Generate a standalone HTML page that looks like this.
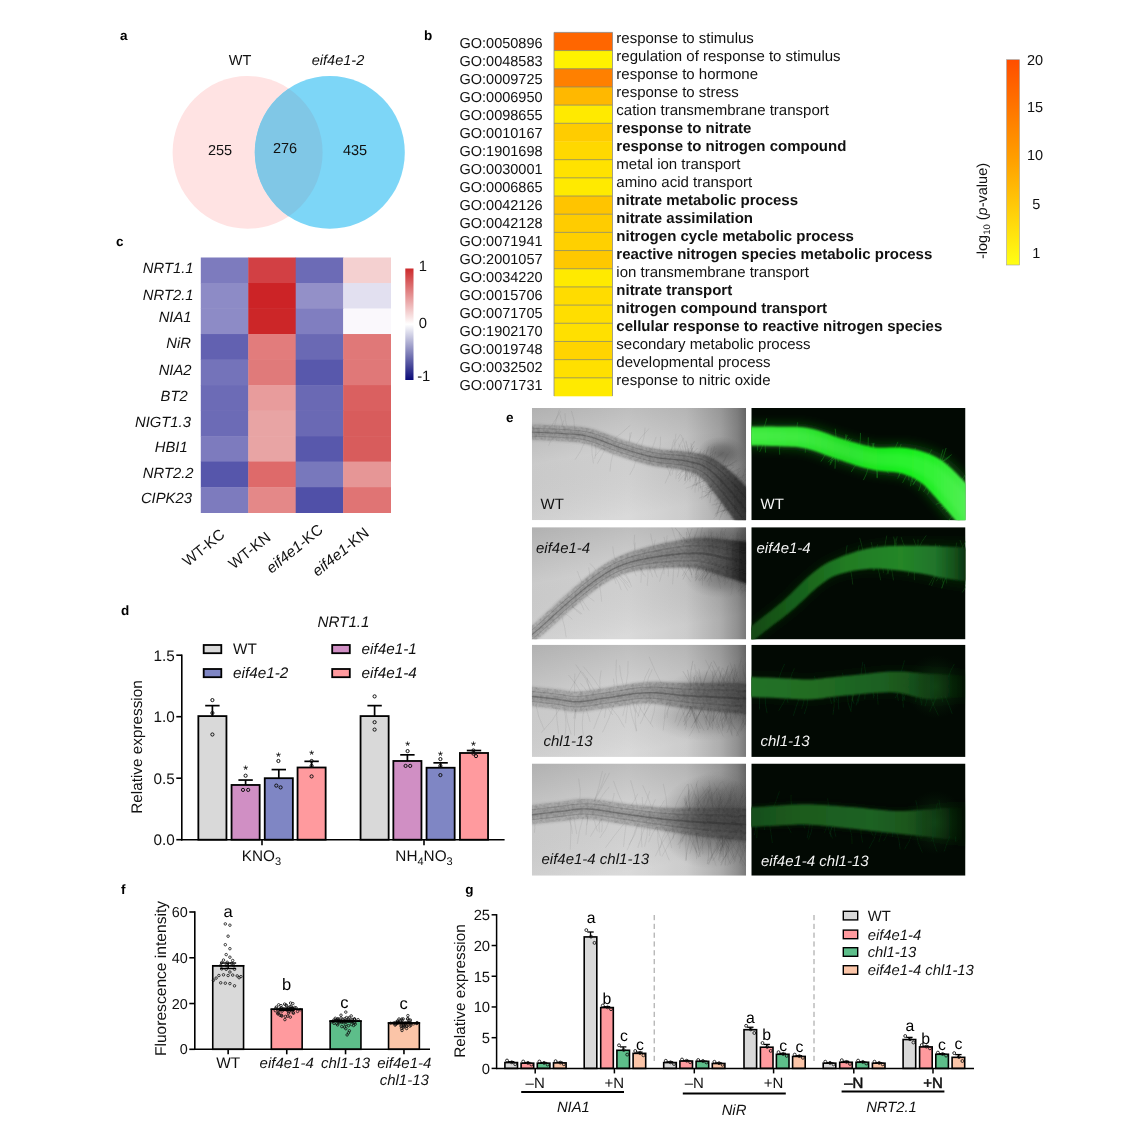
<!DOCTYPE html>
<html><head><meta charset="utf-8"><title>Figure</title>
<style>html,body{margin:0;padding:0;background:#fff;}body{width:1127px;height:1145px;overflow:hidden;font-family:"Liberation Sans",sans-serif;}svg{display:block;will-change:transform;transform:translateZ(0);}</style></head>
<body>
<svg width="1127" height="1145" viewBox="0 0 1127 1145" font-family="'Liberation Sans', sans-serif" text-rendering="geometricPrecision">
<rect width="1127" height="1145" fill="#fff"/>
<ellipse cx="247.6" cy="152.4" rx="75.0" ry="76.4" fill="#FFE3E3"/>
<ellipse cx="329.8" cy="152.4" rx="75.0" ry="76.4" fill="#7DD6F7"/>
<clipPath id="ca"><ellipse cx="247.6" cy="152.4" rx="75.0" ry="76.4"/></clipPath>
<ellipse cx="329.8" cy="152.4" rx="75.0" ry="76.4" fill="#80C7E6" clip-path="url(#ca)"/>
<text x="240.00" y="65.30" font-size="14.5" text-anchor="middle" font-weight="normal" font-style="normal" fill="#111" >WT</text>
<text x="338.00" y="65.30" font-size="14.5" text-anchor="middle" font-weight="normal" font-style="italic" fill="#111" >eif4e1-2</text>
<text x="220.00" y="154.50" font-size="14.5" text-anchor="middle" font-weight="normal" font-style="normal" fill="#111" >255</text>
<text x="285.00" y="153.00" font-size="14.5" text-anchor="middle" font-weight="normal" font-style="normal" fill="#111" >276</text>
<text x="355.00" y="154.50" font-size="14.5" text-anchor="middle" font-weight="normal" font-style="normal" fill="#111" >435</text>
<rect x="554.00" y="32.40" width="58.50" height="18.48" fill="#FF6600" stroke="none" stroke-width="0" />
<rect x="554.00" y="50.58" width="58.50" height="18.48" fill="#FFF200" stroke="none" stroke-width="0" />
<rect x="554.00" y="68.76" width="58.50" height="18.48" fill="#FF8000" stroke="none" stroke-width="0" />
<rect x="554.00" y="86.94" width="58.50" height="18.48" fill="#FFB800" stroke="none" stroke-width="0" />
<rect x="554.00" y="105.12" width="58.50" height="18.48" fill="#FFEA00" stroke="none" stroke-width="0" />
<rect x="554.00" y="123.30" width="58.50" height="18.48" fill="#FFCC00" stroke="none" stroke-width="0" />
<rect x="554.00" y="141.48" width="58.50" height="18.48" fill="#FFD800" stroke="none" stroke-width="0" />
<rect x="554.00" y="159.66" width="58.50" height="18.48" fill="#FFE200" stroke="none" stroke-width="0" />
<rect x="554.00" y="177.84" width="58.50" height="18.48" fill="#FFEA00" stroke="none" stroke-width="0" />
<rect x="554.00" y="196.02" width="58.50" height="18.48" fill="#FFC400" stroke="none" stroke-width="0" />
<rect x="554.00" y="214.20" width="58.50" height="18.48" fill="#FFCC00" stroke="none" stroke-width="0" />
<rect x="554.00" y="232.38" width="58.50" height="18.48" fill="#FFD000" stroke="none" stroke-width="0" />
<rect x="554.00" y="250.56" width="58.50" height="18.48" fill="#FFC800" stroke="none" stroke-width="0" />
<rect x="554.00" y="268.74" width="58.50" height="18.48" fill="#FFEA00" stroke="none" stroke-width="0" />
<rect x="554.00" y="286.92" width="58.50" height="18.48" fill="#FFDC00" stroke="none" stroke-width="0" />
<rect x="554.00" y="305.10" width="58.50" height="18.48" fill="#FFDE00" stroke="none" stroke-width="0" />
<rect x="554.00" y="323.28" width="58.50" height="18.48" fill="#FFE000" stroke="none" stroke-width="0" />
<rect x="554.00" y="341.46" width="58.50" height="18.48" fill="#FFD400" stroke="none" stroke-width="0" />
<rect x="554.00" y="359.64" width="58.50" height="18.48" fill="#FFE000" stroke="none" stroke-width="0" />
<rect x="554.00" y="377.82" width="58.50" height="18.48" fill="#FFEA00" stroke="none" stroke-width="0" />
<line x1="554.00" y1="50.58" x2="612.50" y2="50.58" stroke="#8a8a6a" stroke-width="0.8" />
<line x1="554.00" y1="68.76" x2="612.50" y2="68.76" stroke="#8a8a6a" stroke-width="0.8" />
<line x1="554.00" y1="86.94" x2="612.50" y2="86.94" stroke="#8a8a6a" stroke-width="0.8" />
<line x1="554.00" y1="105.12" x2="612.50" y2="105.12" stroke="#8a8a6a" stroke-width="0.8" />
<line x1="554.00" y1="123.30" x2="612.50" y2="123.30" stroke="#8a8a6a" stroke-width="0.8" />
<line x1="554.00" y1="159.66" x2="612.50" y2="159.66" stroke="#8a8a6a" stroke-width="0.8" />
<line x1="554.00" y1="177.84" x2="612.50" y2="177.84" stroke="#8a8a6a" stroke-width="0.8" />
<line x1="554.00" y1="196.02" x2="612.50" y2="196.02" stroke="#8a8a6a" stroke-width="0.8" />
<line x1="554.00" y1="214.20" x2="612.50" y2="214.20" stroke="#8a8a6a" stroke-width="0.8" />
<line x1="554.00" y1="232.38" x2="612.50" y2="232.38" stroke="#8a8a6a" stroke-width="0.8" />
<line x1="554.00" y1="250.56" x2="612.50" y2="250.56" stroke="#8a8a6a" stroke-width="0.8" />
<line x1="554.00" y1="268.74" x2="612.50" y2="268.74" stroke="#8a8a6a" stroke-width="0.8" />
<line x1="554.00" y1="286.92" x2="612.50" y2="286.92" stroke="#8a8a6a" stroke-width="0.8" />
<line x1="554.00" y1="305.10" x2="612.50" y2="305.10" stroke="#8a8a6a" stroke-width="0.8" />
<line x1="554.00" y1="323.28" x2="612.50" y2="323.28" stroke="#8a8a6a" stroke-width="0.8" />
<line x1="554.00" y1="341.46" x2="612.50" y2="341.46" stroke="#8a8a6a" stroke-width="0.8" />
<line x1="554.00" y1="359.64" x2="612.50" y2="359.64" stroke="#8a8a6a" stroke-width="0.8" />
<line x1="554.00" y1="377.82" x2="612.50" y2="377.82" stroke="#8a8a6a" stroke-width="0.8" />
<path d="M554.0 396.0 L554.0 32.4 L612.5 32.4 L612.5 396.0" fill="none" stroke="#8a8a8a" stroke-width="0.8"/>
<text x="459.50" y="47.70" font-size="14.5" text-anchor="start" font-weight="normal" font-style="normal" fill="#111" >GO:0050896</text>
<text x="616.30" y="42.60" font-size="15.0" text-anchor="start" font-weight="normal" font-style="normal" fill="#111" >response to stimulus</text>
<text x="459.50" y="65.71" font-size="14.5" text-anchor="start" font-weight="normal" font-style="normal" fill="#111" >GO:0048583</text>
<text x="616.30" y="60.62" font-size="15.0" text-anchor="start" font-weight="normal" font-style="normal" fill="#111" >regulation of response to stimulus</text>
<text x="459.50" y="83.72" font-size="14.5" text-anchor="start" font-weight="normal" font-style="normal" fill="#111" >GO:0009725</text>
<text x="616.30" y="78.64" font-size="15.0" text-anchor="start" font-weight="normal" font-style="normal" fill="#111" >response to hormone</text>
<text x="459.50" y="101.73" font-size="14.5" text-anchor="start" font-weight="normal" font-style="normal" fill="#111" >GO:0006950</text>
<text x="616.30" y="96.66" font-size="15.0" text-anchor="start" font-weight="normal" font-style="normal" fill="#111" >response to stress</text>
<text x="459.50" y="119.74" font-size="14.5" text-anchor="start" font-weight="normal" font-style="normal" fill="#111" >GO:0098655</text>
<text x="616.30" y="114.68" font-size="15.0" text-anchor="start" font-weight="normal" font-style="normal" fill="#111" >cation transmembrane transport</text>
<text x="459.50" y="137.75" font-size="14.5" text-anchor="start" font-weight="normal" font-style="normal" fill="#111" >GO:0010167</text>
<text x="616.30" y="132.70" font-size="15.0" text-anchor="start" font-weight="bold" font-style="normal" fill="#111" >response to nitrate</text>
<text x="459.50" y="155.76" font-size="14.5" text-anchor="start" font-weight="normal" font-style="normal" fill="#111" >GO:1901698</text>
<text x="616.30" y="150.72" font-size="15.0" text-anchor="start" font-weight="bold" font-style="normal" fill="#111" >response to nitrogen compound</text>
<text x="459.50" y="173.77" font-size="14.5" text-anchor="start" font-weight="normal" font-style="normal" fill="#111" >GO:0030001</text>
<text x="616.30" y="168.74" font-size="15.0" text-anchor="start" font-weight="normal" font-style="normal" fill="#111" >metal ion transport</text>
<text x="459.50" y="191.78" font-size="14.5" text-anchor="start" font-weight="normal" font-style="normal" fill="#111" >GO:0006865</text>
<text x="616.30" y="186.76" font-size="15.0" text-anchor="start" font-weight="normal" font-style="normal" fill="#111" >amino acid transport</text>
<text x="459.50" y="209.79" font-size="14.5" text-anchor="start" font-weight="normal" font-style="normal" fill="#111" >GO:0042126</text>
<text x="616.30" y="204.78" font-size="15.0" text-anchor="start" font-weight="bold" font-style="normal" fill="#111" >nitrate metabolic process</text>
<text x="459.50" y="227.80" font-size="14.5" text-anchor="start" font-weight="normal" font-style="normal" fill="#111" >GO:0042128</text>
<text x="616.30" y="222.80" font-size="15.0" text-anchor="start" font-weight="bold" font-style="normal" fill="#111" >nitrate assimilation</text>
<text x="459.50" y="245.81" font-size="14.5" text-anchor="start" font-weight="normal" font-style="normal" fill="#111" >GO:0071941</text>
<text x="616.30" y="240.82" font-size="15.0" text-anchor="start" font-weight="bold" font-style="normal" fill="#111" >nitrogen cycle metabolic process</text>
<text x="459.50" y="263.82" font-size="14.5" text-anchor="start" font-weight="normal" font-style="normal" fill="#111" >GO:2001057</text>
<text x="616.30" y="258.84" font-size="15.0" text-anchor="start" font-weight="bold" font-style="normal" fill="#111" >reactive nitrogen species metabolic process</text>
<text x="459.50" y="281.83" font-size="14.5" text-anchor="start" font-weight="normal" font-style="normal" fill="#111" >GO:0034220</text>
<text x="616.30" y="276.86" font-size="15.0" text-anchor="start" font-weight="normal" font-style="normal" fill="#111" >ion transmembrane transport</text>
<text x="459.50" y="299.84" font-size="14.5" text-anchor="start" font-weight="normal" font-style="normal" fill="#111" >GO:0015706</text>
<text x="616.30" y="294.88" font-size="15.0" text-anchor="start" font-weight="bold" font-style="normal" fill="#111" >nitrate transport</text>
<text x="459.50" y="317.85" font-size="14.5" text-anchor="start" font-weight="normal" font-style="normal" fill="#111" >GO:0071705</text>
<text x="616.30" y="312.90" font-size="15.0" text-anchor="start" font-weight="bold" font-style="normal" fill="#111" >nitrogen compound transport</text>
<text x="459.50" y="335.86" font-size="14.5" text-anchor="start" font-weight="normal" font-style="normal" fill="#111" >GO:1902170</text>
<text x="616.30" y="330.92" font-size="15.0" text-anchor="start" font-weight="bold" font-style="normal" fill="#111" >cellular response to reactive nitrogen species</text>
<text x="459.50" y="353.87" font-size="14.5" text-anchor="start" font-weight="normal" font-style="normal" fill="#111" >GO:0019748</text>
<text x="616.30" y="348.94" font-size="15.0" text-anchor="start" font-weight="normal" font-style="normal" fill="#111" >secondary metabolic process</text>
<text x="459.50" y="371.88" font-size="14.5" text-anchor="start" font-weight="normal" font-style="normal" fill="#111" >GO:0032502</text>
<text x="616.30" y="366.96" font-size="15.0" text-anchor="start" font-weight="normal" font-style="normal" fill="#111" >developmental process</text>
<text x="459.50" y="389.89" font-size="14.5" text-anchor="start" font-weight="normal" font-style="normal" fill="#111" >GO:0071731</text>
<text x="616.30" y="384.98" font-size="15.0" text-anchor="start" font-weight="normal" font-style="normal" fill="#111" >response to nitric oxide</text>
<linearGradient id="gb" x1="0" y1="0" x2="0" y2="1"><stop offset="0" stop-color="#FF4E00"/><stop offset="0.5" stop-color="#FFA200"/><stop offset="1" stop-color="#FFFF14"/></linearGradient>
<rect x="1006.60" y="59.70" width="13.00" height="205.30" fill="url(#gb)" stroke="#a0a0a0" stroke-width="0.6" />
<text x="1035.00" y="64.70" font-size="14.5" text-anchor="middle" font-weight="normal" font-style="normal" fill="#111" >20</text>
<text x="1035.00" y="111.60" font-size="14.5" text-anchor="middle" font-weight="normal" font-style="normal" fill="#111" >15</text>
<text x="1035.00" y="160.30" font-size="14.5" text-anchor="middle" font-weight="normal" font-style="normal" fill="#111" >10</text>
<text x="1036.30" y="209.20" font-size="14.5" text-anchor="middle" font-weight="normal" font-style="normal" fill="#111" >5</text>
<text x="1036.30" y="258.00" font-size="14.5" text-anchor="middle" font-weight="normal" font-style="normal" fill="#111" >1</text>
<text transform="translate(987.2,259.0) rotate(-90)" font-size="14.5" fill="#111">-log<tspan font-size="9.5" dy="3">10</tspan><tspan dy="-3"> (</tspan><tspan font-style="italic">p</tspan>-value)</text>
<rect x="200.80" y="257.50" width="47.85" height="25.91" fill="#7D7BBE" stroke="none" stroke-width="0" />
<rect x="248.25" y="257.50" width="47.85" height="25.91" fill="#D24044" stroke="none" stroke-width="0" />
<rect x="295.70" y="257.50" width="47.85" height="25.91" fill="#6C6BB6" stroke="none" stroke-width="0" />
<rect x="343.15" y="257.50" width="47.85" height="25.91" fill="#F4D0D0" stroke="none" stroke-width="0" />
<rect x="200.80" y="283.01" width="47.85" height="25.91" fill="#8D8BC6" stroke="none" stroke-width="0" />
<rect x="248.25" y="283.01" width="47.85" height="25.91" fill="#CC2326" stroke="none" stroke-width="0" />
<rect x="295.70" y="283.01" width="47.85" height="25.91" fill="#9390C8" stroke="none" stroke-width="0" />
<rect x="343.15" y="283.01" width="47.85" height="25.91" fill="#E2E0F0" stroke="none" stroke-width="0" />
<rect x="200.80" y="308.52" width="47.85" height="25.91" fill="#8D8BC6" stroke="none" stroke-width="0" />
<rect x="248.25" y="308.52" width="47.85" height="25.91" fill="#CC2628" stroke="none" stroke-width="0" />
<rect x="295.70" y="308.52" width="47.85" height="25.91" fill="#807EC0" stroke="none" stroke-width="0" />
<rect x="343.15" y="308.52" width="47.85" height="25.91" fill="#FAF8FC" stroke="none" stroke-width="0" />
<rect x="200.80" y="334.03" width="47.85" height="25.91" fill="#6261B1" stroke="none" stroke-width="0" />
<rect x="248.25" y="334.03" width="47.85" height="25.91" fill="#E27C7C" stroke="none" stroke-width="0" />
<rect x="295.70" y="334.03" width="47.85" height="25.91" fill="#6A69B4" stroke="none" stroke-width="0" />
<rect x="343.15" y="334.03" width="47.85" height="25.91" fill="#E07878" stroke="none" stroke-width="0" />
<rect x="200.80" y="359.54" width="47.85" height="25.91" fill="#7473BA" stroke="none" stroke-width="0" />
<rect x="248.25" y="359.54" width="47.85" height="25.91" fill="#E07A7A" stroke="none" stroke-width="0" />
<rect x="295.70" y="359.54" width="47.85" height="25.91" fill="#5858AC" stroke="none" stroke-width="0" />
<rect x="343.15" y="359.54" width="47.85" height="25.91" fill="#E07878" stroke="none" stroke-width="0" />
<rect x="200.80" y="385.05" width="47.85" height="25.91" fill="#6C6BB6" stroke="none" stroke-width="0" />
<rect x="248.25" y="385.05" width="47.85" height="25.91" fill="#E89C9C" stroke="none" stroke-width="0" />
<rect x="295.70" y="385.05" width="47.85" height="25.91" fill="#6A69B4" stroke="none" stroke-width="0" />
<rect x="343.15" y="385.05" width="47.85" height="25.91" fill="#DA6060" stroke="none" stroke-width="0" />
<rect x="200.80" y="410.56" width="47.85" height="25.91" fill="#6C6BB6" stroke="none" stroke-width="0" />
<rect x="248.25" y="410.56" width="47.85" height="25.91" fill="#E8A4A4" stroke="none" stroke-width="0" />
<rect x="295.70" y="410.56" width="47.85" height="25.91" fill="#6A69B4" stroke="none" stroke-width="0" />
<rect x="343.15" y="410.56" width="47.85" height="25.91" fill="#D85C5C" stroke="none" stroke-width="0" />
<rect x="200.80" y="436.07" width="47.85" height="25.91" fill="#7D7BBE" stroke="none" stroke-width="0" />
<rect x="248.25" y="436.07" width="47.85" height="25.91" fill="#E8A4A4" stroke="none" stroke-width="0" />
<rect x="295.70" y="436.07" width="47.85" height="25.91" fill="#5858AC" stroke="none" stroke-width="0" />
<rect x="343.15" y="436.07" width="47.85" height="25.91" fill="#D85C5C" stroke="none" stroke-width="0" />
<rect x="200.80" y="461.58" width="47.85" height="25.91" fill="#5656AB" stroke="none" stroke-width="0" />
<rect x="248.25" y="461.58" width="47.85" height="25.91" fill="#DE6A6A" stroke="none" stroke-width="0" />
<rect x="295.70" y="461.58" width="47.85" height="25.91" fill="#7878BC" stroke="none" stroke-width="0" />
<rect x="343.15" y="461.58" width="47.85" height="25.91" fill="#E69696" stroke="none" stroke-width="0" />
<rect x="200.80" y="487.09" width="47.85" height="25.91" fill="#7D7BBE" stroke="none" stroke-width="0" />
<rect x="248.25" y="487.09" width="47.85" height="25.91" fill="#E48888" stroke="none" stroke-width="0" />
<rect x="295.70" y="487.09" width="47.85" height="25.91" fill="#5050A8" stroke="none" stroke-width="0" />
<rect x="343.15" y="487.09" width="47.85" height="25.91" fill="#E07474" stroke="none" stroke-width="0" />
<text x="193.50" y="272.80" font-size="14.8" text-anchor="end" font-weight="normal" font-style="italic" fill="#111" >NRT1.1</text>
<text x="193.50" y="300.41" font-size="14.8" text-anchor="end" font-weight="normal" font-style="italic" fill="#111" >NRT2.1</text>
<text x="191.60" y="322.42" font-size="14.8" text-anchor="end" font-weight="normal" font-style="italic" fill="#111" >NIA1</text>
<text x="190.90" y="348.13" font-size="14.8" text-anchor="end" font-weight="normal" font-style="italic" fill="#111" >NiR</text>
<text x="191.60" y="375.04" font-size="14.8" text-anchor="end" font-weight="normal" font-style="italic" fill="#111" >NIA2</text>
<text x="187.70" y="400.65" font-size="14.8" text-anchor="end" font-weight="normal" font-style="italic" fill="#111" >BT2</text>
<text x="190.90" y="427.26" font-size="14.8" text-anchor="end" font-weight="normal" font-style="italic" fill="#111" >NIGT1.3</text>
<text x="187.70" y="451.87" font-size="14.8" text-anchor="end" font-weight="normal" font-style="italic" fill="#111" >HBI1</text>
<text x="193.50" y="478.48" font-size="14.8" text-anchor="end" font-weight="normal" font-style="italic" fill="#111" >NRT2.2</text>
<text x="191.90" y="502.99" font-size="14.8" text-anchor="end" font-weight="normal" font-style="italic" fill="#111" >CIPK23</text>
<text transform="translate(225.9,536.2) rotate(-39)" text-anchor="end" font-size="15.2" fill="#111">WT-KC</text>
<text transform="translate(271.8,539.0) rotate(-39)" text-anchor="end" font-size="15.2" fill="#111">WT-KN</text>
<text transform="translate(324.0,531.4) rotate(-39)" text-anchor="end" font-size="15.2" fill="#111"><tspan font-style="italic">eif4e1</tspan>-KC</text>
<text transform="translate(369.9,534.6) rotate(-39)" text-anchor="end" font-size="15.2" fill="#111"><tspan font-style="italic">eif4e1</tspan>-KN</text>
<linearGradient id="gc" x1="0" y1="0" x2="0" y2="1"><stop offset="0" stop-color="#CC2A2C"/><stop offset="0.5" stop-color="#FFFFFF"/><stop offset="1" stop-color="#0A0A78"/></linearGradient>
<rect x="405.30" y="268.50" width="8.20" height="111.50" fill="url(#gc)" stroke="none" stroke-width="0" />
<text x="418.80" y="271.00" font-size="14.8" text-anchor="start" font-weight="normal" font-style="normal" fill="#111" >1</text>
<text x="418.80" y="328.00" font-size="14.8" text-anchor="start" font-weight="normal" font-style="normal" fill="#111" >0</text>
<text x="417.20" y="380.50" font-size="14.8" text-anchor="start" font-weight="normal" font-style="normal" fill="#111" >-1</text>
<text x="343.50" y="627.20" font-size="15.2" text-anchor="middle" font-weight="normal" font-style="italic" fill="#111" >NRT1.1</text>
<rect x="203.70" y="645.00" width="17.60" height="8.20" fill="#D9D9D9" stroke="#000" stroke-width="1.8" />
<text x="233.10" y="654.30" font-size="15.3" text-anchor="start" font-weight="normal" font-style="normal" fill="#111" >WT</text>
<rect x="203.70" y="669.00" width="17.60" height="8.20" fill="#7F86C4" stroke="#000" stroke-width="1.8" />
<text x="233.10" y="678.30" font-size="15.3" text-anchor="start" font-weight="normal" font-style="italic" fill="#111" >eif4e1-2</text>
<rect x="332.20" y="645.00" width="17.60" height="8.20" fill="#D08FC4" stroke="#000" stroke-width="1.8" />
<text x="361.60" y="654.30" font-size="15.3" text-anchor="start" font-weight="normal" font-style="italic" fill="#111" >eif4e1-1</text>
<rect x="332.20" y="669.00" width="17.60" height="8.20" fill="#FF9A9E" stroke="#000" stroke-width="1.8" />
<text x="361.60" y="678.30" font-size="15.3" text-anchor="start" font-weight="normal" font-style="italic" fill="#111" >eif4e1-4</text>
<rect x="198.35" y="716.09" width="28.10" height="123.62" fill="#D9D9D9" stroke="#000" stroke-width="1.8" />
<line x1="212.40" y1="705.63" x2="212.40" y2="716.09" stroke="#000" stroke-width="1.7" />
<line x1="205.20" y1="705.63" x2="219.60" y2="705.63" stroke="#000" stroke-width="1.7" />
<rect x="231.55" y="784.97" width="28.10" height="54.74" fill="#D08FC4" stroke="#000" stroke-width="1.8" />
<line x1="245.60" y1="780.05" x2="245.60" y2="784.97" stroke="#000" stroke-width="1.7" />
<line x1="238.40" y1="780.05" x2="252.80" y2="780.05" stroke="#000" stroke-width="1.7" />
<rect x="264.75" y="778.20" width="28.10" height="61.50" fill="#7F86C4" stroke="#000" stroke-width="1.8" />
<line x1="278.80" y1="769.59" x2="278.80" y2="778.20" stroke="#000" stroke-width="1.7" />
<line x1="271.60" y1="769.59" x2="286.00" y2="769.59" stroke="#000" stroke-width="1.7" />
<rect x="297.55" y="767.50" width="28.10" height="72.20" fill="#FF9A9E" stroke="#000" stroke-width="1.8" />
<line x1="311.60" y1="761.35" x2="311.60" y2="767.50" stroke="#000" stroke-width="1.7" />
<line x1="304.40" y1="761.35" x2="318.80" y2="761.35" stroke="#000" stroke-width="1.7" />
<rect x="360.55" y="716.09" width="28.10" height="123.62" fill="#D9D9D9" stroke="#000" stroke-width="1.8" />
<line x1="374.60" y1="705.63" x2="374.60" y2="716.09" stroke="#000" stroke-width="1.7" />
<line x1="367.40" y1="705.63" x2="381.80" y2="705.63" stroke="#000" stroke-width="1.7" />
<rect x="393.35" y="760.98" width="28.10" height="78.72" fill="#D08FC4" stroke="#000" stroke-width="1.8" />
<line x1="407.40" y1="754.83" x2="407.40" y2="760.98" stroke="#000" stroke-width="1.7" />
<line x1="400.20" y1="754.83" x2="414.60" y2="754.83" stroke="#000" stroke-width="1.7" />
<rect x="426.55" y="767.75" width="28.10" height="71.96" fill="#7F86C4" stroke="#000" stroke-width="1.8" />
<line x1="440.60" y1="762.83" x2="440.60" y2="767.75" stroke="#000" stroke-width="1.7" />
<line x1="433.40" y1="762.83" x2="447.80" y2="762.83" stroke="#000" stroke-width="1.7" />
<rect x="459.95" y="752.99" width="28.10" height="86.72" fill="#FF9A9E" stroke="#000" stroke-width="1.8" />
<line x1="474.00" y1="750.53" x2="474.00" y2="752.99" stroke="#000" stroke-width="1.7" />
<line x1="466.80" y1="750.53" x2="481.20" y2="750.53" stroke="#000" stroke-width="1.7" />
<circle cx="212.4" cy="700.1" r="1.6" fill="none" stroke="#111" stroke-width="1.0"/>
<circle cx="212.4" cy="713.0" r="1.6" fill="none" stroke="#111" stroke-width="1.0"/>
<circle cx="212.4" cy="734.5" r="1.6" fill="none" stroke="#111" stroke-width="1.0"/>
<circle cx="243.0" cy="789.9" r="1.6" fill="none" stroke="#111" stroke-width="1.0"/>
<circle cx="248.2" cy="789.9" r="1.6" fill="none" stroke="#111" stroke-width="1.0"/>
<circle cx="245.6" cy="775.7" r="1.6" fill="none" stroke="#111" stroke-width="1.0"/>
<circle cx="276.3" cy="785.6" r="1.6" fill="none" stroke="#111" stroke-width="1.0"/>
<circle cx="280.6" cy="787.4" r="1.6" fill="none" stroke="#111" stroke-width="1.0"/>
<circle cx="278.4" cy="761.0" r="1.6" fill="none" stroke="#111" stroke-width="1.0"/>
<circle cx="311.6" cy="776.4" r="1.6" fill="none" stroke="#111" stroke-width="1.0"/>
<circle cx="311.6" cy="765.9" r="1.6" fill="none" stroke="#111" stroke-width="1.0"/>
<circle cx="311.6" cy="761.0" r="1.6" fill="none" stroke="#111" stroke-width="1.0"/>
<circle cx="374.6" cy="696.4" r="1.6" fill="none" stroke="#111" stroke-width="1.0"/>
<circle cx="374.6" cy="722.2" r="1.6" fill="none" stroke="#111" stroke-width="1.0"/>
<circle cx="374.6" cy="729.6" r="1.6" fill="none" stroke="#111" stroke-width="1.0"/>
<circle cx="405.6" cy="765.9" r="1.6" fill="none" stroke="#111" stroke-width="1.0"/>
<circle cx="410.2" cy="765.9" r="1.6" fill="none" stroke="#111" stroke-width="1.0"/>
<circle cx="407.6" cy="751.1" r="1.6" fill="none" stroke="#111" stroke-width="1.0"/>
<circle cx="440.4" cy="775.1" r="1.6" fill="none" stroke="#111" stroke-width="1.0"/>
<circle cx="440.4" cy="765.9" r="1.6" fill="none" stroke="#111" stroke-width="1.0"/>
<circle cx="440.4" cy="759.1" r="1.6" fill="none" stroke="#111" stroke-width="1.0"/>
<circle cx="473.4" cy="753.6" r="1.6" fill="none" stroke="#111" stroke-width="1.0"/>
<circle cx="476.0" cy="756.1" r="1.6" fill="none" stroke="#111" stroke-width="1.0"/>
<circle cx="473.4" cy="750.5" r="1.6" fill="none" stroke="#111" stroke-width="1.0"/>
<text x="245.60" y="774.48" font-size="12.5" text-anchor="middle" font-weight="normal" font-style="normal" fill="#000" >*</text>
<text x="278.40" y="760.95" font-size="12.5" text-anchor="middle" font-weight="normal" font-style="normal" fill="#000" >*</text>
<text x="311.60" y="759.10" font-size="12.5" text-anchor="middle" font-weight="normal" font-style="normal" fill="#000" >*</text>
<text x="407.60" y="749.88" font-size="12.5" text-anchor="middle" font-weight="normal" font-style="normal" fill="#000" >*</text>
<text x="440.40" y="760.33" font-size="12.5" text-anchor="middle" font-weight="normal" font-style="normal" fill="#000" >*</text>
<text x="473.40" y="749.88" font-size="12.5" text-anchor="middle" font-weight="normal" font-style="normal" fill="#000" >*</text>
<line x1="181.80" y1="654.40" x2="181.80" y2="840.50" stroke="#000" stroke-width="1.6" />
<line x1="181.00" y1="839.70" x2="504.60" y2="839.70" stroke="#000" stroke-width="1.6" />
<line x1="176.30" y1="839.70" x2="181.80" y2="839.70" stroke="#000" stroke-width="1.6" />
<text x="174.80" y="845.30" font-size="15.3" text-anchor="end" font-weight="normal" font-style="normal" fill="#111" >0.0</text>
<line x1="176.30" y1="778.20" x2="181.80" y2="778.20" stroke="#000" stroke-width="1.6" />
<text x="174.80" y="783.80" font-size="15.3" text-anchor="end" font-weight="normal" font-style="normal" fill="#111" >0.5</text>
<line x1="176.30" y1="716.70" x2="181.80" y2="716.70" stroke="#000" stroke-width="1.6" />
<text x="174.80" y="722.30" font-size="15.3" text-anchor="end" font-weight="normal" font-style="normal" fill="#111" >1.0</text>
<line x1="176.30" y1="655.20" x2="181.80" y2="655.20" stroke="#000" stroke-width="1.6" />
<text x="174.80" y="660.80" font-size="15.3" text-anchor="end" font-weight="normal" font-style="normal" fill="#111" >1.5</text>
<line x1="262.00" y1="839.70" x2="262.00" y2="845.20" stroke="#000" stroke-width="1.6" />
<line x1="424.00" y1="839.70" x2="424.00" y2="845.20" stroke="#000" stroke-width="1.6" />
<text x="261.5" y="861.3" font-size="15.3" text-anchor="middle" fill="#111">KNO<tspan font-size="11" dy="4">3</tspan></text>
<text x="424" y="861.3" font-size="15.3" text-anchor="middle" fill="#111">NH<tspan font-size="11" dy="4">4</tspan><tspan dy="-4">NO</tspan><tspan font-size="11" dy="4">3</tspan></text>
<text transform="translate(141.5,747) rotate(-90)" text-anchor="middle" font-size="15.3" fill="#111">Relative expression</text>
<defs>
<filter id="bl0" x="-10%" y="-30%" width="120%" height="160%"><feGaussianBlur stdDeviation="0.5"/></filter>
<radialGradient id="fan"><stop offset="0" stop-color="#15501a" stop-opacity="1"/><stop offset="0.5" stop-color="#124416" stop-opacity="0.5"/><stop offset="1" stop-color="#0a300e" stop-opacity="0"/></radialGradient>
<radialGradient id="tuft"><stop offset="0" stop-color="#333" stop-opacity="1"/><stop offset="0.45" stop-color="#333" stop-opacity="0.62"/><stop offset="0.75" stop-color="#333" stop-opacity="0.2"/><stop offset="1" stop-color="#333" stop-opacity="0"/></radialGradient>
<filter id="bl05" x="-10%" y="-30%" width="120%" height="160%"><feGaussianBlur stdDeviation="0.75"/></filter>
<filter id="grain" x="0" y="0" width="100%" height="100%"><feTurbulence type="fractalNoise" baseFrequency="0.35" numOctaves="2" seed="4" result="n"/><feColorMatrix in="n" type="matrix" values="0 0 0 0 0  0 0 0 0 0  0 0 0 0 0  1.6 0 0 0 -0.55"/></filter>
<filter id="bl1" x="-10%" y="-30%" width="120%" height="160%"><feGaussianBlur stdDeviation="1.0"/></filter>
<filter id="bl2" x="-10%" y="-30%" width="120%" height="160%"><feGaussianBlur stdDeviation="2.2"/></filter>
<filter id="bl3" x="-20%" y="-60%" width="140%" height="220%"><feGaussianBlur stdDeviation="5"/></filter>
<linearGradient id="bfh" x1="0" y1="0" x2="1" y2="0"><stop offset="0" stop-color="#d0d0d0"/><stop offset="0.45" stop-color="#d6d6d6"/><stop offset="0.72" stop-color="#c6c6c6"/><stop offset="0.88" stop-color="#a4a4a4"/><stop offset="0.96" stop-color="#848484"/><stop offset="1" stop-color="#6a6a6a"/></linearGradient>
<linearGradient id="bfv" x1="0" y1="0" x2="0.35" y2="1"><stop offset="0" stop-color="#000" stop-opacity="0.15"/><stop offset="0.45" stop-color="#000" stop-opacity="0.03"/><stop offset="1" stop-color="#fff" stop-opacity="0.10"/></linearGradient>
<linearGradient id="bb0" gradientUnits="userSpaceOnUse" x1="0" y1="0" x2="214" y2="0"><stop offset="0" stop-color="#585858" stop-opacity="0.26"/><stop offset="0.5" stop-color="#505050" stop-opacity="0.34"/><stop offset="0.75" stop-color="#404040" stop-opacity="0.48"/><stop offset="0.9" stop-color="#2c2c2c" stop-opacity="0.66"/><stop offset="1" stop-color="#202020" stop-opacity="0.78"/></linearGradient>
<linearGradient id="fb0" gradientUnits="userSpaceOnUse" x1="0" y1="0" x2="214" y2="0"><stop offset="0" stop-color="#3ae83a"/><stop offset="0.25" stop-color="#2ee430"/><stop offset="0.45" stop-color="#20dc22"/><stop offset="0.7" stop-color="#14ee1a"/><stop offset="0.85" stop-color="#24ee28"/><stop offset="1" stop-color="#48ea4a"/></linearGradient>
<clipPath id="cl00"><rect x="531.9" y="408.0" width="214.2" height="112.2"/></clipPath>
<clipPath id="cl01"><rect x="751.3" y="408.0" width="214.2" height="112.2"/></clipPath>
<linearGradient id="bb1" gradientUnits="userSpaceOnUse" x1="0" y1="0" x2="214" y2="0"><stop offset="0" stop-color="#585858" stop-opacity="0.26"/><stop offset="0.4" stop-color="#505050" stop-opacity="0.34"/><stop offset="0.7" stop-color="#444444" stop-opacity="0.46"/><stop offset="0.9" stop-color="#303030" stop-opacity="0.64"/><stop offset="1" stop-color="#141414" stop-opacity="0.88"/></linearGradient>
<linearGradient id="fb1" gradientUnits="userSpaceOnUse" x1="0" y1="0" x2="214" y2="0"><stop offset="0" stop-color="#124a15"/><stop offset="0.25" stop-color="#19641c"/><stop offset="0.45" stop-color="#217c24"/><stop offset="0.7" stop-color="#258628"/><stop offset="0.86" stop-color="#20742a"/><stop offset="0.95" stop-color="#15501a"/><stop offset="1" stop-color="#0c3410"/></linearGradient>
<clipPath id="cl10"><rect x="531.9" y="527.2" width="214.2" height="112.2"/></clipPath>
<clipPath id="cl11"><rect x="751.3" y="527.2" width="214.2" height="112.2"/></clipPath>
<linearGradient id="bb2" gradientUnits="userSpaceOnUse" x1="0" y1="0" x2="214" y2="0"><stop offset="0" stop-color="#585858" stop-opacity="0.26"/><stop offset="0.5" stop-color="#505050" stop-opacity="0.32"/><stop offset="0.75" stop-color="#444444" stop-opacity="0.44"/><stop offset="1" stop-color="#383838" stop-opacity="0.56"/></linearGradient>
<linearGradient id="fb2" gradientUnits="userSpaceOnUse" x1="0" y1="0" x2="214" y2="0"><stop offset="0" stop-color="#237226" stop-opacity="1"/><stop offset="0.3" stop-color="#216c24" stop-opacity="1"/><stop offset="0.6" stop-color="#1d6020" stop-opacity="1"/><stop offset="0.76" stop-color="#19541c" stop-opacity="0.95"/><stop offset="0.86" stop-color="#164a19" stop-opacity="0.6"/><stop offset="0.94" stop-color="#124016" stop-opacity="0.2"/><stop offset="1" stop-color="#103c13" stop-opacity="0"/></linearGradient>
<clipPath id="cl20"><rect x="531.9" y="644.7" width="214.2" height="112.2"/></clipPath>
<clipPath id="cl21"><rect x="751.3" y="644.7" width="214.2" height="112.2"/></clipPath>
<linearGradient id="bb3" gradientUnits="userSpaceOnUse" x1="0" y1="0" x2="214" y2="0"><stop offset="0" stop-color="#585858" stop-opacity="0.26"/><stop offset="0.5" stop-color="#505050" stop-opacity="0.3"/><stop offset="0.75" stop-color="#444444" stop-opacity="0.44"/><stop offset="1" stop-color="#383838" stop-opacity="0.56"/></linearGradient>
<linearGradient id="fb3" gradientUnits="userSpaceOnUse" x1="0" y1="0" x2="214" y2="0"><stop offset="0" stop-color="#184e1a" stop-opacity="1"/><stop offset="0.2" stop-color="#1b5a1e" stop-opacity="1"/><stop offset="0.55" stop-color="#1e6222" stop-opacity="1"/><stop offset="0.76" stop-color="#1b581e" stop-opacity="0.95"/><stop offset="0.86" stop-color="#174c1a" stop-opacity="0.6"/><stop offset="0.94" stop-color="#124016" stop-opacity="0.2"/><stop offset="1" stop-color="#103c13" stop-opacity="0"/></linearGradient>
<clipPath id="cl30"><rect x="531.9" y="763.5" width="214.2" height="112.2"/></clipPath>
<clipPath id="cl31"><rect x="751.3" y="763.5" width="214.2" height="112.2"/></clipPath>
</defs>
<g clip-path="url(#cl00)">
<rect x="531.90" y="408.00" width="214.20" height="112.20" fill="url(#bfh)" stroke="none" stroke-width="0" />
<rect x="531.90" y="408.00" width="214.20" height="112.20" fill="url(#bfv)" stroke="none" stroke-width="0" />
<g transform="translate(531.9,408.0)">
<path d="M143.1 44.5Q142.2 34.9 144.1 25.5M154.6 45.4Q153.3 36.5 149.5 27.1M172.7 69.3Q170.0 79.6 169.8 91.7M19.5 31.1Q18.0 34.4 16.6 37.8M138.8 44.2Q140.4 37.7 142.2 31.2M103.7 37.2Q109.3 28.5 117.3 20.5M104.4 51.3Q102.9 59.5 97.8 66.8M187.8 88.6Q185.8 93.1 184.1 97.8M42.6 20.1Q42.9 11.6 39.4 2.8M177.1 76.2Q171.6 77.5 167.2 79.8M157.0 61.9Q156.5 66.2 157.6 70.8M134.4 57.6Q137.5 62.8 138.9 67.9M81.2 45.5Q78.5 54.0 78.1 63.4M97.3 35.7Q97.9 30.3 98.0 24.8M96.8 34.9Q98.3 29.6 99.6 24.1M191.6 90.0Q189.4 93.8 188.0 98.4M190.2 59.3Q194.8 57.5 199.6 56.0M53.0 33.8Q49.6 43.0 43.2 51.7M161.3 62.9Q161.3 67.3 161.0 71.6M203.3 71.4Q208.3 69.5 214.0 68.5M142.1 58.4Q140.8 62.6 140.0 66.7M211.7 79.6Q217.5 74.8 225.6 72.6M19.2 18.8Q23.8 11.1 28.7 3.4M174.3 71.5Q165.5 77.2 153.7 80.4M188.7 59.5Q198.8 57.2 206.5 52.6M191.0 91.2Q186.6 99.2 182.9 107.9M166.5 47.6Q168.3 44.4 169.4 40.9M127.5 42.7Q128.9 35.8 128.6 28.6M31.2 19.3Q29.9 12.8 27.9 6.3M198.0 98.8Q194.9 99.8 192.3 101.6M211.0 81.2Q217.0 78.9 224.0 77.9M138.3 44.2Q142.6 35.1 148.6 26.2M59.7 36.2Q59.7 45.5 61.6 55.3M70.0 40.1Q66.6 44.1 63.2 48.0M109.1 39.1Q112.8 29.9 113.2 19.8M35.3 19.4Q32.9 12.3 33.0 5.3M140.4 58.4Q137.3 67.0 133.2 75.4M144.9 44.5Q147.3 37.1 151.9 29.9M146.6 58.9Q145.8 61.9 145.7 65.0M119.5 41.4Q122.7 35.4 124.2 28.9M193.1 94.9Q187.8 103.4 181.7 111.0M194.8 96.5Q191.4 103.3 188.1 110.2M168.8 66.4Q166.7 74.4 166.4 83.5M212.2 80.2Q221.3 75.7 227.9 68.3M188.1 88.0Q185.2 90.2 182.4 92.4M29.1 19.3Q31.0 15.9 32.0 12.5M63.8 37.2Q64.6 44.5 62.8 50.8M151.6 45.1Q151.3 41.4 150.3 37.6M165.9 64.7Q164.1 73.7 159.6 81.4M194.1 95.3Q189.6 103.9 186.7 114.5M157.5 61.0Q151.7 67.2 146.6 73.6M196.8 66.9Q202.3 63.4 208.2 60.3M218.5 89.7Q222.7 87.1 226.0 83.4M194.4 96.4Q188.5 97.5 183.9 100.1M181.0 77.5Q176.7 79.3 172.8 81.5M164.9 63.6Q157.5 69.6 152.3 76.3M155.8 60.8Q153.3 66.0 152.4 71.6M173.9 50.2Q178.5 44.9 184.6 40.4M188.5 60.1Q192.4 51.0 198.1 43.6M227.3 97.7Q229.1 93.7 231.9 90.9M185.1 84.5Q174.9 86.0 167.3 90.3M81.8 31.0Q91.1 24.5 98.3 17.2M149.9 44.9Q148.5 40.3 146.8 35.7M154.2 46.0Q154.4 41.9 152.7 37.5M197.5 100.6Q195.8 104.0 194.5 107.8M143.8 59.1Q144.9 65.3 144.0 71.2M73.3 41.1Q69.4 48.4 65.5 55.6M22.5 18.8Q24.6 10.3 27.5 1.8M162.0 63.6Q163.8 74.5 163.3 84.6M196.1 64.6Q202.7 63.1 208.3 60.5" stroke="#555" stroke-opacity="0.12" stroke-width="0.9" fill="none" filter="url(#bl05)"/>
<ellipse cx="189" cy="46" rx="14" ry="10" fill="url(#tuft)" opacity="0.53" transform="translate(189,46) scale(1.75) translate(-189,-46)"/>
<ellipse cx="200" cy="85" rx="16" ry="18" fill="url(#tuft)" opacity="0.31" transform="translate(200,85) scale(1.75) translate(-200,-85)"/>
<path d="M193.7 95.0Q185.9 94.9 179.9 97.1M178.2 51.3Q178.6 45.3 179.8 39.8M202.3 70.1Q205.7 66.6 208.6 62.4M212.1 80.0Q213.8 78.8 215.8 77.8M151.7 60.6Q148.8 64.2 145.7 67.7M189.5 59.8Q194.8 57.8 201.7 57.1M194.1 64.0Q196.4 63.2 199.2 62.8M188.9 59.1Q191.6 58.4 194.1 57.6M169.5 67.9Q166.4 72.5 164.2 77.8M153.7 60.2Q152.6 62.3 150.7 64.2M189.7 92.0Q186.9 100.2 184.4 108.7M187.4 57.3Q189.6 54.7 191.9 52.3M229.9 101.7Q231.8 95.5 234.7 90.6M156.0 45.7Q156.0 43.0 156.6 40.3M181.9 79.3Q178.0 84.4 173.2 88.4M163.4 63.0Q163.4 70.2 164.8 77.8M204.7 71.9Q208.9 68.7 213.9 66.4M228.5 101.1Q230.9 93.2 233.7 85.7M181.7 81.4Q176.1 82.7 170.4 83.8M182.4 81.6Q178.3 83.9 173.1 85.1M153.7 60.1Q153.4 66.6 153.6 73.2M172.3 48.4Q174.6 44.9 176.7 41.4M206.5 77.6Q208.7 73.5 212.1 70.8M157.9 46.5Q159.1 42.0 162.1 37.8M168.4 48.0Q168.2 45.4 168.5 43.0M157.0 61.9Q154.8 67.6 152.3 73.2M224.0 93.8Q228.8 88.5 234.3 84.1M179.3 52.3Q180.6 44.9 182.7 38.0M171.2 67.5Q170.2 70.5 168.4 72.9M179.9 76.6Q177.8 83.3 175.6 90.0M192.9 60.2Q199.3 56.2 205.4 52.0M195.1 93.8Q193.8 96.1 192.3 98.2M160.6 46.9Q159.9 41.1 159.1 35.2M194.5 95.1Q193.2 99.5 191.8 103.9M208.4 77.0Q214.0 72.7 218.0 66.5M215.8 85.4Q224.4 85.0 232.1 83.6M198.2 101.3Q193.3 102.1 188.8 103.4M162.7 62.0Q160.1 65.8 158.2 69.8M157.0 46.2Q155.7 39.6 154.0 32.8M203.9 108.4Q201.3 109.3 198.4 109.8M179.6 78.8Q176.6 80.0 174.0 81.6M193.2 62.6Q195.1 58.0 197.5 53.8M190.8 62.7Q193.2 58.6 194.7 53.5M181.4 52.9Q182.2 47.7 184.1 43.2M153.5 60.4Q153.8 64.5 155.3 68.9M158.5 61.9Q160.4 65.8 160.6 69.3M168.6 49.0Q171.0 46.9 172.6 44.5M196.6 99.7Q194.5 102.7 192.5 105.7M227.4 98.2Q232.4 93.6 235.7 87.0M158.8 46.0Q160.1 43.0 160.4 39.9M166.4 65.3Q164.7 67.1 163.2 69.1M189.2 88.2Q186.1 91.0 182.6 93.4M152.9 60.2Q148.3 65.4 146.5 71.1M229.1 101.4Q231.9 99.9 234.6 98.3M165.7 64.4Q165.2 68.8 164.0 72.8M176.0 51.6Q179.0 47.4 183.7 44.2M157.2 61.7Q158.6 67.8 158.1 73.6M179.5 77.8Q175.6 78.4 172.6 80.0M208.4 114.5Q205.0 118.0 202.0 122.0M169.0 66.9Q168.0 68.8 166.5 70.3M200.5 70.2Q201.5 68.1 203.0 66.6M180.1 51.9Q186.7 48.5 191.9 44.3M222.4 95.1Q226.1 93.4 228.6 90.2M190.4 59.3Q192.1 51.9 195.2 45.8M155.0 61.4Q155.1 66.6 155.8 72.1M175.4 71.0Q168.0 74.4 160.3 77.5M181.4 78.3Q178.8 85.7 178.0 95.0M197.8 100.8Q190.1 102.4 183.8 105.6M179.7 76.6Q177.6 77.6 175.3 78.4M173.8 50.1Q174.2 43.6 177.0 38.3M161.2 62.1Q160.1 64.7 159.0 67.3M168.8 48.8Q170.2 45.3 172.8 42.2M227.0 99.1Q230.6 96.2 233.5 92.5M191.7 90.5Q188.2 97.9 185.0 105.6M194.8 65.2Q198.2 61.7 202.1 58.7M155.7 45.9Q158.6 39.4 162.7 33.1M180.5 77.7Q178.1 79.0 176.4 81.2M203.8 72.0Q205.2 68.6 207.6 66.3M223.1 95.4Q228.9 93.5 235.6 92.9M208.3 75.3Q211.2 67.9 213.8 60.3M207.3 112.1Q204.5 113.9 200.9 114.8M196.4 98.3Q194.1 101.7 190.9 104.0M166.5 64.4Q167.2 72.6 169.2 81.4M226.4 98.4Q229.4 97.2 233.0 96.8M218.7 91.1Q221.1 89.1 224.3 88.2M160.1 46.4Q162.3 43.1 165.7 40.0M203.3 72.2Q205.2 67.7 206.5 62.4M162.0 62.3Q162.2 65.8 161.9 69.1M224.4 94.9Q226.1 91.9 228.3 89.5M182.9 81.0Q176.0 84.4 171.2 90.1" stroke="#444" stroke-opacity="0.14" stroke-width="1.0" fill="none" filter="url(#bl05)"/>
<path d="M-6.3 32.1L-3.4 32.2L0.4 32.3L5.0 32.4L10.0 32.6L15.3 32.8L20.4 33.0L25.2 33.3L29.5 33.5L33.3 33.8L36.8 34.0L40.0 34.3L43.1 34.5L46.0 34.8L48.8 35.3L51.8 35.8L55.0 36.6L58.3 37.5L61.9 38.8L65.7 40.2L69.6 41.7L73.7 43.4L77.8 45.1L82.1 46.7L86.3 48.1L90.4 49.5L94.4 50.8L98.4 52.1L102.5 53.3L106.6 54.5L110.8 55.6L115.0 56.7L119.3 57.7L123.8 58.5L128.4 59.2L133.0 59.7L137.4 60.2L141.6 60.7L145.5 61.2L149.1 61.8L152.2 62.5L155.3 63.2L158.0 64.0L160.3 64.7L162.3 65.5L164.0 66.3L165.5 67.2L167.1 68.3L168.8 69.6L170.6 71.2L172.4 73.1L174.3 75.1L176.3 77.5L178.3 80.1L180.6 83.0L183.0 86.1L185.5 89.3L188.3 93.0L191.5 97.2L194.9 101.9L198.4 106.8L201.8 111.4L204.8 115.7L207.5 119.4L209.4 122.1L234.6 101.9L232.5 99.5L229.6 96.2L226.1 92.2L222.2 87.7L218.2 83.1L214.0 78.6L210.1 74.3L206.5 70.7L203.3 67.6L200.2 64.7L197.2 62.0L194.1 59.4L191.0 56.9L187.8 54.6L184.6 52.4L181.2 50.4L177.8 48.7L174.6 47.3L171.3 46.3L168.2 45.5L165.2 44.9L162.2 44.5L159.1 44.0L155.8 43.5L151.8 43.0L147.6 42.6L143.3 42.3L139.0 42.0L134.7 41.7L130.5 41.4L126.5 40.9L122.7 40.3L118.9 39.6L115.1 38.7L111.2 37.7L107.4 36.6L103.5 35.5L99.6 34.3L95.6 33.1L91.7 31.9L87.8 30.6L83.9 29.1L79.9 27.6L75.8 26.0L71.6 24.4L67.4 22.9L63.2 21.6L59.0 20.4L55.1 19.6L51.4 19.0L47.9 18.5L44.4 18.2L41.1 18.0L37.7 17.9L34.3 17.7L30.5 17.5L26.1 17.2L21.2 17.0L15.9 16.7L10.6 16.5L5.5 16.3L0.9 16.2L-2.9 16.1L-5.7 15.9Z" fill="url(#bb0)" filter="url(#bl1)"/>
<clipPath id="rb0"><path d="M-6.3 31.7L-3.4 31.8L0.4 32.0L5.0 32.1L10.0 32.3L15.3 32.5L20.4 32.7L25.3 33.0L29.5 33.2L33.3 33.5L36.8 33.7L40.0 33.9L43.1 34.2L46.0 34.5L48.9 35.0L51.9 35.5L55.0 36.3L58.4 37.2L62.0 38.4L65.8 39.9L69.7 41.4L73.8 43.1L78.0 44.7L82.2 46.4L86.4 47.8L90.5 49.2L94.5 50.5L98.5 51.7L102.6 53.0L106.7 54.2L110.9 55.3L115.1 56.4L119.4 57.3L123.9 58.2L128.5 58.9L133.0 59.4L137.4 59.9L141.6 60.3L145.6 60.8L149.1 61.4L152.3 62.1L155.3 62.9L158.1 63.6L160.4 64.4L162.4 65.1L164.1 65.9L165.7 66.8L167.3 67.9L169.0 69.2L170.9 70.9L172.7 72.7L174.6 74.8L176.6 77.2L178.7 79.8L181.0 82.6L183.4 85.7L185.9 89.0L188.7 92.6L191.9 96.9L195.3 101.6L198.9 106.4L202.2 111.1L205.3 115.4L207.9 119.0L209.9 121.7L234.1 102.3L232.0 99.9L229.1 96.6L225.6 92.6L221.8 88.1L217.7 83.5L213.6 78.9L209.7 74.7L206.1 71.0L202.9 67.9L199.8 65.1L196.8 62.3L193.8 59.7L190.7 57.2L187.6 54.9L184.3 52.7L181.0 50.8L177.6 49.1L174.4 47.7L171.2 46.7L168.1 45.9L165.1 45.3L162.1 44.8L159.1 44.4L155.7 43.9L151.8 43.4L147.6 43.0L143.3 42.7L139.0 42.4L134.7 42.1L130.5 41.7L126.4 41.3L122.6 40.7L118.8 39.9L115.0 39.0L111.1 38.0L107.3 37.0L103.4 35.8L99.5 34.6L95.5 33.4L91.6 32.2L87.7 30.9L83.8 29.5L79.8 27.9L75.7 26.3L71.5 24.7L67.3 23.2L63.1 21.9L59.0 20.7L55.0 19.9L51.3 19.3L47.8 18.8L44.4 18.5L41.1 18.3L37.7 18.2L34.2 18.0L30.5 17.8L26.1 17.5L21.1 17.3L15.9 17.0L10.6 16.8L5.5 16.7L0.9 16.5L-2.9 16.4L-5.7 16.3Z"/></clipPath>
<rect x="0" y="0" width="214.2" height="112.2" filter="url(#grain)" clip-path="url(#rb0)" opacity="0.16"/>
<path d="M-6.1 27.1L-3.3 27.2L0.6 27.3L5.2 27.5L10.2 27.7L15.5 27.9L20.6 28.1L25.5 28.3L29.8 28.6L33.6 28.8L37.1 29.1L40.4 29.3L43.5 29.5L46.5 29.8L49.6 30.3L52.8 30.8L56.2 31.6L59.8 32.6L63.6 33.9L67.5 35.3L71.5 36.9L75.6 38.5L79.7 40.2L83.9 41.7L88.0 43.1L92.0 44.4L96.0 45.7L100.0 47.0L104.0 48.2L108.0 49.3L112.1 50.4L116.2 51.4L120.4 52.3L124.6 53.1L129.1 53.7L133.5 54.2L137.9 54.6L142.1 55.0L146.2 55.5L149.9 56.0L153.3 56.6L156.5 57.3L159.3 58.0L161.8 58.6L164.1 59.3L166.2 60.1L168.3 61.1L170.4 62.2L172.6 63.7L174.9 65.4L177.2 67.4L179.4 69.5L181.8 71.9L184.1 74.5L186.6 77.4L189.2 80.4L192.0 83.6L195.0 87.2L198.4 91.5L202.1 96.1L205.7 100.9L209.3 105.5L212.5 109.7L215.2 113.3L217.2 115.9L226.8 108.1L224.8 105.6L222.0 102.2L218.6 98.1L214.9 93.6L211.0 88.9L207.1 84.3L203.4 80.1L200.0 76.4L197.0 73.3L194.2 70.3L191.4 67.6L188.6 65.0L185.9 62.5L183.1 60.2L180.3 58.2L177.4 56.3L174.5 54.7L171.8 53.4L169.1 52.4L166.4 51.7L163.7 51.0L160.9 50.5L157.9 50.0L154.7 49.4L151.0 48.8L147.0 48.3L142.8 48.0L138.5 47.6L134.2 47.3L129.9 46.9L125.7 46.3L121.6 45.7L117.7 44.8L113.8 43.9L109.8 42.9L105.9 41.8L101.9 40.6L98.0 39.4L94.0 38.1L90.0 36.9L86.1 35.5L82.1 34.0L78.0 32.5L73.9 30.8L69.8 29.3L65.7 27.8L61.7 26.5L57.8 25.4L54.1 24.6L50.6 24.0L47.3 23.5L44.0 23.2L40.8 23.0L37.4 22.8L34.0 22.6L30.2 22.4L25.9 22.1L20.9 21.9L15.7 21.7L10.4 21.5L5.4 21.3L0.8 21.1L-3.1 21.0L-5.9 20.9Z" fill="#333" fill-opacity="0.14" filter="url(#bl1)"/>
<path d="M-6.0 24.5L-3.2 24.6L0.7 24.8L5.2 24.9L10.3 25.1L15.6 25.3L20.8 25.5L25.7 25.8L30.0 26.0L33.7 26.3L37.2 26.5L40.5 26.7L43.7 26.9L46.8 27.2L50.0 27.7L53.3 28.3L56.9 29.0L60.6 30.1L64.5 31.4L68.4 32.8L72.5 34.4L76.6 36.0L80.7 37.6L84.8 39.2L88.8 40.5L92.8 41.8L96.8 43.1L100.8 44.3L104.8 45.5L108.8 46.7L112.8 47.7L116.8 48.7L120.9 49.6L125.1 50.3L129.4 50.9L133.8 51.3L138.1 51.7L142.4 52.1L146.5 52.5L150.3 53.0L153.9 53.6L157.1 54.3L160.0 54.9L162.6 55.5L165.1 56.2L167.4 57.0L169.7 57.9L172.1 59.1L174.6 60.6L177.1 62.4L179.6 64.4L182.1 66.6L184.6 69.0L187.1 71.7L189.7 74.5L192.5 77.5L195.3 80.6L198.5 84.3L202.0 88.5L205.7 93.2L209.5 97.9L213.1 102.5L216.4 106.6L219.1 110.1L221.2 112.7L222.8 111.3L220.8 108.8L218.0 105.3L214.8 101.2L211.1 96.6L207.3 91.9L203.5 87.3L199.9 83.0L196.7 79.4L193.8 76.2L191.1 73.2L188.4 70.4L185.8 67.8L183.2 65.4L180.7 63.2L178.1 61.2L175.4 59.4L172.8 57.8L170.3 56.6L167.9 55.6L165.4 54.8L162.9 54.2L160.2 53.6L157.3 53.0L154.1 52.4L150.5 51.8L146.6 51.3L142.5 50.9L138.2 50.5L133.9 50.1L129.5 49.7L125.2 49.1L121.1 48.4L117.1 47.6L113.1 46.6L109.1 45.5L105.1 44.4L101.1 43.2L97.2 42.0L93.2 40.7L89.2 39.5L85.2 38.1L81.1 36.6L77.0 35.0L72.9 33.3L68.8 31.8L64.8 30.3L60.9 29.0L57.1 28.0L53.6 27.2L50.2 26.6L47.0 26.1L43.8 25.8L40.6 25.6L37.3 25.4L33.8 25.2L30.0 25.0L25.7 24.7L20.8 24.4L15.6 24.2L10.3 24.0L5.3 23.8L0.7 23.7L-3.1 23.6L-6.0 23.5Z" fill="#222" fill-opacity="0.30" filter="url(#bl0)"/>
<path d="M-6.2 28.4L-3.3 28.5L0.5 28.6L5.1 28.8L10.2 29.0L15.4 29.2L20.6 29.4L25.4 29.6L29.7 29.9L33.5 30.2L37.0 30.4L40.3 30.6L43.4 30.8L46.4 31.2L49.4 31.6L52.6 32.2L55.9 32.9L59.4 33.9L63.1 35.2L67.0 36.6L71.0 38.2L75.1 39.8L79.2 41.5L83.4 43.0L87.5 44.5L91.6 45.8L95.6 47.1L99.6 48.3L103.6 49.5L107.7 50.7L111.8 51.8L115.9 52.8L120.1 53.8L124.4 54.5L128.9 55.2L133.4 55.7L137.7 56.1L142.0 56.5L146.0 57.0L149.7 57.5L153.0 58.2L156.1 58.9L158.9 59.6L161.4 60.3L163.6 61.0L165.6 61.8L167.6 62.7L169.5 63.8L171.6 65.3L173.8 67.0L175.9 68.9L178.1 71.0L180.3 73.4L182.6 76.0L185.0 78.9L187.6 81.9L190.2 85.1L193.2 88.8L196.6 93.0L200.2 97.7L203.8 102.5L207.3 107.1L210.4 111.3L213.1 114.9L215.1 117.5L216.3 116.6L214.3 113.9L211.6 110.4L208.4 106.2L204.9 101.5L201.3 96.8L197.7 92.1L194.3 87.9L191.3 84.2L188.5 81.0L186.0 78.0L183.5 75.1L181.2 72.5L178.9 70.1L176.6 68.0L174.4 66.1L172.2 64.3L170.0 62.9L168.0 61.7L166.0 60.8L163.9 60.0L161.7 59.3L159.1 58.6L156.3 58.0L153.2 57.3L149.8 56.6L146.1 56.1L142.1 55.7L137.8 55.2L133.4 54.8L129.0 54.3L124.6 53.7L120.2 52.9L116.1 52.0L112.0 51.0L107.9 49.9L103.8 48.7L99.8 47.5L95.8 46.3L91.8 45.0L87.8 43.7L83.7 42.3L79.5 40.7L75.4 39.1L71.3 37.4L67.3 35.9L63.4 34.4L59.7 33.2L56.1 32.1L52.7 31.4L49.5 30.8L46.5 30.4L43.4 30.1L40.3 29.8L37.1 29.6L33.5 29.4L29.8 29.1L25.5 28.9L20.6 28.6L15.4 28.4L10.2 28.2L5.1 28.0L0.6 27.9L-3.3 27.7L-6.1 27.6Z" fill="#222" fill-opacity="0.15" filter="url(#bl0)"/>
<path d="M-5.9 20.4L-3.0 20.5L0.8 20.6L5.4 20.8L10.4 20.9L15.7 21.1L21.0 21.4L25.9 21.6L30.2 21.9L34.0 22.1L37.5 22.3L40.8 22.5L44.1 22.7L47.3 23.0L50.7 23.4L54.2 24.0L57.9 24.9L61.9 25.9L65.9 27.3L70.0 28.7L74.1 30.3L78.2 31.9L82.3 33.5L86.3 35.0L90.2 36.3L94.2 37.6L98.1 38.8L102.1 40.0L106.0 41.2L110.0 42.3L113.9 43.3L117.8 44.3L121.8 45.1L125.8 45.7L129.9 46.3L134.2 46.7L138.6 47.0L142.8 47.3L147.0 47.7L151.1 48.2L154.8 48.7L158.1 49.3L161.0 49.8L163.9 50.4L166.6 51.0L169.3 51.8L172.1 52.8L174.9 54.1L177.8 55.7L180.7 57.5L183.6 59.6L186.4 61.9L189.2 64.3L192.0 67.0L194.8 69.7L197.7 72.7L200.7 75.8L204.1 79.4L207.9 83.7L211.8 88.3L215.7 93.0L219.4 97.5L222.8 101.6L225.6 105.0L227.7 107.4L228.9 106.5L226.8 104.0L224.0 100.6L220.6 96.5L216.8 92.0L212.9 87.4L208.9 82.8L205.2 78.5L201.8 74.9L198.7 71.8L195.8 68.8L192.9 66.1L190.1 63.5L187.2 61.0L184.4 58.7L181.4 56.6L178.4 54.7L175.4 53.1L172.5 51.8L169.7 50.8L166.9 50.0L164.1 49.4L161.2 48.9L158.3 48.4L155.0 47.8L151.2 47.3L147.1 46.8L142.9 46.5L138.6 46.1L134.3 45.8L130.0 45.4L125.9 44.9L121.9 44.2L118.0 43.4L114.1 42.5L110.2 41.5L106.3 40.4L102.3 39.2L98.4 38.0L94.4 36.8L90.5 35.5L86.5 34.2L82.5 32.7L78.5 31.2L74.4 29.6L70.3 28.0L66.2 26.5L62.1 25.2L58.1 24.1L54.3 23.3L50.8 22.7L47.4 22.2L44.1 21.9L40.9 21.7L37.5 21.5L34.0 21.3L30.3 21.1L25.9 20.8L21.0 20.6L15.8 20.4L10.5 20.2L5.4 20.0L0.8 19.8L-3.0 19.7L-5.8 19.6Z" fill="#222" fill-opacity="0.15" filter="url(#bl0)"/>
</g></g>
<g clip-path="url(#cl01)">
<rect x="751.30" y="408.00" width="214.20" height="112.20" fill="#020903" stroke="none" stroke-width="0" />
<g transform="translate(751.3,408.0)">
<path d="M161.6 67.1Q161.7 70.8 161.0 74.1M84.7 48.7Q80.5 52.6 78.5 57.2M142.9 41.9Q144.9 37.9 146.7 33.8M170.3 71.5Q169.7 77.7 167.4 82.9M189.9 54.4Q192.6 47.4 194.8 40.0M84.3 47.7Q84.0 54.2 83.7 60.7M84.9 31.1Q84.5 26.0 83.9 20.7M195.4 97.1Q192.4 97.9 189.4 98.8M96.9 34.8Q98.8 32.9 100.2 30.8M82.5 48.2Q79.7 51.2 76.9 54.2M95.3 34.4Q96.5 32.2 98.3 30.1M188.7 54.9Q189.6 47.6 191.8 41.4M209.1 110.7Q206.3 114.6 203.6 118.7M179.3 80.0Q177.6 83.0 176.4 86.5M135.0 61.1Q135.8 63.3 137.1 65.5M94.2 33.3Q94.8 30.0 96.0 26.9M230.5 96.0Q232.0 94.2 233.6 92.7M188.9 54.9Q194.3 52.5 198.4 48.9M122.3 41.7Q121.8 38.4 122.4 35.2M74.4 45.6Q72.3 49.7 69.6 53.6M192.9 93.4Q188.4 94.6 184.5 96.4M6.9 35.6Q6.1 39.0 6.1 42.5M117.1 58.6Q116.0 65.6 112.1 72.1M11.8 35.7Q10.6 39.8 8.3 43.9M150.1 62.9Q148.4 66.8 146.3 70.6M14.0 35.8Q13.7 40.2 14.3 44.5M194.6 60.7Q195.8 58.0 197.2 55.5M122.9 41.4Q122.1 38.0 122.7 34.8M12.3 20.5Q14.3 15.4 15.5 10.3M203.1 105.9Q198.9 109.9 195.7 114.9M166.4 69.8Q163.7 73.3 161.6 77.2M148.9 62.3Q148.5 65.2 147.6 67.9M81.9 48.2Q80.7 51.9 78.8 55.3M163.4 43.9Q163.7 41.8 164.2 39.7M29.1 36.3Q27.5 41.4 28.4 46.7M116.8 39.9Q116.8 34.7 117.0 29.4M176.6 48.3Q178.8 44.9 180.5 41.3M166.8 69.3Q163.9 72.7 161.5 76.3M198.2 100.6Q196.5 102.9 194.1 104.2M54.2 38.1Q54.1 41.4 53.9 44.7M125.2 60.2Q125.6 65.0 125.6 69.7M209.4 72.7Q212.1 69.9 214.2 66.6M187.9 55.5Q194.1 51.0 200.4 46.6M157.9 64.8Q157.3 68.4 157.6 72.2M106.0 55.6Q102.1 59.5 100.0 63.9M176.3 75.4Q174.9 80.1 172.3 83.8M196.2 96.9Q194.0 99.5 191.2 101.5M93.5 33.9Q94.7 30.3 94.6 26.3M161.8 66.6Q159.5 72.1 159.3 78.2M121.6 41.7Q121.8 38.4 120.7 34.9M208.2 111.4Q204.3 115.8 198.9 118.3M209.1 113.9Q203.5 116.6 197.2 118.3M210.4 114.5Q206.2 115.5 202.2 116.8M108.1 38.4Q109.4 31.9 109.2 24.9M211.1 113.5Q206.2 116.9 202.6 121.6M45.9 20.9Q45.4 17.5 46.4 14.2M156.7 65.1Q153.7 69.9 151.3 74.8M86.7 49.0Q86.5 51.4 87.0 54.0M147.2 42.0Q149.0 39.0 149.9 35.9M125.5 60.1Q126.8 65.3 126.0 70.2" stroke="#1fa824" stroke-opacity="0.42" stroke-width="1.0" fill="none" filter="url(#bl0)"/>
<path d="M-6.1 40.5L-3.3 40.6L0.6 40.7L5.2 40.8L10.2 40.9L15.4 41.1L20.6 41.2L25.3 41.4L29.6 41.7L33.4 41.9L37.0 42.0L40.2 42.2L43.1 42.4L45.8 42.6L48.4 42.9L51.1 43.4L54.0 44.0L57.2 44.8L60.6 45.9L64.4 47.2L68.4 48.7L72.6 50.3L76.9 51.9L81.4 53.5L85.7 55.0L89.8 56.4L93.7 57.7L97.8 59.1L101.9 60.5L106.1 61.8L110.4 63.1L114.8 64.3L119.4 65.5L124.3 66.4L129.2 67.1L133.8 67.5L138.0 67.9L141.9 68.4L145.3 68.9L148.1 69.5L150.5 70.2L153.0 71.1L155.6 72.2L158.0 73.4L160.3 74.6L162.3 75.9L164.3 77.2L166.2 78.6L167.9 80.0L169.4 81.3L170.9 82.7L172.4 84.4L174.2 86.3L176.1 88.5L178.3 91.1L180.7 93.9L183.2 96.8L185.9 99.8L188.8 103.2L192.0 106.9L195.2 110.7L198.2 114.3L201.0 117.7L203.4 120.5L205.2 122.7L238.8 93.3L237.0 91.4L234.6 88.7L231.6 85.4L228.3 81.7L224.9 77.9L221.3 74.1L217.9 70.4L214.8 67.2L212.1 64.6L209.5 62.0L206.9 59.4L204.1 56.7L201.0 53.9L197.7 51.2L194.0 48.5L190.1 46.0L186.1 44.0L182.2 42.2L178.3 40.7L174.2 39.3L170.2 38.2L166.1 37.3L161.9 36.5L157.5 35.8L152.6 35.3L147.7 35.1L143.2 35.2L138.9 35.4L134.8 35.6L131.1 35.8L127.7 35.8L124.6 35.5L121.2 35.1L117.7 34.4L114.0 33.6L110.2 32.6L106.4 31.5L102.4 30.4L98.3 29.2L94.3 28.0L90.4 26.8L86.4 25.5L82.3 24.0L78.0 22.4L73.6 20.9L69.1 19.4L64.5 18.1L60.0 17.0L55.7 16.2L51.7 15.7L47.9 15.5L44.3 15.3L40.9 15.3L37.5 15.3L34.1 15.4L30.4 15.3L26.0 15.3L21.0 15.3L15.7 15.3L10.4 15.3L5.4 15.4L0.8 15.4L-3.1 15.5L-5.9 15.5Z" fill="#0e6a14" fill-opacity="0.55" filter="url(#bl3)"/>
<path d="M-6.1 37.2L-3.2 37.3L0.6 37.4L5.2 37.5L10.2 37.6L15.5 37.7L20.6 37.9L25.4 38.0L29.7 38.2L33.5 38.4L37.1 38.6L40.3 38.7L43.2 38.8L46.1 39.1L48.8 39.4L51.7 39.9L54.8 40.5L58.1 41.4L61.7 42.5L65.6 43.8L69.6 45.3L73.9 46.9L78.2 48.5L82.5 50.1L86.8 51.5L90.9 52.8L94.9 54.2L98.9 55.5L103.0 56.9L107.1 58.2L111.3 59.4L115.6 60.5L120.1 61.6L124.8 62.4L129.4 63.0L133.9 63.4L138.1 63.7L142.0 64.1L145.6 64.5L148.6 65.0L151.4 65.7L154.2 66.7L157.0 67.7L159.6 68.8L162.1 70.0L164.4 71.3L166.6 72.7L168.8 74.1L170.8 75.6L172.6 77.0L174.4 78.6L176.1 80.4L178.0 82.5L180.1 84.8L182.3 87.3L184.8 90.1L187.3 92.9L190.0 96.0L193.0 99.4L196.2 103.1L199.5 106.9L202.6 110.6L205.4 113.9L207.8 116.7L209.6 118.9L234.4 97.1L232.6 95.1L230.2 92.4L227.3 89.1L224.0 85.5L220.6 81.6L217.1 77.8L213.7 74.2L210.7 71.1L208.0 68.4L205.5 65.8L202.9 63.2L200.2 60.5L197.3 57.9L194.2 55.3L190.8 52.7L187.2 50.4L183.6 48.5L179.9 46.7L176.2 45.2L172.4 43.9L168.6 42.8L164.7 41.8L160.8 41.0L156.6 40.3L152.0 39.7L147.4 39.5L143.0 39.5L138.8 39.6L134.7 39.8L130.9 39.8L127.3 39.7L123.9 39.4L120.4 38.9L116.7 38.1L113.0 37.2L109.1 36.2L105.3 35.1L101.3 33.9L97.2 32.7L93.2 31.5L89.2 30.3L85.2 28.9L81.0 27.4L76.7 25.8L72.4 24.3L68.0 22.8L63.6 21.5L59.2 20.5L55.1 19.8L51.2 19.3L47.6 19.0L44.1 18.8L40.8 18.8L37.4 18.8L34.0 18.8L30.3 18.8L25.9 18.7L21.0 18.6L15.7 18.6L10.4 18.7L5.3 18.7L0.7 18.7L-3.1 18.7L-5.9 18.8Z" fill="url(#fb0)" filter="url(#bl1)"/>
<path d="M-6.1 33.1L-3.2 33.1L0.6 33.2L5.2 33.3L10.3 33.3L15.5 33.4L20.7 33.5L25.5 33.7L29.8 33.9L33.6 34.0L37.1 34.1L40.4 34.2L43.4 34.3L46.4 34.6L49.4 34.9L52.5 35.3L55.8 36.0L59.3 36.9L63.1 38.1L67.1 39.4L71.2 40.9L75.5 42.5L79.7 44.1L84.0 45.6L88.2 47.0L92.3 48.3L96.3 49.6L100.3 50.9L104.4 52.2L108.4 53.4L112.5 54.6L116.7 55.7L121.0 56.6L125.4 57.3L129.8 57.8L134.1 58.1L138.3 58.3L142.3 58.5L146.0 58.9L149.4 59.3L152.6 60.0L155.7 60.9L158.7 61.9L161.6 63.0L164.4 64.2L167.1 65.4L169.6 66.8L172.1 68.3L174.5 69.9L176.7 71.6L178.8 73.4L180.9 75.4L183.0 77.5L185.2 79.9L187.5 82.5L190.0 85.2L192.6 88.0L195.4 91.1L198.5 94.6L201.7 98.3L205.0 102.1L208.1 105.7L211.0 109.1L213.4 111.9L215.2 114.0L228.8 102.0L227.0 100.0L224.6 97.3L221.7 93.9L218.5 90.3L215.1 86.5L211.7 82.7L208.4 79.1L205.4 76.0L202.8 73.3L200.3 70.6L197.8 68.0L195.2 65.5L192.6 63.0L189.7 60.5L186.7 58.2L183.5 56.1L180.2 54.2L176.9 52.6L173.5 51.1L170.1 49.8L166.6 48.6L163.0 47.6L159.3 46.8L155.4 46.0L151.3 45.4L147.0 45.1L142.8 45.0L138.6 45.1L134.5 45.1L130.6 45.0L126.7 44.8L123.0 44.4L119.3 43.7L115.5 42.9L111.7 41.9L107.8 40.8L103.8 39.7L99.8 38.5L95.8 37.2L91.8 36.0L87.7 34.7L83.6 33.3L79.4 31.8L75.1 30.2L70.8 28.7L66.6 27.3L62.3 26.0L58.2 25.0L54.3 24.3L50.7 23.8L47.3 23.5L43.9 23.3L40.7 23.3L37.3 23.3L33.9 23.2L30.2 23.1L25.8 23.0L20.9 23.0L15.6 22.9L10.4 22.9L5.3 22.9L0.7 22.9L-3.1 22.9L-5.9 22.9Z" fill="#6cff6c" fill-opacity="0.22" filter="url(#bl2)"/>
</g></g>
<g clip-path="url(#cl10)">
<rect x="531.90" y="527.20" width="214.20" height="112.20" fill="url(#bfh)" stroke="none" stroke-width="0" />
<rect x="531.90" y="527.20" width="214.20" height="112.20" fill="url(#bfv)" stroke="none" stroke-width="0" />
<g transform="translate(531.9,527.2)">
<path d="M211.2 18.2Q213.5 12.5 218.5 7.3M81.9 49.9Q83.1 53.2 84.3 56.6M29.6 88.1Q33.0 98.2 34.3 110.1M185.8 43.4Q185.6 52.2 188.7 61.7M217.1 51.2Q213.4 58.5 209.1 65.7M91.3 45.6Q94.8 50.2 97.6 55.1M115.9 39.6Q116.6 49.0 115.3 58.7M83.5 33.1Q81.1 26.7 80.9 19.4M117.1 39.6Q117.7 42.6 118.2 45.7M216.5 51.3Q214.7 60.3 208.8 68.4M134.4 18.5Q132.8 14.1 132.2 9.6M182.8 15.3Q181.0 9.6 180.9 4.2M175.3 40.2Q172.7 47.4 167.7 54.2M173.0 39.3Q168.7 45.7 164.8 52.3M178.4 40.9Q175.5 46.2 172.6 51.4M40.1 78.8Q43.8 83.6 49.1 87.1M145.2 16.2Q142.2 8.3 140.0 0.3M203.1 48.7Q201.6 58.5 198.8 68.1M220.5 19.3Q223.9 11.3 224.3 2.6M181.5 42.2Q177.9 50.3 176.8 58.9M102.0 42.3Q102.8 45.7 104.4 48.9M203.3 17.6Q204.0 9.2 207.5 1.3M123.3 38.8Q122.7 42.2 123.2 45.4M85.3 48.8Q92.5 55.2 95.9 63.5M85.9 46.4Q91.8 53.7 98.2 60.7M32.3 85.6Q36.7 88.6 40.5 92.2M82.6 48.7Q87.5 55.1 89.4 62.9M172.4 39.3Q174.1 43.9 176.4 48.6M108.6 40.4Q110.0 44.2 111.6 48.0M141.9 37.7Q141.6 47.4 140.6 57.2M101.6 26.3Q103.5 20.6 103.3 15.5M121.9 20.5Q119.6 13.5 118.8 6.3M134.2 18.5Q134.6 13.3 135.3 8.1M64.3 43.8Q61.9 39.6 58.2 36.4M166.7 38.5Q167.9 42.3 169.6 46.1M192.6 15.6Q196.6 10.9 200.0 6.1M146.9 37.4Q147.5 43.6 145.4 50.1M225.7 20.8Q230.5 15.9 232.6 10.5M53.4 66.5Q57.3 70.8 62.5 74.1M120.2 39.2Q123.3 44.6 125.4 50.1M175.7 14.2Q177.3 9.6 180.5 5.2M147.8 37.6Q152.8 46.2 159.1 54.7M159.9 37.7Q160.6 41.4 162.6 45.2M163.9 38.0Q163.4 41.6 163.8 45.3M131.3 38.2Q132.5 42.6 132.1 47.3M57.9 49.8Q57.6 45.0 56.8 40.5M209.0 18.8Q207.4 12.4 204.6 5.8M179.8 41.7Q176.1 47.8 169.5 53.2M177.5 14.3Q177.2 10.9 178.0 7.6M213.5 51.0Q213.5 57.6 213.2 64.0M150.6 15.6Q148.4 10.0 147.0 4.4M135.9 38.1Q137.0 43.5 136.3 49.2M49.7 71.8Q53.2 77.9 57.3 83.4M108.9 41.1Q111.0 45.4 113.6 49.5M214.9 51.7Q216.9 59.4 219.7 67.3M108.9 40.7Q109.8 47.8 109.0 55.3M47.8 74.1Q50.5 78.0 52.0 83.0M133.0 38.0Q129.7 46.3 127.6 54.5M103.6 24.7Q101.3 16.5 102.7 7.4M169.7 39.4Q171.2 49.1 170.5 58.6M165.4 38.0Q166.1 46.2 163.4 54.3M50.1 55.6Q47.5 49.8 45.3 43.8M67.3 56.3Q69.1 65.0 69.8 74.5M162.5 37.7Q162.4 41.5 160.9 45.3M85.6 46.0Q90.9 51.0 96.3 55.9M41.1 79.9Q46.1 83.1 50.2 86.9M122.3 20.4Q122.2 16.6 123.3 12.6M117.5 39.6Q119.3 44.8 120.7 50.1M201.9 47.1Q201.0 54.2 198.8 60.9M92.6 44.9Q97.3 51.8 99.7 59.5" stroke="#555" stroke-opacity="0.12" stroke-width="0.9" fill="none" filter="url(#bl05)"/>
<ellipse cx="185" cy="12" rx="24" ry="10" fill="url(#tuft)" opacity="0.45" transform="translate(185,12) scale(1.75) translate(-185,-12)"/>
<ellipse cx="190" cy="50" rx="22" ry="12" fill="url(#tuft)" opacity="0.38" transform="translate(190,50) scale(1.75) translate(-190,-50)"/>
<ellipse cx="212" cy="30" rx="8" ry="24" fill="url(#tuft)" opacity="0.62" transform="translate(212,30) scale(1.75) translate(-212,-30)"/>
<path d="M183.6 15.3Q186.0 11.3 186.7 7.0M179.8 41.7Q180.7 45.3 180.6 48.6M154.3 14.9Q155.6 9.8 154.6 4.7M209.2 18.2Q210.8 16.0 212.2 13.7M193.8 45.5Q193.9 51.8 192.8 57.9M180.6 14.6Q179.2 8.3 179.2 2.3M167.5 38.4Q164.5 43.2 163.3 48.0M184.8 43.3Q182.4 46.4 181.1 49.8M219.5 19.7Q221.3 14.6 222.4 9.4M223.9 20.1Q223.0 16.4 221.1 12.5M170.1 38.5Q171.2 42.6 172.0 46.7M176.6 40.1Q170.0 46.3 166.4 53.0M217.4 51.4Q214.5 56.1 209.9 60.3M155.3 14.8Q153.8 12.5 151.9 10.2M218.7 19.4Q217.0 14.1 215.1 8.7M174.5 40.0Q174.3 43.0 175.2 46.3M189.4 15.8Q191.1 8.6 193.8 1.7M207.6 18.2Q215.2 12.2 219.7 5.6M156.6 37.4Q159.3 42.6 159.8 47.8M153.5 14.8Q149.9 7.7 143.2 0.7M156.2 37.5Q159.1 43.9 160.3 50.4M210.0 49.8Q210.4 52.3 211.0 54.9M173.9 40.0Q174.4 42.2 174.8 44.4M180.7 14.2Q179.1 9.4 178.9 4.8M167.3 38.5Q164.6 44.7 163.3 50.9M183.7 42.8Q178.8 48.7 174.9 54.8M204.3 18.1Q205.2 11.8 207.6 5.8M167.7 38.6Q167.6 46.1 163.9 53.3M177.4 41.1Q178.3 47.8 179.8 54.6M176.1 13.8Q176.7 7.8 177.2 1.7M176.9 41.2Q173.6 47.7 167.2 53.6M216.3 52.0Q210.3 58.0 206.3 64.4M162.0 14.3Q163.6 7.5 166.1 0.6M159.4 37.7Q153.7 44.9 151.1 52.2M171.8 39.2Q171.9 41.9 171.3 44.5M192.6 16.3Q192.5 13.8 191.8 11.1M222.4 20.0Q222.8 17.2 222.3 14.1M218.3 52.2Q220.8 58.1 221.1 63.6M216.6 52.1Q213.6 57.8 212.4 63.9M201.2 47.2Q200.1 49.2 198.7 51.0M179.5 41.7Q178.7 43.6 177.5 45.5M177.5 41.2Q175.3 46.3 172.6 51.3M184.9 14.7Q185.7 10.2 184.7 5.4M220.5 19.5Q220.7 16.6 221.8 13.9M201.8 47.1Q197.3 51.5 194.8 56.3M201.7 47.3Q200.4 52.2 199.6 57.2M156.6 37.5Q156.5 41.0 157.7 44.4M183.9 42.9Q185.2 48.9 188.6 55.3M207.2 49.9Q208.5 56.8 209.8 63.8M187.1 15.3Q189.7 8.5 190.0 1.2M186.1 43.2Q184.9 46.1 182.3 48.7M223.4 20.5Q225.6 14.4 229.8 8.8M206.3 49.5Q207.3 53.2 208.8 56.9M215.2 18.7Q221.3 12.9 226.4 6.8M159.0 14.3Q157.9 7.6 155.1 0.8M223.4 20.9Q225.2 18.6 226.2 16.0M210.9 18.5Q214.8 14.1 219.2 9.7M173.8 40.1Q174.8 43.2 175.2 46.2M204.8 18.0Q204.7 14.2 203.9 10.2M214.6 52.0Q217.6 59.9 219.7 67.6M225.2 20.6Q224.0 16.5 224.5 12.6M217.6 19.4Q220.3 15.3 222.6 11.1M167.7 38.5Q166.6 40.8 164.4 43.0M195.9 46.5Q192.8 50.2 191.2 54.2M187.7 15.8Q190.7 10.1 191.3 3.9M168.9 14.0Q168.2 6.4 170.7 -0.9M161.1 14.4Q162.6 10.8 163.2 7.3M200.2 17.3Q201.6 13.0 201.1 8.3M212.8 50.6Q211.1 52.6 210.2 54.9M187.8 15.6Q188.6 9.6 188.8 3.4M154.9 15.0Q152.5 12.4 151.3 9.7M179.4 40.9Q180.6 43.8 181.6 46.6M173.7 14.3Q173.3 11.6 173.0 8.8M179.2 41.1Q175.4 47.3 171.9 53.6M175.3 39.9Q173.0 44.1 171.5 48.4M203.9 48.3Q206.3 53.5 206.9 58.3M226.1 20.5Q228.4 16.7 229.8 12.7M225.7 20.4Q227.1 14.9 227.1 9.1M192.4 16.4Q194.8 12.9 196.2 9.3M172.1 13.8Q172.6 10.6 171.7 7.4M154.6 14.9Q158.0 8.2 160.1 1.5M211.1 18.5Q210.5 13.1 209.7 7.7M219.3 52.8Q215.8 58.5 213.6 64.5M194.8 16.8Q194.0 11.8 192.4 6.6M175.3 14.1Q173.7 9.5 172.1 5.0M226.2 20.3Q225.5 12.7 226.2 5.5M205.1 17.8Q205.4 11.2 205.6 4.5M155.4 37.4Q154.1 43.1 150.4 48.9M169.5 38.6Q167.4 41.1 166.0 43.6M192.2 15.7Q193.8 13.9 195.1 11.9" stroke="#444" stroke-opacity="0.14" stroke-width="1.0" fill="none" filter="url(#bl05)"/>
<path d="M-3.4 119.6L-2.1 118.5L-0.4 117.1L1.7 115.5L4.0 113.6L6.5 111.5L9.2 109.3L12.0 106.9L14.8 104.5L17.7 101.9L20.8 99.1L24.0 96.2L27.3 93.2L30.7 90.2L34.1 87.1L37.5 84.1L40.9 81.2L44.4 78.3L48.1 75.2L51.7 72.2L55.4 69.1L59.1 66.2L62.7 63.5L66.2 60.9L69.6 58.6L72.9 56.5L76.1 54.5L79.1 52.8L82.0 51.2L84.9 49.8L87.8 48.5L90.9 47.3L94.3 46.3L97.8 45.3L101.5 44.4L105.4 43.7L109.5 43.1L113.6 42.5L117.9 42.1L122.3 41.7L126.8 41.3L131.5 41.0L136.4 40.8L141.5 40.7L146.5 40.6L151.5 40.7L156.3 40.9L160.7 41.2L164.6 41.6L168.0 42.2L171.1 42.9L174.2 43.8L177.3 44.8L180.5 45.9L183.9 47.0L187.6 48.2L191.4 49.4L195.2 50.5L199.1 51.6L203.2 52.9L207.2 54.1L211.0 55.3L214.4 56.3L217.4 57.2L219.6 57.9L228.4 16.1L226.2 15.9L223.2 15.5L219.6 15.0L215.6 14.5L211.3 14.0L206.9 13.5L202.5 13.0L198.6 12.6L195.2 12.3L191.7 11.9L188.1 11.5L184.1 11.0L179.9 10.6L175.3 10.3L170.5 10.2L165.4 10.4L160.2 10.8L154.8 11.5L149.4 12.3L144.0 13.3L138.5 14.3L133.2 15.4L128.0 16.5L123.2 17.7L118.5 18.8L113.9 20.0L109.3 21.3L104.8 22.6L100.4 23.9L96.1 25.4L91.8 27.0L87.7 28.7L83.8 30.5L80.2 32.4L76.7 34.3L73.4 36.3L70.2 38.4L67.0 40.6L63.8 42.9L60.4 45.4L56.8 48.1L53.1 51.0L49.3 54.1L45.6 57.2L41.8 60.4L38.2 63.6L34.6 66.7L31.1 69.8L27.6 72.9L24.1 76.0L20.7 79.2L17.3 82.4L14.1 85.4L10.9 88.3L8.0 91.0L5.2 93.5L2.5 95.9L-0.2 98.1L-2.8 100.3L-5.2 102.4L-7.5 104.2L-9.5 105.9L-11.3 107.3L-12.6 108.4Z" fill="url(#bb1)" filter="url(#bl1)"/>
<clipPath id="rb1"><path d="M-3.5 119.4L-2.2 118.3L-0.5 116.9L1.5 115.3L3.8 113.4L6.3 111.3L9.0 109.0L11.8 106.7L14.6 104.3L17.5 101.7L20.6 98.9L23.8 96.0L27.1 93.0L30.5 89.9L33.9 86.9L37.3 83.9L40.7 81.0L44.2 78.0L47.9 75.0L51.5 71.9L55.2 68.9L58.9 66.0L62.5 63.2L66.0 60.7L69.4 58.3L72.7 56.2L75.9 54.3L78.9 52.5L81.8 50.9L84.7 49.5L87.7 48.2L90.8 47.0L94.2 45.9L97.7 44.9L101.4 44.1L105.3 43.3L109.4 42.7L113.5 42.1L117.8 41.6L122.3 41.2L126.8 40.9L131.5 40.6L136.4 40.3L141.4 40.2L146.5 40.1L151.5 40.1L156.3 40.3L160.7 40.6L164.6 41.0L168.1 41.6L171.2 42.3L174.3 43.2L177.4 44.1L180.6 45.2L184.0 46.4L187.7 47.5L191.5 48.7L195.3 49.8L199.3 50.9L203.3 52.1L207.4 53.3L211.2 54.5L214.6 55.5L217.6 56.4L219.8 57.1L228.2 16.9L226.0 16.7L223.0 16.3L219.4 15.8L215.4 15.3L211.1 14.8L206.7 14.2L202.4 13.7L198.5 13.3L195.0 13.0L191.6 12.6L187.9 12.1L184.0 11.7L179.8 11.3L175.2 11.0L170.4 10.9L165.4 11.0L160.2 11.4L154.9 12.1L149.5 12.8L144.0 13.8L138.6 14.8L133.3 15.9L128.1 17.0L123.2 18.1L118.6 19.3L113.9 20.4L109.4 21.7L104.9 23.0L100.5 24.3L96.2 25.8L91.9 27.4L87.8 29.1L84.0 30.9L80.3 32.7L76.9 34.6L73.6 36.6L70.4 38.7L67.2 40.9L63.9 43.2L60.6 45.7L57.0 48.3L53.3 51.3L49.5 54.3L45.8 57.5L42.0 60.6L38.3 63.8L34.8 67.0L31.3 70.0L27.8 73.1L24.3 76.3L20.9 79.4L17.5 82.6L14.2 85.6L11.1 88.5L8.2 91.3L5.4 93.7L2.7 96.1L0.0 98.4L-2.6 100.5L-5.1 102.6L-7.3 104.4L-9.4 106.1L-11.1 107.5L-12.5 108.6Z"/></clipPath>
<rect x="0" y="0" width="214.2" height="112.2" filter="url(#grain)" clip-path="url(#rb1)" opacity="0.16"/>
<path d="M-6.2 116.2L-4.9 115.1L-3.2 113.7L-1.2 112.0L1.1 110.1L3.7 108.1L6.3 105.8L9.1 103.5L11.8 101.1L14.7 98.6L17.8 95.8L20.9 92.9L24.2 89.9L27.6 86.8L31.0 83.7L34.5 80.7L37.9 77.7L41.4 74.7L45.0 71.6L48.7 68.6L52.4 65.5L56.1 62.5L59.7 59.6L63.3 57.0L66.8 54.5L70.1 52.3L73.3 50.3L76.3 48.4L79.3 46.6L82.4 45.0L85.5 43.6L88.8 42.2L92.3 40.9L96.0 39.7L99.9 38.6L103.9 37.6L108.0 36.8L112.3 36.0L116.7 35.3L121.1 34.6L125.7 34.0L130.4 33.5L135.4 33.0L140.6 32.6L145.7 32.2L150.9 31.9L155.8 31.8L160.5 31.8L164.9 32.0L168.8 32.4L172.4 32.9L175.9 33.6L179.4 34.4L182.8 35.3L186.3 36.2L189.9 37.2L193.6 38.1L197.5 38.9L201.5 39.9L205.7 40.9L209.8 41.9L213.6 42.9L217.1 43.7L220.1 44.5L222.3 45.0L225.7 29.0L223.5 28.6L220.5 28.1L216.9 27.4L213.0 26.7L208.8 26.0L204.5 25.2L200.3 24.5L196.4 23.9L192.8 23.4L189.3 22.7L185.7 22.1L182.0 21.4L178.1 20.8L174.0 20.4L169.7 20.1L165.1 20.0L160.3 20.2L155.3 20.5L150.1 21.0L144.8 21.7L139.4 22.4L134.2 23.2L129.1 24.1L124.3 25.0L119.7 25.8L115.1 26.8L110.6 27.8L106.2 28.9L101.9 30.0L97.7 31.3L93.7 32.6L89.7 34.1L86.0 35.7L82.5 37.4L79.2 39.1L76.0 40.9L72.9 42.9L69.8 44.9L66.6 47.1L63.2 49.5L59.7 52.0L56.0 54.9L52.3 57.8L48.6 60.9L44.9 64.0L41.2 67.2L37.6 70.3L34.1 73.3L30.6 76.3L27.2 79.4L23.8 82.6L20.4 85.7L17.1 88.7L14.0 91.6L11.0 94.4L8.2 96.9L5.4 99.3L2.7 101.6L0.1 103.8L-2.4 105.8L-4.7 107.7L-6.7 109.3L-8.4 110.7L-9.8 111.8Z" fill="#333" fill-opacity="0.14" filter="url(#bl1)"/>
<path d="M-7.7 114.4L-6.4 113.3L-4.6 111.9L-2.6 110.2L-0.3 108.3L2.2 106.3L4.8 104.1L7.6 101.8L10.3 99.4L13.2 96.8L16.2 94.1L19.4 91.2L22.6 88.1L26.0 85.1L29.4 81.9L32.9 78.9L36.3 75.9L39.8 72.9L43.4 69.8L47.1 66.7L50.8 63.6L54.5 60.6L58.2 57.7L61.8 54.9L65.3 52.4L68.6 50.2L71.8 48.1L74.9 46.1L78.0 44.3L81.1 42.6L84.3 41.0L87.6 39.5L91.2 38.1L95.0 36.8L99.0 35.6L103.1 34.5L107.3 33.5L111.6 32.6L116.0 31.8L120.5 31.0L125.1 30.3L129.9 29.6L134.9 29.0L140.1 28.4L145.3 27.9L150.5 27.4L155.6 27.2L160.5 27.0L165.0 27.0L169.2 27.3L173.1 27.7L176.8 28.3L180.5 29.0L184.0 29.8L187.5 30.7L191.1 31.5L194.8 32.2L198.6 33.0L202.7 33.9L207.0 34.7L211.1 35.6L215.0 36.5L218.5 37.3L221.5 37.9L223.7 38.4L224.3 35.6L222.1 35.1L219.1 34.5L215.6 33.8L211.7 33.0L207.5 32.1L203.3 31.3L199.1 30.5L195.2 29.8L191.6 29.1L188.1 28.3L184.5 27.5L180.9 26.8L177.2 26.1L173.4 25.5L169.3 25.1L165.0 25.0L160.4 25.0L155.5 25.2L150.4 25.5L145.2 26.0L139.9 26.6L134.7 27.3L129.7 28.0L124.9 28.7L120.3 29.5L115.8 30.3L111.3 31.2L107.0 32.1L102.7 33.2L98.6 34.3L94.6 35.5L90.8 36.9L87.1 38.4L83.8 39.9L80.5 41.5L77.4 43.3L74.3 45.1L71.2 47.1L68.0 49.3L64.7 51.6L61.2 54.1L57.6 56.8L53.9 59.7L50.2 62.8L46.5 65.9L42.8 69.0L39.2 72.1L35.7 75.1L32.2 78.1L28.8 81.2L25.3 84.3L22.0 87.4L18.7 90.4L15.5 93.4L12.5 96.1L9.7 98.6L6.9 101.0L4.2 103.3L1.6 105.5L-0.9 107.6L-3.2 109.5L-5.3 111.1L-7.0 112.5L-8.3 113.6Z" fill="#222" fill-opacity="0.30" filter="url(#bl0)"/>
<path d="M-5.5 117.1L-4.1 116.0L-2.4 114.6L-0.4 112.9L1.9 111.0L4.4 109.0L7.1 106.7L9.8 104.4L12.6 102.0L15.5 99.4L18.6 96.7L21.8 93.8L25.1 90.8L28.4 87.7L31.8 84.6L35.3 81.6L38.7 78.6L42.2 75.7L45.8 72.6L49.5 69.5L53.2 66.5L56.9 63.5L60.5 60.7L64.1 58.0L67.5 55.6L70.8 53.4L74.0 51.4L77.0 49.5L80.0 47.9L83.0 46.3L86.1 44.9L89.3 43.5L92.8 42.3L96.5 41.2L100.3 40.1L104.3 39.2L108.4 38.4L112.6 37.7L117.0 37.1L121.5 36.5L126.0 36.0L130.7 35.5L135.7 35.1L140.8 34.7L146.0 34.4L151.0 34.3L156.0 34.2L160.6 34.3L164.8 34.5L168.6 35.0L172.1 35.6L175.5 36.3L178.8 37.2L182.2 38.1L185.7 39.1L189.3 40.1L193.0 41.1L196.9 42.0L200.9 43.0L205.0 44.1L209.1 45.2L212.9 46.2L216.4 47.1L219.4 47.9L221.6 48.4L222.0 46.4L219.8 45.9L216.8 45.1L213.4 44.2L209.5 43.3L205.4 42.2L201.2 41.2L197.2 40.2L193.4 39.3L189.7 38.4L186.0 37.4L182.5 36.4L179.1 35.5L175.7 34.7L172.3 34.0L168.7 33.4L164.8 33.0L160.6 32.9L155.9 32.8L150.9 32.9L145.8 33.1L140.7 33.4L135.5 33.9L130.6 34.3L125.8 34.8L121.3 35.4L116.8 36.0L112.4 36.7L108.2 37.4L104.0 38.3L100.0 39.2L96.2 40.3L92.5 41.5L89.0 42.7L85.7 44.1L82.6 45.6L79.6 47.1L76.6 48.9L73.6 50.7L70.4 52.8L67.1 55.0L63.6 57.4L60.1 60.1L56.4 62.9L52.7 65.9L49.0 68.9L45.3 72.0L41.7 75.1L38.2 78.1L34.8 81.0L31.4 84.1L27.9 87.2L24.6 90.2L21.3 93.3L18.1 96.2L15.1 98.9L12.2 101.5L9.4 103.9L6.6 106.2L4.0 108.4L1.5 110.5L-0.8 112.4L-2.9 114.1L-4.6 115.4L-5.9 116.5Z" fill="#222" fill-opacity="0.15" filter="url(#bl0)"/>
<path d="M-10.1 111.5L-8.8 110.4L-7.0 109.0L-5.0 107.3L-2.7 105.4L-0.2 103.4L2.4 101.2L5.1 98.9L7.8 96.5L10.6 94.0L13.6 91.3L16.8 88.4L20.1 85.3L23.4 82.2L26.8 79.1L30.3 76.0L33.8 72.9L37.3 69.9L40.9 66.8L44.6 63.6L48.3 60.5L52.0 57.4L55.7 54.4L59.4 51.6L62.9 49.0L66.3 46.7L69.5 44.4L72.6 42.4L75.8 40.4L79.0 38.6L82.3 36.8L85.8 35.1L89.5 33.5L93.5 32.0L97.6 30.6L101.8 29.4L106.1 28.2L110.5 27.1L115.0 26.1L119.5 25.1L124.2 24.2L129.0 23.3L134.1 22.4L139.3 21.5L144.7 20.8L150.0 20.1L155.2 19.5L160.3 19.1L165.2 19.0L169.8 19.0L174.2 19.3L178.3 19.7L182.2 20.3L186.0 20.9L189.6 21.5L193.1 22.2L196.6 22.7L200.5 23.3L204.8 23.9L209.0 24.7L213.3 25.4L217.2 26.1L220.8 26.7L223.8 27.2L226.0 27.6L226.4 25.6L224.2 25.2L221.2 24.7L217.6 24.1L213.7 23.5L209.4 22.8L205.1 22.1L200.9 21.5L197.0 20.9L193.4 20.4L190.0 19.9L186.3 19.3L182.6 18.7L178.6 18.1L174.4 17.7L169.9 17.5L165.2 17.5L160.3 17.7L155.2 18.1L149.9 18.7L144.5 19.4L139.2 20.3L133.9 21.1L128.8 22.1L124.0 23.0L119.4 24.0L114.8 25.0L110.3 26.1L105.9 27.2L101.5 28.4L97.3 29.7L93.2 31.2L89.2 32.7L85.4 34.3L81.9 36.0L78.6 37.8L75.3 39.7L72.2 41.7L69.0 43.8L65.8 46.0L62.5 48.4L58.9 51.0L55.2 53.8L51.5 56.8L47.8 59.9L44.1 63.1L40.4 66.2L36.8 69.3L33.3 72.4L29.8 75.4L26.4 78.5L22.9 81.7L19.6 84.8L16.3 87.8L13.2 90.8L10.2 93.5L7.4 96.0L4.7 98.4L2.0 100.7L-0.7 102.8L-3.2 104.9L-5.4 106.8L-7.5 108.4L-9.2 109.8L-10.5 110.9Z" fill="#222" fill-opacity="0.15" filter="url(#bl0)"/>
</g></g>
<g clip-path="url(#cl11)">
<rect x="751.30" y="527.20" width="214.20" height="112.20" fill="#020903" stroke="none" stroke-width="0" />
<g transform="translate(751.3,527.2)">
<path d="M195.6 48.2Q192.7 54.7 190.3 61.3M208.8 23.4Q212.2 18.3 215.0 13.2M121.0 22.5Q121.1 18.6 119.8 14.8M194.5 48.4Q195.6 52.5 195.3 56.4M136.1 39.9Q136.1 43.1 137.4 46.4M211.9 23.6Q211.5 18.4 208.6 12.9M189.3 22.4Q188.3 20.0 188.0 17.6M144.0 21.1Q143.4 15.3 142.4 9.4M158.5 42.1Q157.3 45.4 156.7 48.7M187.9 46.9Q188.3 49.6 189.1 52.4M218.0 23.9Q219.2 18.6 220.7 13.3M165.9 21.3Q167.2 16.8 166.7 12.2M139.1 39.9Q136.9 43.5 135.5 47.1M133.2 21.5Q134.2 14.9 135.5 8.3M167.4 21.3Q169.8 14.6 175.0 8.1M143.4 21.2Q143.7 16.2 143.9 11.2M219.3 51.3Q215.5 58.4 210.8 65.5M111.8 24.6Q110.4 17.6 108.4 10.7M126.4 39.3Q128.0 46.2 129.4 53.1M154.4 21.2Q151.3 15.5 149.8 9.9M106.0 26.3Q107.2 22.1 107.9 18.1M142.4 21.1Q145.0 15.2 145.9 9.2M122.7 39.2Q122.0 41.4 121.6 43.6M144.6 21.2Q144.5 18.2 145.7 15.2M185.1 46.0Q182.7 52.3 180.3 58.6M221.4 51.2Q222.1 54.8 223.7 58.5M139.8 39.9Q141.4 46.6 142.2 53.2M165.7 21.2Q164.0 16.4 162.2 11.5M99.3 42.6Q100.7 49.9 101.5 57.4M219.1 51.0Q218.1 55.7 218.3 60.5M124.9 22.0Q125.6 19.6 126.4 17.1M214.6 23.5Q217.7 17.7 218.9 11.7M124.3 39.4Q123.0 41.7 122.6 44.0M94.5 29.3Q94.7 23.8 95.9 17.9M131.3 39.5Q131.8 42.6 132.2 45.7M163.8 42.8Q162.4 47.8 163.2 53.0M189.6 47.0Q187.0 50.5 184.9 54.1M184.3 21.8Q184.6 19.1 184.3 16.3M215.9 50.7Q215.2 54.3 213.8 57.7M219.1 50.9Q221.2 55.2 221.3 59.4M203.9 23.1Q204.8 19.2 205.5 15.3M219.1 23.8Q220.4 17.3 222.3 10.8M184.8 46.1Q180.7 51.9 177.7 57.9M190.0 46.8Q190.7 51.4 192.0 56.1M195.9 48.2Q191.6 54.4 190.5 61.0" stroke="#1b6a1e" stroke-opacity="0.38" stroke-width="1.0" fill="none" filter="url(#bl0)"/>
<path d="M-2.8 120.2L-1.4 119.1L0.3 117.7L2.4 116.0L4.7 114.1L7.2 112.1L9.8 109.9L12.5 107.8L15.3 105.6L18.1 103.4L21.2 101.1L24.4 98.6L27.9 96.1L31.4 93.4L35.0 90.7L38.6 87.8L42.2 84.8L45.9 81.7L49.6 78.3L53.3 74.8L57.0 71.4L60.6 68.1L64.0 65.0L67.2 62.2L70.2 59.9L73.0 57.8L75.5 56.0L77.8 54.5L79.8 53.2L81.8 52.1L84.0 51.2L86.6 50.2L89.7 49.3L93.2 48.4L97.1 47.5L101.3 46.8L105.6 46.2L110.0 45.7L114.5 45.3L118.9 45.1L123.3 45.1L127.8 45.3L132.6 45.7L137.8 46.3L143.1 47.0L148.5 47.7L153.8 48.6L159.0 49.4L163.8 50.2L168.0 51.0L172.0 51.8L175.8 52.7L179.5 53.6L183.2 54.5L187.0 55.4L190.8 56.2L194.7 57.0L198.7 57.6L202.7 58.3L206.6 58.8L210.5 59.4L214.1 59.8L217.2 60.2L219.9 60.6L221.9 60.9L226.1 15.1L224.0 15.0L221.3 14.9L218.1 14.7L214.5 14.6L210.7 14.4L206.8 14.2L202.9 14.1L199.3 14.0L195.8 14.0L192.2 13.9L188.5 13.8L184.5 13.7L180.3 13.7L175.8 13.7L171.1 13.7L166.2 13.8L161.2 14.0L155.9 14.1L150.3 14.3L144.4 14.5L138.4 14.9L132.4 15.3L126.5 16.0L120.7 16.9L115.2 18.0L109.9 19.4L104.7 20.9L99.8 22.6L95.0 24.3L90.5 26.1L86.3 27.9L82.3 29.7L78.7 31.4L75.4 33.1L72.3 34.8L69.5 36.6L66.8 38.5L64.1 40.5L61.4 42.7L58.4 45.1L55.0 48.1L51.5 51.3L47.9 54.8L44.4 58.3L40.9 61.9L37.4 65.4L34.0 68.6L30.8 71.6L27.5 74.3L24.2 77.1L20.8 79.8L17.4 82.4L14.1 85.0L10.8 87.6L7.7 90.0L4.7 92.4L1.9 94.8L-0.8 97.1L-3.5 99.3L-6.0 101.5L-8.2 103.5L-10.2 105.2L-11.9 106.7L-13.2 107.8Z" fill="#0a3a0c" fill-opacity="0.35" filter="url(#bl3)"/>
<path d="M-4.1 118.6L-2.8 117.5L-1.1 116.1L1.0 114.4L3.3 112.5L5.8 110.4L8.4 108.3L11.2 106.1L13.9 103.9L16.8 101.7L19.8 99.3L23.1 96.9L26.5 94.3L30.0 91.7L33.6 88.9L37.2 86.1L40.7 83.1L44.4 80.0L48.0 76.6L51.7 73.2L55.4 69.7L58.9 66.3L62.4 63.2L65.6 60.4L68.7 58.0L71.5 55.8L74.1 54.0L76.3 52.4L78.5 51.1L80.6 49.9L82.9 48.8L85.6 47.8L88.7 46.8L92.3 45.7L96.3 44.8L100.5 43.9L104.8 43.1L109.3 42.5L113.9 42.0L118.4 41.6L123.0 41.5L127.6 41.5L132.6 41.8L137.9 42.2L143.3 42.8L148.7 43.4L154.1 44.1L159.3 44.8L164.1 45.5L168.4 46.1L172.5 46.8L176.4 47.6L180.2 48.4L183.9 49.2L187.7 50.0L191.5 50.7L195.3 51.4L199.2 52.0L203.2 52.6L207.2 53.1L211.0 53.6L214.6 54.0L217.8 54.4L220.4 54.7L222.5 54.9L225.5 21.1L223.5 20.9L220.8 20.8L217.6 20.6L214.0 20.4L210.2 20.2L206.3 19.9L202.4 19.8L198.7 19.6L195.1 19.4L191.5 19.3L187.8 19.1L183.8 18.9L179.7 18.7L175.3 18.6L170.7 18.5L165.9 18.5L160.9 18.6L155.7 18.6L150.0 18.6L144.2 18.7L138.3 18.9L132.4 19.3L126.6 19.8L121.0 20.5L115.7 21.5L110.5 22.8L105.4 24.1L100.5 25.7L95.8 27.3L91.4 28.9L87.2 30.6L83.3 32.2L79.7 33.9L76.5 35.4L73.6 37.1L70.8 38.8L68.2 40.6L65.6 42.5L62.9 44.6L59.9 47.0L56.6 49.9L53.1 53.1L49.6 56.5L46.0 60.0L42.5 63.6L39.0 67.0L35.5 70.3L32.3 73.3L29.0 76.1L25.6 78.9L22.2 81.6L18.8 84.2L15.4 86.8L12.2 89.3L9.0 91.8L6.1 94.1L3.3 96.4L0.5 98.7L-2.1 101.0L-4.6 103.1L-6.9 105.1L-8.9 106.8L-10.5 108.3L-11.9 109.4Z" fill="url(#fb1)" filter="url(#bl1)"/>
</g></g>
<g clip-path="url(#cl20)">
<rect x="531.90" y="644.70" width="214.20" height="112.20" fill="url(#bfh)" stroke="none" stroke-width="0" />
<rect x="531.90" y="644.70" width="214.20" height="112.20" fill="url(#bfv)" stroke="none" stroke-width="0" />
<g transform="translate(531.9,644.7)">
<path d="M-2.4 58.9Q-6.9 66.1 -8.2 73.6M186.8 63.9Q188.5 73.3 190.9 82.7M100.8 57.3Q102.7 64.6 107.1 71.5M194.2 41.3Q195.2 35.1 196.6 29.0M68.3 46.6Q66.8 36.4 69.3 25.6M24.2 62.4Q24.7 75.6 26.8 89.1M44.4 65.0Q42.2 69.4 41.8 73.7M148.5 60.2Q152.6 71.3 154.9 82.2M192.6 41.4Q196.4 31.4 195.6 21.3M91.7 42.1Q88.4 31.5 87.6 20.5M163.3 62.0Q158.5 71.4 152.1 80.7M220.7 42.5Q220.4 35.3 220.8 28.1M213.2 66.1Q210.7 74.3 211.8 82.8M118.4 56.5Q113.9 67.9 108.3 79.2M196.0 64.5Q192.7 71.6 192.9 78.9M211.9 65.8Q208.1 71.1 206.5 76.4M178.6 63.5Q178.7 72.4 180.1 81.4M55.7 48.1Q53.1 43.2 48.5 38.6M198.4 64.9Q199.7 69.4 199.1 73.9M74.7 61.4Q77.4 65.9 80.9 70.2M186.5 41.2Q180.3 28.2 173.6 15.1M217.4 42.2Q219.0 35.6 219.0 28.8M195.3 64.6Q195.3 73.2 198.5 82.0M43.4 65.0Q42.2 78.0 42.6 91.1M63.2 46.9Q57.4 37.1 50.5 27.4M194.0 64.6Q200.2 78.6 208.0 92.7M123.8 57.0Q122.8 68.1 118.6 79.0M180.5 41.2Q180.7 33.0 184.0 24.9M198.3 41.5Q198.1 34.1 196.9 26.7M209.2 65.8Q210.5 72.7 212.7 79.7M138.1 59.0Q135.1 65.9 135.3 73.2M169.6 41.1Q168.2 33.5 164.7 25.7M164.0 61.9Q164.3 70.9 165.2 80.0M110.9 40.0Q112.9 31.8 117.8 23.5M196.9 64.9Q189.8 74.7 186.1 84.6M220.4 66.4Q227.0 80.6 234.0 94.9M194.1 64.6Q194.6 70.4 193.9 76.1M178.8 63.3Q180.4 76.1 187.5 89.1M58.5 47.5Q56.1 40.4 55.2 33.1M192.4 64.6Q194.0 78.0 200.7 91.7M210.7 65.8Q212.2 72.8 214.4 79.9M149.8 60.2Q144.9 68.9 143.0 77.9M70.8 61.9Q65.7 73.2 61.8 84.4M59.7 47.4Q54.8 33.2 43.9 20.0M74.5 61.3Q73.4 67.3 72.5 73.3M54.4 64.3Q56.2 70.8 58.3 77.3M134.8 58.2Q132.8 66.1 132.3 74.2M153.8 60.9Q151.9 65.2 151.9 69.7M130.0 39.7Q122.5 25.8 117.3 12.1M52.3 64.6Q48.9 78.3 51.6 91.3M192.7 64.5Q195.2 76.6 199.8 88.8M195.0 41.4Q196.0 34.1 194.9 26.7M85.6 43.4Q82.9 29.6 84.5 15.0M218.5 66.3Q214.1 79.0 205.4 91.3M180.5 63.3Q184.5 77.4 191.4 91.6M97.4 58.3Q99.4 72.6 104.9 86.2M188.3 64.2Q184.7 70.5 180.8 76.9M120.5 56.5Q116.1 63.6 111.8 70.7M114.4 56.4Q112.4 61.1 112.4 65.6M138.7 58.9Q131.9 71.9 131.3 85.6M42.6 49.0Q42.8 38.9 42.9 28.8M200.5 41.5Q205.2 27.9 209.5 14.3M157.7 61.6Q163.3 74.9 167.4 88.2M165.3 41.3Q164.7 36.7 165.5 32.2M155.3 60.9Q156.5 73.3 153.3 85.4M4.0 59.6Q5.7 71.9 12.3 84.8M186.6 41.2Q189.2 36.6 191.8 32.1M104.3 56.9Q111.5 69.9 121.5 82.7M180.3 63.4Q179.5 71.0 178.0 78.6M217.0 42.2Q223.1 28.6 229.7 15.0M169.3 62.4Q172.0 70.4 177.8 78.5M69.6 45.8Q62.2 33.5 51.3 21.7M212.2 65.8Q214.7 71.1 217.4 76.4M191.3 41.4Q188.3 31.6 186.9 21.9M169.0 62.6Q166.3 77.1 157.4 91.4M215.4 42.1Q222.7 29.1 227.1 16.0M204.9 41.7Q203.6 37.1 200.6 32.5M220.1 66.3Q222.5 77.9 223.3 89.4M36.7 48.2Q42.7 37.1 49.2 26.1M180.0 63.4Q176.0 68.4 173.4 73.5M77.8 61.2Q87.2 71.6 92.5 82.6M165.2 41.1Q164.7 30.3 162.6 19.4M32.2 63.8Q35.6 78.6 32.8 92.4M200.3 41.6Q197.1 32.3 190.7 22.9M165.3 62.1Q166.8 66.2 168.1 70.4M209.5 41.8Q206.2 26.7 209.8 12.0M104.9 56.8Q101.8 72.1 104.4 86.9M100.7 57.2Q101.6 62.5 103.4 67.7M217.4 66.3Q215.5 76.0 209.8 85.6M96.2 58.3Q94.3 68.5 93.7 78.5M94.0 41.8Q96.6 28.8 96.2 16.3M33.7 63.8Q34.5 76.3 39.2 89.6M156.2 61.0Q149.6 71.2 145.4 81.6M218.4 66.3Q218.6 71.1 219.8 75.9M166.7 62.1Q173.9 73.8 176.5 85.2M82.1 43.9Q82.9 38.8 81.5 33.9M49.8 49.0Q45.0 39.5 36.6 30.3M203.4 65.1Q198.0 73.7 192.4 82.4M214.6 65.9Q216.3 71.3 216.7 76.6M158.7 61.6Q154.8 71.2 152.3 80.8M196.3 64.6Q193.7 70.6 188.3 76.4M160.0 61.5Q157.8 67.2 153.0 72.7M94.2 58.1Q92.3 64.9 90.8 71.6M114.9 39.6Q116.0 32.2 120.4 24.6M164.8 41.2Q166.8 36.8 167.5 32.2M187.1 63.9Q190.1 69.8 192.9 75.6M28.6 62.8Q21.6 75.8 9.5 87.9M110.3 56.5Q108.7 64.5 105.8 72.7M44.0 65.0Q44.3 69.6 43.2 74.2M81.8 60.3Q77.5 73.8 70.6 87.7" stroke="#555" stroke-opacity="0.12" stroke-width="0.9" fill="none" filter="url(#bl05)"/>
<ellipse cx="180" cy="42" rx="24" ry="10" fill="url(#tuft)" opacity="0.33" transform="translate(180,42) scale(1.75) translate(-180,-42)"/>
<ellipse cx="175" cy="72" rx="34" ry="14" fill="url(#tuft)" opacity="0.28" transform="translate(175,72) scale(1.75) translate(-175,-72)"/>
<ellipse cx="208" cy="52" rx="12" ry="22" fill="url(#tuft)" opacity="0.28" transform="translate(208,52) scale(1.75) translate(-208,-52)"/>
<path d="M220.6 42.4Q218.8 37.0 216.8 31.7M159.1 41.2Q156.2 33.9 150.9 26.4M217.7 66.3Q209.2 78.7 204.4 91.2M159.9 61.5Q160.6 65.4 162.8 69.3M203.2 65.3Q204.2 69.7 203.9 74.0M162.9 62.1Q163.0 66.5 162.3 70.9M211.6 65.8Q215.0 78.2 221.6 90.7M182.4 63.4Q181.1 74.0 180.6 84.6M216.8 42.1Q223.6 31.9 229.3 21.6M159.2 41.1Q157.4 28.5 160.9 16.1M191.0 64.3Q193.7 71.6 196.7 78.9M189.7 64.2Q190.0 75.1 190.8 86.0M158.1 61.6Q157.7 65.3 156.8 69.1M216.5 42.2Q215.6 37.5 214.1 32.8M204.0 65.3Q203.5 70.3 202.5 75.2M177.0 62.9Q174.3 71.4 174.0 80.0M158.1 61.4Q163.7 72.8 168.4 84.1M170.2 41.2Q173.8 29.3 179.8 17.4M211.9 65.7Q216.7 77.7 216.4 89.4M197.0 64.8Q194.5 74.2 191.0 83.5M171.1 62.4Q164.5 72.9 159.2 83.4M218.5 42.4Q227.5 31.5 235.1 20.6M197.5 64.9Q199.0 71.8 198.1 78.6M206.3 65.6Q205.6 68.8 204.8 72.1M195.8 41.4Q197.3 33.0 201.0 24.6M158.7 61.5Q165.5 73.8 172.2 86.0M189.0 64.2Q180.6 74.7 175.3 85.3M170.6 62.5Q166.9 70.6 162.3 78.6M191.9 41.3Q192.6 35.4 191.9 29.4M200.9 41.5Q201.4 32.3 203.1 23.3M188.3 41.4Q184.2 31.0 180.2 20.6M218.8 42.5Q215.9 35.4 211.6 28.3M200.2 41.6Q203.3 34.3 206.0 27.1M204.8 41.7Q206.8 37.9 207.1 34.0M188.7 64.3Q185.5 72.3 184.7 80.4M205.0 65.6Q208.2 73.9 215.4 82.5M220.5 42.4Q221.9 34.9 224.3 27.6M191.1 41.3Q192.1 37.3 191.9 33.1M197.6 64.9Q200.9 77.7 199.8 90.2M159.3 41.0Q157.2 33.0 155.5 25.1M186.3 41.3Q188.4 35.7 188.8 30.0M170.1 41.2Q168.3 32.7 167.0 24.1M204.1 65.2Q199.1 76.6 195.2 88.0M201.6 41.6Q201.1 33.1 204.0 24.7M218.4 66.2Q219.3 69.8 221.2 73.5M189.2 41.3Q187.6 38.0 186.5 34.7M191.5 41.4Q197.5 32.2 201.9 22.9M171.7 62.5Q166.0 70.0 162.5 77.6M189.5 41.3Q189.7 35.6 191.5 29.9M195.9 41.5Q198.9 36.3 199.3 31.1M180.2 41.2Q181.1 33.7 181.1 26.1M158.3 61.4Q158.8 65.3 158.3 69.1M190.6 64.2Q197.0 74.3 203.2 84.4M209.0 41.7Q203.9 30.6 202.6 19.6M196.2 64.6Q194.4 73.1 190.1 81.5M218.9 66.3Q219.0 77.0 217.5 87.6M217.6 42.3Q218.9 36.2 218.7 30.0M160.4 61.4Q155.6 69.3 151.5 77.2M170.8 41.3Q173.2 34.1 175.3 26.8M161.3 61.5Q160.1 67.0 157.6 72.4M164.4 41.1Q163.8 36.9 161.5 32.5M220.0 66.2Q221.2 69.4 221.7 72.6M158.5 61.5Q163.4 72.6 165.3 83.5M198.6 41.5Q196.1 36.5 193.2 31.5M190.8 41.4Q193.1 32.9 195.2 24.3M218.9 42.3Q222.5 31.2 228.8 20.3M160.9 41.1Q161.8 35.7 163.2 30.3M169.3 62.4Q174.0 72.7 179.1 82.9M187.7 41.3Q194.5 31.1 196.6 20.6M191.4 64.2Q188.7 73.6 185.5 83.0M194.3 64.7Q192.6 67.7 192.1 70.8M216.2 42.4Q211.2 31.2 210.7 20.2M177.7 41.2Q182.5 31.7 187.4 22.1M158.7 61.5Q160.4 69.6 164.8 77.8M176.2 62.9Q178.7 71.9 177.5 80.6M207.1 41.8Q203.1 29.9 197.9 17.8M220.6 42.4Q223.3 39.0 225.3 35.7M203.8 41.7Q200.8 33.0 198.9 24.3M196.7 64.9Q194.0 70.3 190.2 75.6M185.6 41.4Q187.4 32.3 190.5 23.4M212.5 66.0Q212.9 78.6 217.4 91.4M184.0 63.8Q181.3 70.0 181.0 76.4M212.2 65.8Q211.6 75.9 209.0 85.9M215.5 42.1Q213.9 29.6 213.9 17.3M179.8 41.2Q181.0 38.2 182.2 35.2M214.0 42.2Q215.2 37.8 216.6 33.4M221.2 66.3Q218.6 71.9 217.5 77.6M194.9 41.5Q188.2 28.7 181.6 15.9M206.6 41.8Q203.8 37.7 202.1 33.7M176.3 62.9Q175.7 66.1 176.3 69.4" stroke="#444" stroke-opacity="0.14" stroke-width="1.0" fill="none" filter="url(#bl05)"/>
<path d="M-7.1 60.8L-4.6 61.1L-1.3 61.5L2.7 62.0L7.1 62.5L11.6 63.1L16.1 63.6L20.2 64.1L23.8 64.6L26.6 65.0L29.0 65.4L31.4 65.9L33.9 66.4L36.5 66.8L39.5 67.2L42.7 67.4L46.3 67.4L50.1 67.2L53.8 66.8L57.6 66.3L61.5 65.7L65.3 65.1L69.3 64.5L73.3 63.9L77.5 63.3L82.0 62.7L86.8 62.0L91.6 61.2L96.5 60.5L101.3 59.8L106.1 59.3L110.8 59.0L115.3 58.9L119.7 59.1L124.3 59.5L128.9 60.1L133.7 60.9L138.7 61.7L143.7 62.5L148.9 63.3L154.1 64.0L159.3 64.6L164.6 65.1L169.9 65.7L175.2 66.2L180.3 66.7L185.2 67.2L189.9 67.7L194.2 68.1L198.4 68.4L202.5 68.8L206.4 69.1L210.1 69.3L213.5 69.6L216.6 69.8L219.1 69.9L221.1 70.1L222.9 38.9L220.9 38.8L218.3 38.7L215.3 38.6L211.9 38.4L208.1 38.3L204.1 38.1L200.0 38.0L195.8 37.9L191.3 37.9L186.6 37.9L181.6 37.9L176.5 38.0L171.2 38.0L166.0 38.0L160.8 38.1L155.9 38.0L151.1 37.9L146.2 37.8L141.2 37.5L136.1 37.3L130.9 37.0L125.6 36.9L120.2 36.9L114.7 37.1L109.3 37.5L103.8 38.1L98.5 38.8L93.3 39.7L88.3 40.5L83.4 41.3L78.9 42.1L74.5 42.7L70.3 43.3L66.0 44.0L62.1 44.6L58.3 45.2L54.8 45.7L51.5 46.1L48.4 46.4L45.7 46.6L43.3 46.6L41.2 46.5L39.3 46.4L37.3 46.1L35.0 45.7L32.5 45.3L29.5 44.8L26.2 44.4L22.5 44.0L18.4 43.6L13.9 43.1L9.3 42.7L4.9 42.2L0.9 41.8L-2.4 41.4L-4.9 41.2Z" fill="url(#bb2)" filter="url(#bl1)"/>
<clipPath id="rb2"><path d="M-7.1 60.4L-4.6 60.7L-1.3 61.1L2.7 61.6L7.1 62.1L11.7 62.7L16.1 63.2L20.3 63.7L23.8 64.2L26.6 64.6L29.1 65.0L31.5 65.5L33.9 66.0L36.6 66.4L39.5 66.8L42.8 67.0L46.3 67.0L50.0 66.8L53.8 66.4L57.6 65.9L61.4 65.3L65.3 64.7L69.2 64.1L73.2 63.5L77.4 62.9L81.9 62.3L86.7 61.6L91.5 60.8L96.4 60.1L101.3 59.4L106.1 58.9L110.7 58.6L115.3 58.5L119.7 58.7L124.3 59.1L129.0 59.7L133.8 60.4L138.7 61.2L143.8 62.0L148.9 62.8L154.2 63.5L159.4 64.0L164.6 64.6L169.9 65.1L175.2 65.7L180.3 66.2L185.3 66.6L189.9 67.1L194.3 67.5L198.4 67.8L202.5 68.2L206.4 68.5L210.2 68.7L213.6 69.0L216.6 69.2L219.2 69.3L221.2 69.5L222.8 39.5L220.9 39.4L218.3 39.3L215.3 39.2L211.8 39.0L208.1 38.9L204.1 38.7L200.0 38.6L195.7 38.5L191.3 38.5L186.6 38.5L181.6 38.5L176.4 38.5L171.2 38.5L166.0 38.6L160.8 38.6L155.8 38.5L151.0 38.4L146.2 38.2L141.2 38.0L136.1 37.7L130.9 37.5L125.6 37.3L120.2 37.3L114.7 37.5L109.3 37.9L103.9 38.5L98.6 39.2L93.4 40.1L88.3 40.9L83.5 41.7L78.9 42.5L74.6 43.1L70.3 43.7L66.1 44.4L62.1 45.0L58.3 45.6L54.8 46.1L51.5 46.5L48.5 46.8L45.7 47.0L43.3 47.0L41.2 46.9L39.2 46.7L37.2 46.5L35.0 46.1L32.4 45.7L29.5 45.2L26.2 44.8L22.5 44.4L18.3 44.0L13.8 43.5L9.3 43.0L4.9 42.6L0.9 42.2L-2.5 41.8L-4.9 41.6Z"/></clipPath>
<rect x="0" y="0" width="214.2" height="112.2" filter="url(#grain)" clip-path="url(#rb2)" opacity="0.16"/>
<path d="M-6.4 54.8L-4.0 55.1L-0.6 55.4L3.4 55.9L7.8 56.4L12.3 56.9L16.8 57.5L21.0 57.9L24.5 58.4L27.5 58.8L30.1 59.2L32.5 59.7L34.9 60.1L37.4 60.5L40.0 60.8L42.9 61.0L46.1 61.0L49.6 60.8L53.1 60.5L56.8 60.0L60.5 59.4L64.3 58.8L68.3 58.2L72.3 57.5L76.6 57.0L81.0 56.3L85.7 55.6L90.6 54.8L95.5 54.1L100.4 53.4L105.4 52.8L110.3 52.4L115.1 52.2L119.9 52.3L124.7 52.6L129.5 53.0L134.5 53.6L139.5 54.2L144.5 54.9L149.6 55.5L154.7 56.0L159.8 56.4L165.0 56.8L170.3 57.2L175.6 57.5L180.7 57.9L185.7 58.2L190.3 58.5L194.7 58.8L198.9 59.1L203.0 59.3L206.9 59.6L210.7 59.8L214.1 60.0L217.1 60.2L219.7 60.4L221.7 60.5L222.3 48.5L220.3 48.4L217.8 48.3L214.8 48.1L211.3 47.9L207.6 47.7L203.6 47.6L199.5 47.4L195.3 47.2L190.9 47.1L186.2 46.9L181.2 46.8L176.1 46.7L170.8 46.5L165.6 46.4L160.4 46.2L155.3 46.0L150.4 45.7L145.5 45.4L140.5 44.9L135.4 44.5L130.3 44.1L125.2 43.9L120.0 43.7L114.9 43.8L109.7 44.1L104.5 44.6L99.4 45.3L94.3 46.1L89.3 46.9L84.5 47.7L79.8 48.4L75.4 49.0L71.2 49.6L67.0 50.3L63.1 50.9L59.3 51.5L55.6 52.1L52.2 52.5L48.9 52.8L45.9 53.0L43.1 53.0L40.7 52.9L38.4 52.6L36.2 52.3L33.9 51.9L31.4 51.5L28.6 51.0L25.5 50.6L21.8 50.2L17.7 49.8L13.2 49.3L8.6 48.8L4.2 48.3L0.2 47.9L-3.1 47.5L-5.6 47.2Z" fill="#333" fill-opacity="0.14" filter="url(#bl1)"/>
<path d="M-6.1 51.7L-3.6 51.9L-0.3 52.3L3.7 52.8L8.1 53.3L12.7 53.8L17.2 54.3L21.3 54.8L24.9 55.2L27.9 55.6L30.6 56.0L33.1 56.5L35.4 56.9L37.8 57.3L40.3 57.5L43.0 57.7L46.0 57.7L49.3 57.5L52.7 57.2L56.3 56.7L60.0 56.2L63.8 55.5L67.8 54.9L71.9 54.3L76.1 53.7L80.5 53.1L85.2 52.3L90.0 51.5L95.0 50.8L100.0 50.0L105.0 49.4L110.1 49.0L115.0 48.7L119.9 48.7L124.9 49.0L129.9 49.4L134.9 49.9L139.9 50.4L144.9 51.0L149.9 51.5L154.9 51.9L160.0 52.2L165.3 52.5L170.5 52.8L175.8 53.0L180.9 53.3L185.9 53.5L190.6 53.8L194.9 54.0L199.1 54.2L203.2 54.5L207.2 54.7L210.9 54.9L214.4 55.1L217.4 55.3L219.9 55.4L221.9 55.5L222.1 53.5L220.1 53.3L217.5 53.2L214.5 53.0L211.1 52.8L207.3 52.6L203.4 52.4L199.2 52.2L195.1 52.0L190.7 51.8L186.0 51.6L181.0 51.4L175.9 51.1L170.6 50.9L165.4 50.7L160.1 50.4L155.1 50.1L150.1 49.8L145.1 49.3L140.0 48.8L135.0 48.3L130.0 47.8L125.0 47.4L120.0 47.3L115.0 47.3L110.0 47.5L104.9 48.0L99.8 48.6L94.8 49.4L89.8 50.1L85.0 50.9L80.3 51.7L75.9 52.3L71.7 52.9L67.5 53.5L63.6 54.2L59.8 54.8L56.1 55.3L52.6 55.8L49.2 56.1L46.0 56.3L43.0 56.3L40.4 56.2L38.0 55.9L35.7 55.5L33.3 55.1L30.9 54.7L28.1 54.2L25.1 53.8L21.5 53.4L17.3 52.9L12.8 52.4L8.3 51.9L3.9 51.4L-0.1 51.0L-3.5 50.6L-5.9 50.3Z" fill="#222" fill-opacity="0.30" filter="url(#bl0)"/>
<path d="M-6.6 56.4L-4.1 56.7L-0.8 57.1L3.2 57.5L7.6 58.0L12.1 58.6L16.6 59.1L20.8 59.6L24.3 60.0L27.2 60.4L29.8 60.9L32.2 61.3L34.6 61.8L37.2 62.2L39.9 62.5L42.9 62.7L46.2 62.7L49.7 62.5L53.3 62.1L57.0 61.7L60.7 61.1L64.6 60.5L68.5 59.8L72.6 59.2L76.8 58.6L81.3 58.0L86.0 57.3L90.8 56.5L95.7 55.8L100.7 55.1L105.6 54.5L110.4 54.1L115.2 54.0L119.8 54.1L124.6 54.4L129.4 54.9L134.3 55.5L139.3 56.2L144.3 56.9L149.4 57.6L154.5 58.1L159.7 58.6L164.9 59.0L170.2 59.4L175.5 59.8L180.6 60.2L185.5 60.6L190.2 60.9L194.6 61.3L198.7 61.6L202.8 61.8L206.8 62.1L210.5 62.3L213.9 62.6L217.0 62.7L219.5 62.9L221.5 63.0L221.6 61.5L219.6 61.4L217.1 61.3L214.0 61.1L210.6 60.9L206.9 60.6L202.9 60.4L198.8 60.1L194.6 59.8L190.3 59.5L185.6 59.2L180.7 58.8L175.5 58.5L170.3 58.1L165.0 57.7L159.8 57.3L154.6 56.9L149.5 56.3L144.4 55.7L139.4 55.1L134.4 54.4L129.5 53.8L124.6 53.3L119.8 53.0L115.1 52.9L110.4 53.1L105.5 53.5L100.5 54.1L95.6 54.8L90.7 55.5L85.8 56.3L81.1 57.0L76.7 57.7L72.4 58.2L68.4 58.9L64.4 59.5L60.6 60.1L56.8 60.7L53.2 61.2L49.6 61.5L46.1 61.7L42.9 61.7L40.0 61.5L37.3 61.2L34.8 60.8L32.4 60.4L30.0 59.9L27.4 59.5L24.4 59.0L20.9 58.6L16.7 58.1L12.2 57.6L7.7 57.1L3.3 56.6L-0.7 56.1L-4.0 55.7L-6.5 55.4Z" fill="#222" fill-opacity="0.15" filter="url(#bl0)"/>
<path d="M-5.5 46.6L-3.0 46.8L0.3 47.2L4.3 47.6L8.7 48.1L13.3 48.6L17.7 49.1L21.9 49.5L25.6 50.0L28.7 50.4L31.5 50.8L34.0 51.2L36.3 51.6L38.5 52.0L40.7 52.2L43.1 52.3L45.9 52.3L48.9 52.1L52.1 51.8L55.5 51.4L59.2 50.8L63.0 50.2L66.9 49.6L71.1 49.0L75.3 48.3L79.7 47.7L84.3 47.0L89.2 46.2L94.2 45.4L99.3 44.6L104.5 43.9L109.7 43.4L114.9 43.1L120.1 43.0L125.2 43.1L130.4 43.4L135.5 43.7L140.5 44.1L145.5 44.5L150.5 44.9L155.4 45.1L160.4 45.3L165.6 45.5L170.9 45.6L176.1 45.7L181.3 45.8L186.2 45.9L190.9 46.1L195.4 46.2L199.6 46.4L203.7 46.5L207.7 46.7L211.4 46.9L214.8 47.1L217.9 47.2L220.4 47.4L222.4 47.5L222.5 46.0L220.5 45.9L217.9 45.7L214.9 45.6L211.5 45.4L207.7 45.2L203.8 45.1L199.6 44.9L195.4 44.7L191.0 44.6L186.3 44.5L181.3 44.4L176.2 44.4L170.9 44.3L165.7 44.2L160.5 44.0L155.5 43.9L150.6 43.7L145.7 43.3L140.7 43.0L135.6 42.6L130.5 42.3L125.3 42.0L120.1 41.9L114.8 42.0L109.6 42.4L104.3 42.9L99.1 43.6L94.0 44.4L89.0 45.2L84.2 46.0L79.6 46.7L75.2 47.4L70.9 48.0L66.8 48.6L62.8 49.2L59.0 49.8L55.4 50.4L52.0 50.8L48.8 51.1L45.8 51.3L43.2 51.3L40.8 51.2L38.7 51.0L36.5 50.7L34.2 50.3L31.7 49.8L28.9 49.4L25.7 49.0L22.0 48.6L17.8 48.1L13.4 47.6L8.8 47.2L4.4 46.7L0.4 46.2L-2.9 45.9L-5.4 45.6Z" fill="#222" fill-opacity="0.15" filter="url(#bl0)"/>
</g></g>
<g clip-path="url(#cl21)">
<rect x="751.30" y="644.70" width="214.20" height="112.20" fill="#020903" stroke="none" stroke-width="0" />
<g transform="translate(751.3,644.7)">
<path d="M165.5 50.3Q164.9 53.8 164.3 57.3M121.0 46.3Q121.7 49.0 123.3 51.5M102.4 48.1Q102.1 51.8 100.0 55.7M126.0 45.9Q126.2 53.0 126.8 59.9M155.9 47.4Q152.9 51.6 150.8 56.1M172.1 51.3Q170.2 55.8 170.3 60.5M197.2 32.3Q198.9 25.7 203.1 19.2M100.1 48.2Q100.6 53.8 102.8 59.2M109.2 47.3Q105.9 54.2 104.8 60.8M109.7 31.6Q110.2 24.4 111.5 17.1M91.8 33.3Q91.8 30.6 91.1 28.0M184.6 51.7Q181.9 59.4 178.3 67.1M109.0 47.3Q107.8 53.1 106.5 58.8M13.9 51.0Q13.5 59.7 15.8 68.5M114.5 47.1Q113.1 50.9 113.5 54.7M150.7 46.5Q153.0 51.2 153.5 55.7M150.2 46.4Q152.1 54.7 152.1 62.9M168.9 51.1Q169.5 54.6 169.7 58.0M145.4 45.8Q146.1 51.1 147.1 56.4M185.3 51.7Q184.0 55.9 181.8 60.2M65.2 36.1Q63.5 33.7 62.9 31.2M56.5 52.8Q56.6 61.0 53.0 69.3M189.9 51.2Q191.1 54.3 191.6 57.5M114.7 31.0Q114.0 25.1 112.9 19.2M193.7 50.9Q197.7 60.0 200.9 69.2M149.2 28.8Q151.7 22.2 153.2 15.6M101.6 48.3Q101.0 52.9 101.2 57.4M27.1 35.2Q29.4 27.2 33.3 19.2M103.2 47.9Q99.6 57.0 99.7 65.7M8.2 50.7Q8.3 57.7 8.2 64.8M82.7 50.0Q83.4 53.6 83.4 57.3M77.2 50.5Q79.3 54.7 80.4 59.1M178.9 51.7Q182.0 61.2 187.1 70.8M147.6 45.9Q146.5 49.7 143.9 53.3M175.9 51.6Q175.7 56.7 173.7 61.6M81.9 50.3Q84.0 60.0 81.7 70.1M35.2 51.7Q31.9 58.8 27.4 66.0M35.3 51.8Q36.0 55.0 36.7 58.2M38.7 36.0Q39.9 29.7 43.1 23.6M53.1 52.7Q52.5 58.4 50.3 64.1M48.3 52.6Q44.7 61.9 42.0 71.2M87.9 49.4Q86.2 57.3 87.6 64.9M95.9 48.6Q95.7 58.1 99.9 67.3M121.6 46.5Q122.1 50.0 122.3 53.6M83.1 50.1Q84.1 52.9 85.6 55.7" stroke="#12461a" stroke-opacity="0.36" stroke-width="1.0" fill="none" filter="url(#bl0)"/>
<path d="M-6.6 55.5L-3.7 55.6L0.1 55.8L4.7 56.0L9.7 56.2L14.9 56.4L20.2 56.6L25.1 56.8L29.4 57.0L33.2 57.2L36.9 57.4L40.5 57.6L44.0 57.9L47.6 58.1L51.1 58.2L54.7 58.3L58.3 58.3L61.8 58.1L65.1 57.9L68.3 57.5L71.2 57.1L73.9 56.7L76.5 56.3L79.0 55.9L81.4 55.6L83.8 55.3L86.0 55.0L88.1 54.8L90.1 54.6L92.2 54.3L94.7 54.1L97.6 53.9L101.2 53.6L105.6 53.3L110.7 52.8L116.3 52.4L122.0 51.9L127.8 51.5L133.3 51.3L138.4 51.2L142.8 51.4L146.6 51.8L150.2 52.6L153.9 53.5L157.6 54.6L161.3 55.7L165.2 56.8L169.3 57.7L173.5 58.3L177.4 58.6L180.9 58.6L184.0 58.5L186.9 58.2L189.5 57.9L192.0 57.6L194.4 57.3L196.9 57.0L199.9 56.8L203.3 56.6L207.0 56.4L210.6 56.2L214.0 56.0L217.1 55.8L219.7 55.6L221.7 55.5L222.3 28.5L220.4 28.3L217.8 28.0L214.6 27.7L211.2 27.3L207.6 26.9L203.9 26.6L200.4 26.3L197.1 26.0L194.0 25.8L191.1 25.6L188.4 25.4L186.0 25.2L183.7 25.1L181.4 25.0L179.0 24.8L176.5 24.7L173.8 24.5L170.7 24.3L167.1 24.0L163.1 23.7L158.6 23.4L153.8 23.1L148.6 23.0L143.2 23.0L137.6 23.3L131.7 23.8L125.6 24.4L119.5 25.0L113.6 25.7L108.0 26.4L103.1 26.9L98.8 27.4L95.3 27.7L92.2 28.1L89.6 28.3L87.3 28.6L85.2 28.8L83.2 29.0L81.0 29.2L78.6 29.4L75.8 29.7L73.0 30.0L70.4 30.3L67.8 30.6L65.3 30.9L62.8 31.1L60.3 31.2L57.7 31.3L55.0 31.3L52.1 31.2L49.0 31.1L45.7 30.9L42.2 30.7L38.5 30.4L34.7 30.2L30.6 30.0L26.2 29.8L21.3 29.6L16.1 29.4L10.8 29.2L5.8 29.0L1.2 28.8L-2.6 28.6L-5.4 28.5Z" fill="#082c0a" fill-opacity="0.22" filter="url(#bl3)"/>
<path d="M-6.4 52.0L-3.6 52.1L0.2 52.3L4.8 52.5L9.8 52.7L15.1 52.9L20.3 53.1L25.2 53.3L29.5 53.5L33.4 53.7L37.1 53.9L40.7 54.2L44.3 54.4L47.8 54.6L51.3 54.7L54.7 54.8L58.2 54.8L61.6 54.6L64.8 54.4L67.9 54.0L70.8 53.7L73.5 53.2L76.1 52.9L78.6 52.5L81.1 52.2L83.5 51.9L85.7 51.7L87.7 51.4L89.7 51.2L91.9 51.0L94.3 50.7L97.3 50.5L100.9 50.2L105.3 49.9L110.4 49.4L115.9 48.9L121.7 48.4L127.5 48.0L133.1 47.7L138.3 47.6L142.8 47.7L146.8 48.1L150.7 48.7L154.5 49.6L158.3 50.6L162.1 51.6L165.9 52.6L169.9 53.4L173.9 54.0L177.6 54.2L180.9 54.3L184.0 54.2L186.8 54.0L189.4 53.7L191.9 53.4L194.3 53.2L196.9 53.0L200.0 52.9L203.4 52.7L207.0 52.6L210.6 52.4L214.1 52.3L217.2 52.2L219.8 52.1L221.8 52.0L222.2 32.0L220.3 31.8L217.7 31.6L214.6 31.4L211.1 31.1L207.5 30.8L203.8 30.5L200.3 30.2L197.1 30.0L194.0 29.8L191.2 29.7L188.6 29.6L186.1 29.5L183.7 29.4L181.3 29.3L178.8 29.2L176.1 29.0L173.2 28.8L170.0 28.5L166.4 28.1L162.4 27.7L158.0 27.3L153.3 26.9L148.4 26.7L143.2 26.7L137.7 26.9L131.9 27.3L125.9 27.9L119.8 28.5L113.9 29.2L108.4 29.8L103.4 30.3L99.1 30.8L95.6 31.1L92.5 31.4L89.9 31.7L87.7 31.9L85.6 32.1L83.5 32.4L81.4 32.6L78.9 32.8L76.2 33.1L73.5 33.4L70.8 33.8L68.2 34.1L65.7 34.3L63.1 34.6L60.5 34.7L57.8 34.8L54.9 34.8L52.0 34.7L48.8 34.6L45.5 34.4L42.0 34.2L38.3 33.9L34.5 33.7L30.5 33.5L26.1 33.3L21.1 33.1L15.9 32.9L10.7 32.7L5.6 32.5L1.1 32.3L-2.8 32.1L-5.6 32.0Z" fill="url(#fb2)" filter="url(#bl1)"/>
<ellipse cx="184" cy="42" rx="30" ry="32" fill="url(#fan)" opacity="0.5"/>
</g></g>
<g clip-path="url(#cl30)">
<rect x="531.90" y="763.50" width="214.20" height="112.20" fill="url(#bfh)" stroke="none" stroke-width="0" />
<rect x="531.90" y="763.50" width="214.20" height="112.20" fill="url(#bfv)" stroke="none" stroke-width="0" />
<g transform="translate(531.9,763.5)">
<path d="M187.8 71.8Q181.9 86.5 176.7 101.3M219.8 74.0Q218.9 80.1 219.7 86.3M187.4 71.8Q189.0 76.2 189.1 80.5M110.0 61.4Q108.6 72.5 110.1 84.0M117.6 63.1Q118.5 67.9 117.3 72.5M91.7 42.2Q85.6 29.6 81.6 17.4M55.6 53.4Q56.0 57.7 54.7 61.8M214.2 73.8Q210.0 87.2 207.8 100.7M193.8 72.4Q192.2 78.4 192.0 84.5M176.6 47.5Q184.1 36.7 189.0 25.9M194.0 47.6Q199.1 36.6 199.4 25.5M134.9 65.2Q129.3 74.7 128.4 84.7M111.7 44.4Q115.5 36.1 117.8 27.6M219.7 74.1Q220.6 85.6 221.4 97.1M221.4 48.7Q227.6 39.8 229.4 30.7M61.4 53.7Q63.3 60.7 65.4 67.7M216.4 48.3Q224.7 37.7 228.1 26.8M135.2 47.0Q135.1 33.9 131.4 20.4M221.0 74.2Q222.5 85.8 226.3 97.6M68.3 54.8Q66.5 61.7 67.5 69.0M195.8 47.5Q196.2 42.1 196.4 36.6M203.0 72.9Q206.9 87.6 210.9 102.3M218.3 73.9Q218.1 78.8 219.4 83.9M169.8 47.3Q173.0 36.7 175.4 26.1M195.0 72.3Q192.8 77.3 192.2 82.4M62.8 37.7Q67.5 22.6 70.5 7.4M153.2 47.5Q153.6 36.3 157.9 25.4M166.4 69.5Q159.6 79.8 157.9 90.4M211.4 73.8Q211.9 81.0 210.9 88.2M80.2 40.5Q81.2 35.1 82.4 29.6M181.5 47.4Q181.0 32.2 177.0 16.9M151.3 67.4Q151.2 73.7 149.2 79.9M172.5 47.3Q172.1 40.2 171.9 33.1M124.4 63.4Q119.6 71.0 116.7 78.7M125.7 63.5Q125.0 77.5 128.5 92.1M142.4 46.9Q146.1 33.2 156.1 20.0M143.1 66.8Q141.5 70.7 141.0 74.8M139.0 65.8Q129.4 79.2 123.3 92.8M222.6 48.7Q222.0 35.8 219.7 22.8M115.8 62.4Q115.8 73.0 112.7 83.2M120.3 45.9Q117.1 34.1 110.7 21.8M195.8 47.7Q198.4 43.5 200.8 39.4M175.3 47.5Q180.0 32.8 189.3 18.3M142.6 66.8Q142.4 71.4 140.8 75.8M173.4 70.5Q175.1 77.7 177.2 85.1M184.5 71.5Q186.7 80.1 184.9 88.6M126.4 46.0Q130.2 41.4 132.5 36.7M209.0 73.5Q217.7 88.6 223.3 103.6M184.6 71.6Q185.6 79.4 189.8 87.4M186.1 47.5Q183.3 40.8 179.1 34.0M145.5 66.7Q137.4 79.8 129.9 93.0M217.6 48.5Q213.1 33.6 208.6 18.7M201.8 47.8Q210.6 33.3 216.1 18.7M70.6 54.9Q63.4 63.8 58.5 73.1M66.7 38.3Q70.6 30.7 77.2 23.4M47.9 37.6Q49.5 26.2 46.6 15.0M51.3 53.4Q47.0 66.9 45.4 80.5M197.9 72.7Q199.3 83.4 202.2 94.3M188.6 71.9Q187.1 79.6 189.1 87.5M182.6 47.4Q179.0 40.0 178.2 32.7M61.5 38.0Q70.0 24.1 73.6 9.8M124.7 63.7Q129.9 80.2 137.5 96.9M69.6 55.0Q71.1 62.1 69.8 68.7M2.8 58.8Q3.4 64.0 2.5 69.4M105.6 60.7Q101.4 73.8 95.2 86.7M38.6 54.1Q39.2 70.0 38.4 86.1M191.8 72.1Q188.2 83.5 187.7 94.9M194.7 72.2Q194.9 77.7 194.2 83.0M195.4 72.3Q187.2 82.0 182.7 91.9M77.6 56.3Q74.9 65.7 68.0 74.5M222.2 48.5Q219.6 42.7 218.9 37.0M190.6 47.5Q200.6 32.8 204.3 17.9M215.5 48.3Q221.2 35.5 226.1 22.6M219.4 48.6Q219.4 44.2 219.4 39.9M219.4 48.4Q222.8 41.9 223.5 35.2M166.3 47.3Q165.9 43.1 165.0 38.9M202.6 47.8Q198.7 32.7 190.5 17.3M197.6 47.7Q199.0 33.3 200.2 18.8M192.0 47.6Q189.0 33.5 181.8 19.1M105.6 44.1Q102.9 30.6 98.7 16.8M98.9 42.7Q103.0 36.6 105.9 30.3M181.0 47.5Q179.7 38.1 180.0 28.8M214.1 73.8Q203.5 87.9 195.5 102.1M185.9 71.8Q186.6 76.6 189.4 81.5M93.0 59.1Q82.5 71.5 73.6 84.2M206.7 48.1Q209.6 41.4 211.5 34.6M55.9 53.5Q54.6 62.6 54.1 71.6M177.7 47.4Q176.6 35.1 170.2 22.6M156.3 47.4Q161.2 32.2 166.0 16.9M218.5 48.4Q222.1 37.0 225.0 25.5M166.5 47.3Q165.6 33.9 158.9 20.2M175.7 70.6Q177.2 86.3 184.3 102.3M149.9 67.5Q148.9 76.3 147.6 85.0M94.5 59.1Q92.6 71.1 91.6 83.3M192.8 47.6Q192.9 43.0 193.2 38.4M199.9 47.6Q203.9 34.9 205.0 22.1M106.1 60.6Q104.0 71.5 96.9 81.6M36.8 54.8Q40.3 62.3 40.5 70.2M164.7 69.6Q163.0 82.5 164.7 95.7M62.4 37.9Q70.2 23.6 77.7 9.3M134.3 65.3Q138.4 75.1 139.8 84.6M183.4 47.4Q190.0 38.7 193.1 29.9M191.1 72.0Q190.2 84.9 187.6 97.8M215.5 48.4Q212.9 38.5 214.0 28.7M177.0 70.9Q170.4 82.3 166.2 93.9M185.6 47.5Q187.8 35.8 190.7 24.3M191.9 71.9Q200.5 85.3 204.0 98.5M113.1 62.2Q109.7 73.3 105.9 84.3M183.0 47.5Q189.1 36.4 191.7 25.1M171.4 47.4Q168.4 41.9 166.8 36.4M218.3 73.9Q216.2 83.6 216.4 93.6M189.8 71.9Q186.2 79.8 182.0 87.8M119.7 45.7Q121.2 40.6 123.5 35.6M215.4 74.0Q205.8 87.6 197.9 101.2M42.1 54.1Q43.4 62.4 44.8 70.6M170.5 70.1Q170.5 80.4 171.0 90.7M111.5 44.6Q110.2 38.9 110.4 33.5M208.1 73.4Q207.0 83.9 209.6 94.7M180.5 47.5Q189.9 33.7 197.0 19.8M149.8 47.3Q155.9 37.8 160.1 28.1" stroke="#555" stroke-opacity="0.12" stroke-width="0.9" fill="none" filter="url(#bl05)"/>
<ellipse cx="178" cy="58" rx="30" ry="27" fill="url(#tuft)" opacity="0.60" transform="translate(178,58) scale(1.75) translate(-178,-58)"/>
<ellipse cx="190" cy="38" rx="24" ry="18" fill="url(#tuft)" opacity="0.33" transform="translate(190,38) scale(1.75) translate(-190,-38)"/>
<ellipse cx="205" cy="62" rx="14" ry="26" fill="url(#tuft)" opacity="0.30" transform="translate(205,62) scale(1.75) translate(-205,-62)"/>
<path d="M209.2 73.5Q213.4 87.1 217.3 100.6M161.0 47.5Q166.2 34.6 177.2 22.2M188.3 71.9Q187.6 80.9 184.7 89.9M194.7 72.4Q192.4 77.6 190.2 82.9M207.3 47.9Q206.3 41.7 204.5 35.4M158.8 47.3Q155.6 37.0 157.0 27.0M160.0 68.9Q161.3 80.9 166.4 93.1M170.9 47.5Q175.9 38.4 179.7 29.2M201.6 47.6Q202.0 42.1 203.2 36.6M176.4 71.0Q180.4 83.5 180.0 95.8M155.6 68.1Q159.8 78.7 165.0 89.3M191.2 47.6Q196.4 37.6 199.0 27.5M188.7 71.8Q192.9 78.6 197.1 85.3M184.5 47.5Q187.7 41.3 192.3 35.1M216.4 48.4Q216.3 38.8 215.8 29.2M179.9 71.2Q178.7 77.4 178.3 83.6M156.1 47.3Q158.9 43.3 161.4 39.4M177.4 47.4Q182.9 41.0 186.0 34.5M198.5 72.6Q196.1 83.2 193.2 93.7M196.9 47.7Q197.8 41.7 198.7 35.6M216.6 48.4Q216.1 40.4 215.4 32.5M206.3 48.0Q206.7 38.8 211.4 29.8M204.5 47.8Q212.0 36.3 221.4 25.0M215.1 73.9Q221.4 87.8 224.7 101.6M196.8 72.4Q190.0 81.4 187.7 90.7M184.4 71.4Q194.2 85.8 198.2 99.8M174.2 47.4Q177.3 35.4 177.7 23.2M159.2 68.9Q155.5 82.8 153.7 96.9M204.5 73.2Q209.3 86.4 214.8 99.7M160.3 47.5Q163.5 40.6 163.5 33.5M198.4 72.6Q195.5 83.4 196.2 94.4M210.7 48.2Q214.2 36.4 220.1 24.8M194.9 72.3Q187.9 84.4 186.4 96.7M171.7 70.0Q171.7 78.1 167.9 85.9M157.3 47.3Q153.5 39.7 153.2 32.4M161.1 47.5Q169.0 36.3 178.7 25.3M187.1 71.9Q193.0 80.0 195.7 88.1M187.7 47.5Q185.6 38.0 184.5 28.5M220.0 74.1Q224.9 87.6 226.7 101.0M157.8 47.4Q157.1 33.9 156.3 20.5M206.8 73.1Q206.6 77.5 206.6 82.0M209.0 73.5Q205.9 86.7 201.9 99.8M179.8 71.0Q184.5 79.4 187.6 87.6M201.3 47.6Q199.1 42.6 196.9 37.5M182.8 47.5Q179.5 36.8 175.7 26.1M188.2 47.4Q187.0 43.7 187.0 39.9M166.4 47.3Q167.9 34.0 164.5 20.3M216.4 48.6Q218.4 35.4 224.7 22.5M201.1 73.0Q201.1 76.4 202.2 79.9M197.7 72.7Q196.9 76.2 195.2 79.7M215.7 73.9Q215.1 79.4 213.1 84.8M156.0 47.4Q156.1 42.8 154.3 38.0M200.8 72.9Q196.8 87.6 188.9 102.0M205.3 47.9Q204.9 36.2 201.1 24.3M191.1 47.6Q196.2 39.1 202.7 30.8M190.4 47.4Q196.4 38.1 200.4 28.6M192.3 72.1Q194.8 76.5 197.0 81.0M154.9 68.1Q150.1 74.7 145.9 81.4M154.3 68.1Q153.5 82.5 154.5 97.0M188.6 71.9Q197.2 84.2 202.2 96.3M189.6 47.5Q189.7 36.2 186.4 24.8M198.6 72.6Q188.4 84.9 180.8 97.4M171.7 47.3Q176.0 36.0 185.5 25.1M154.0 68.2Q151.8 73.2 150.4 78.2M187.2 47.5Q188.5 42.4 187.6 37.2M190.3 72.0Q191.0 82.7 189.5 93.2M215.4 48.4Q220.4 34.2 229.7 20.1M172.6 47.3Q166.7 38.7 162.7 30.2M217.6 73.9Q213.0 86.6 207.7 99.2M198.5 47.7Q200.9 42.3 201.8 36.8M164.3 69.5Q165.5 73.9 164.7 78.2M185.3 47.5Q183.7 44.0 183.3 40.6M164.8 69.4Q165.2 81.4 168.3 93.5M191.8 47.5Q190.2 42.8 187.8 38.1M165.7 69.4Q167.1 73.3 169.1 77.3M195.5 72.4Q183.9 84.8 176.1 97.4M218.8 48.7Q221.5 44.3 222.6 39.7M196.7 72.3Q199.1 76.2 199.8 80.0M208.9 73.4Q196.9 86.3 188.8 99.5M188.9 71.8Q185.3 86.3 175.9 100.6M190.2 72.0Q192.5 84.2 191.3 96.3M196.3 72.3Q193.8 87.1 193.3 101.9M195.9 72.4Q203.8 87.8 214.9 103.4M207.9 48.0Q207.3 39.4 210.4 31.1M166.1 47.3Q171.7 37.0 178.1 26.7M164.0 69.4Q165.6 78.4 167.4 87.4M190.0 71.9Q191.2 82.9 191.1 93.8M155.2 47.4Q154.1 41.1 152.2 34.7M175.1 70.5Q178.4 85.7 175.4 100.4M201.6 47.8Q202.0 43.5 201.3 39.1" stroke="#444" stroke-opacity="0.14" stroke-width="1.0" fill="none" filter="url(#bl05)"/>
<path d="M-4.8 61.8L-2.2 61.5L1.4 61.1L5.7 60.6L10.4 60.1L15.4 59.5L20.3 59.0L24.9 58.5L29.1 58.1L33.0 57.7L36.6 57.2L39.9 56.7L42.9 56.3L45.9 56.0L48.8 55.8L52.0 55.8L55.5 55.9L59.5 56.2L63.9 56.7L68.7 57.3L73.7 58.1L78.9 59.0L84.1 59.9L89.4 60.7L94.5 61.6L99.5 62.3L104.3 63.1L109.2 63.9L114.0 64.7L118.9 65.5L123.8 66.3L128.8 67.1L133.8 67.9L139.0 68.7L144.3 69.6L149.8 70.4L155.2 71.3L160.4 72.1L165.4 72.8L169.9 73.5L174.0 74.0L177.6 74.5L180.7 74.9L183.4 75.1L185.8 75.3L188.0 75.5L190.2 75.7L192.5 75.9L195.2 76.1L198.3 76.4L201.8 76.6L205.6 76.9L209.4 77.2L213.0 77.5L216.2 77.7L219.0 78.0L221.0 78.1L223.0 44.9L220.9 44.8L218.2 44.7L214.9 44.5L211.3 44.4L207.5 44.2L203.7 44.1L200.1 44.0L196.8 43.9L194.0 43.9L191.5 43.8L189.2 43.8L187.0 43.8L184.7 43.9L182.3 43.9L179.4 43.9L176.0 44.0L171.9 44.0L167.3 44.1L162.3 44.2L157.1 44.2L151.7 44.3L146.4 44.3L141.2 44.3L136.2 44.1L131.4 43.8L126.6 43.5L121.8 43.1L117.0 42.6L112.1 42.1L107.3 41.6L102.4 41.0L97.5 40.4L92.5 39.8L87.4 39.1L82.2 38.3L76.9 37.4L71.7 36.7L66.4 36.0L61.4 35.4L56.5 35.1L51.9 35.1L47.8 35.2L43.9 35.5L40.3 36.0L37.0 36.5L33.7 37.0L30.4 37.5L26.9 37.9L22.7 38.4L18.0 39.0L13.0 39.6L8.1 40.2L3.3 40.8L-0.9 41.4L-4.5 41.9L-7.2 42.2Z" fill="url(#bb3)" filter="url(#bl1)"/>
<clipPath id="rb3"><path d="M-4.9 61.4L-2.2 61.1L1.4 60.7L5.7 60.2L10.4 59.7L15.3 59.1L20.2 58.6L24.9 58.1L29.1 57.7L33.0 57.3L36.5 56.8L39.8 56.3L42.9 56.0L45.8 55.6L48.8 55.5L52.0 55.4L55.5 55.5L59.5 55.8L64.0 56.3L68.7 56.9L73.8 57.7L78.9 58.6L84.2 59.5L89.5 60.3L94.6 61.2L99.5 61.9L104.4 62.7L109.2 63.5L114.1 64.3L119.0 65.1L123.9 65.9L128.8 66.7L133.8 67.4L139.0 68.2L144.4 69.1L149.8 69.9L155.2 70.7L160.4 71.5L165.4 72.3L170.0 72.9L174.1 73.5L177.6 73.9L180.7 74.3L183.4 74.5L185.8 74.7L188.0 74.9L190.2 75.1L192.6 75.3L195.2 75.5L198.3 75.7L201.9 76.0L205.6 76.3L209.4 76.6L213.0 76.9L216.3 77.1L219.0 77.3L221.1 77.5L222.9 45.5L220.9 45.4L218.1 45.3L214.9 45.2L211.2 45.0L207.4 44.9L203.6 44.7L200.1 44.6L196.8 44.5L194.0 44.5L191.5 44.4L189.2 44.4L187.0 44.4L184.7 44.5L182.2 44.5L179.4 44.5L175.9 44.5L171.8 44.6L167.2 44.6L162.3 44.7L157.0 44.8L151.7 44.8L146.4 44.8L141.1 44.7L136.2 44.6L131.3 44.3L126.5 43.9L121.7 43.5L116.9 43.0L112.1 42.5L107.2 42.0L102.3 41.4L97.4 40.8L92.5 40.2L87.4 39.5L82.2 38.7L76.9 37.8L71.6 37.1L66.4 36.4L61.3 35.8L56.5 35.5L51.9 35.5L47.8 35.6L44.0 35.9L40.4 36.4L37.0 36.9L33.8 37.4L30.5 37.9L26.9 38.3L22.7 38.8L18.0 39.4L13.1 40.0L8.1 40.6L3.4 41.2L-0.9 41.8L-4.5 42.2L-7.1 42.6Z"/></clipPath>
<rect x="0" y="0" width="214.2" height="112.2" filter="url(#grain)" clip-path="url(#rb3)" opacity="0.16"/>
<path d="M-5.5 55.8L-2.9 55.5L0.7 55.0L5.0 54.5L9.7 54.0L14.6 53.4L19.6 52.8L24.2 52.3L28.4 51.9L32.2 51.4L35.7 51.0L39.0 50.5L42.1 50.1L45.3 49.7L48.5 49.5L52.0 49.4L55.8 49.5L60.1 49.8L64.7 50.3L69.6 51.0L74.7 51.8L79.9 52.6L85.2 53.5L90.4 54.3L95.4 55.1L100.4 55.8L105.2 56.5L110.1 57.2L114.9 57.9L119.8 58.6L124.7 59.3L129.6 59.9L134.5 60.6L139.7 61.2L145.0 61.8L150.4 62.4L155.8 62.9L161.0 63.5L166.0 64.0L170.5 64.4L174.6 64.8L178.2 65.1L181.2 65.3L183.8 65.5L186.1 65.7L188.4 65.8L190.6 65.9L193.0 66.0L195.7 66.2L198.8 66.4L202.4 66.6L206.2 66.9L209.9 67.1L213.6 67.4L216.8 67.6L219.6 67.8L221.6 67.9L222.4 55.1L220.3 55.0L217.6 54.9L214.3 54.7L210.7 54.5L206.9 54.3L203.1 54.1L199.5 53.9L196.3 53.8L193.6 53.7L191.1 53.6L188.8 53.6L186.6 53.5L184.3 53.5L181.8 53.4L178.8 53.3L175.4 53.2L171.3 53.1L166.7 52.9L161.7 52.7L156.5 52.6L151.1 52.3L145.8 52.1L140.5 51.8L135.5 51.4L130.6 51.0L125.7 50.5L120.9 50.0L116.1 49.4L111.2 48.8L106.4 48.2L101.5 47.6L96.6 46.9L91.6 46.3L86.4 45.5L81.2 44.6L75.9 43.8L70.7 43.0L65.7 42.3L60.8 41.8L56.2 41.5L52.0 41.4L48.1 41.6L44.5 41.8L41.1 42.2L37.9 42.7L34.6 43.2L31.2 43.7L27.6 44.1L23.4 44.6L18.7 45.1L13.7 45.7L8.8 46.3L4.1 46.9L-0.2 47.5L-3.8 47.9L-6.5 48.2Z" fill="#333" fill-opacity="0.14" filter="url(#bl1)"/>
<path d="M-5.9 52.7L-3.3 52.3L0.3 51.9L4.6 51.4L9.3 50.8L14.3 50.2L19.2 49.7L23.9 49.1L28.1 48.7L31.8 48.2L35.2 47.8L38.5 47.3L41.7 46.8L44.9 46.5L48.3 46.2L52.0 46.1L56.0 46.2L60.4 46.5L65.1 47.0L70.1 47.7L75.2 48.5L80.4 49.3L85.7 50.2L90.9 51.0L95.9 51.7L100.8 52.4L105.7 53.1L110.6 53.7L115.4 54.4L120.2 55.0L125.1 55.7L130.0 56.3L134.9 56.8L140.0 57.3L145.3 57.8L150.7 58.2L156.1 58.7L161.3 59.0L166.2 59.4L170.8 59.7L174.9 60.0L178.4 60.2L181.4 60.4L184.0 60.6L186.3 60.7L188.6 60.7L190.8 60.8L193.2 60.9L195.9 61.1L199.1 61.3L202.7 61.5L206.5 61.7L210.2 61.9L213.9 62.1L217.1 62.3L219.9 62.5L221.9 62.6L222.1 60.4L220.0 60.3L217.3 60.1L214.0 59.9L210.4 59.7L206.6 59.5L202.8 59.3L199.2 59.1L196.1 58.9L193.3 58.8L190.9 58.7L188.6 58.6L186.4 58.5L184.1 58.4L181.5 58.3L178.6 58.2L175.1 58.0L171.0 57.7L166.4 57.5L161.4 57.2L156.2 56.8L150.8 56.5L145.4 56.1L140.2 55.7L135.1 55.2L130.2 54.7L125.3 54.1L120.4 53.5L115.6 52.9L110.8 52.3L105.9 51.6L101.0 50.9L96.1 50.3L91.1 49.6L85.9 48.8L80.7 47.9L75.4 47.1L70.3 46.3L65.3 45.6L60.5 45.1L56.0 44.8L52.0 44.7L48.3 44.8L44.8 45.1L41.5 45.5L38.3 45.9L35.0 46.4L31.6 46.9L27.9 47.3L23.7 47.8L19.0 48.3L14.1 48.9L9.2 49.5L4.4 50.1L0.2 50.6L-3.4 51.0L-6.1 51.3Z" fill="#222" fill-opacity="0.30" filter="url(#bl0)"/>
<path d="M-5.4 57.4L-2.7 57.1L0.9 56.6L5.2 56.1L9.9 55.6L14.8 55.0L19.8 54.5L24.4 54.0L28.6 53.5L32.4 53.1L35.9 52.6L39.2 52.2L42.3 51.7L45.4 51.4L48.6 51.2L52.0 51.1L55.7 51.2L59.9 51.5L64.5 52.0L69.3 52.7L74.4 53.4L79.6 54.3L84.9 55.2L90.1 56.0L95.2 56.8L100.1 57.5L105.0 58.2L109.8 59.0L114.7 59.7L119.6 60.4L124.4 61.1L129.4 61.8L134.3 62.5L139.5 63.2L144.8 63.9L150.2 64.5L155.6 65.2L160.8 65.8L165.8 66.3L170.4 66.8L174.5 67.2L178.0 67.6L181.0 67.9L183.7 68.1L186.0 68.2L188.3 68.4L190.5 68.5L192.9 68.6L195.5 68.8L198.7 69.0L202.2 69.3L206.0 69.6L209.8 69.8L213.4 70.1L216.7 70.3L219.4 70.5L221.5 70.6L221.6 69.0L219.5 68.9L216.8 68.7L213.5 68.5L209.9 68.2L206.1 68.0L202.3 67.7L198.8 67.5L195.6 67.3L192.9 67.1L190.6 67.0L188.3 66.8L186.1 66.7L183.7 66.6L181.1 66.4L178.1 66.1L174.6 65.8L170.5 65.4L165.9 64.9L160.9 64.4L155.7 63.9L150.3 63.3L144.9 62.6L139.6 62.0L134.5 61.4L129.5 60.7L124.6 60.1L119.7 59.4L114.8 58.6L110.0 57.9L105.1 57.2L100.3 56.5L95.3 55.8L90.3 55.0L85.0 54.2L79.8 53.3L74.6 52.5L69.5 51.7L64.6 51.0L60.0 50.5L55.8 50.2L52.0 50.1L48.5 50.2L45.3 50.4L42.2 50.8L39.1 51.2L35.8 51.6L32.3 52.1L28.5 52.6L24.3 53.0L19.6 53.5L14.7 54.1L9.8 54.6L5.1 55.2L0.8 55.7L-2.8 56.1L-5.5 56.4Z" fill="#222" fill-opacity="0.15" filter="url(#bl0)"/>
<path d="M-6.5 47.6L-3.9 47.2L-0.3 46.8L4.0 46.3L8.7 45.7L13.7 45.1L18.6 44.5L23.3 43.9L27.5 43.4L31.1 43.0L34.5 42.5L37.8 42.0L41.0 41.6L44.4 41.2L48.1 40.9L52.0 40.7L56.2 40.8L60.9 41.1L65.8 41.6L70.8 42.3L76.0 43.1L81.3 43.9L86.5 44.8L91.7 45.6L96.7 46.2L101.6 46.8L106.5 47.5L111.3 48.1L116.2 48.7L121.0 49.2L125.8 49.8L130.7 50.2L135.5 50.6L140.6 51.0L145.8 51.2L151.2 51.5L156.6 51.6L161.8 51.8L166.7 51.9L171.3 52.1L175.4 52.2L178.9 52.3L181.8 52.4L184.4 52.4L186.7 52.5L188.9 52.5L191.1 52.6L193.6 52.6L196.4 52.7L199.6 52.9L203.2 53.0L207.0 53.2L210.7 53.4L214.4 53.6L217.7 53.7L220.4 53.9L222.4 54.0L222.5 52.4L220.5 52.3L217.7 52.2L214.5 52.0L210.8 51.8L207.0 51.6L203.3 51.5L199.7 51.3L196.5 51.2L193.7 51.1L191.2 51.0L188.9 51.0L186.7 51.0L184.4 50.9L181.9 50.9L179.0 50.8L175.5 50.8L171.4 50.7L166.8 50.6L161.9 50.5L156.6 50.3L151.3 50.2L145.9 50.0L140.7 49.8L135.7 49.5L130.8 49.1L126.0 48.7L121.1 48.2L116.3 47.6L111.5 47.0L106.6 46.4L101.7 45.8L96.8 45.2L91.8 44.5L86.7 43.8L81.5 42.9L76.2 42.1L71.0 41.3L65.9 40.6L60.9 40.1L56.3 39.8L51.9 39.7L48.0 39.9L44.4 40.2L40.9 40.6L37.6 41.0L34.3 41.5L31.0 42.0L27.4 42.5L23.2 43.0L18.5 43.5L13.5 44.1L8.6 44.7L3.9 45.3L-0.4 45.8L-4.0 46.3L-6.6 46.6Z" fill="#222" fill-opacity="0.15" filter="url(#bl0)"/>
</g></g>
<g clip-path="url(#cl31)">
<rect x="751.30" y="763.50" width="214.20" height="112.20" fill="#020903" stroke="none" stroke-width="0" />
<g transform="translate(751.3,763.5)">
<path d="M34.6 59.6Q37.4 64.5 40.0 69.4M13.8 60.5Q13.4 63.6 13.1 66.7M82.2 61.3Q79.8 65.8 78.1 70.5M61.3 59.5Q61.1 67.9 57.1 76.1M145.2 68.0Q148.4 76.9 148.8 85.8M125.5 66.0Q123.9 75.7 117.7 85.0M172.1 70.1Q170.8 72.8 170.4 75.4M167.1 69.8Q168.6 72.5 169.2 75.3M141.0 67.7Q141.5 70.6 141.3 73.6M165.0 69.5Q165.8 79.3 171.1 89.2M204.3 72.9Q204.0 75.7 204.6 78.6M4.0 61.1Q4.8 66.3 3.1 71.6M198.6 72.6Q195.1 80.3 192.9 87.9M181.2 70.9Q181.8 79.5 185.5 88.0M184.7 48.3Q184.7 44.0 186.2 39.8M58.5 59.2Q57.7 66.8 55.9 74.5M76.2 60.8Q77.3 67.8 81.3 75.1M51.4 59.1Q52.8 62.2 53.6 65.3M166.0 49.3Q166.5 43.1 164.5 36.9M97.9 62.9Q101.4 72.0 100.8 80.8M109.6 64.0Q109.3 71.4 111.3 79.1M161.2 69.1Q158.7 77.5 153.2 85.8M182.1 71.2Q181.6 74.5 180.2 77.7M5.1 61.1Q6.3 67.7 5.4 74.5M40.7 43.1Q39.3 37.3 39.8 31.3M75.9 60.5Q75.4 64.9 73.1 69.2M119.3 65.4Q119.8 68.9 121.9 72.7M83.2 61.3Q82.6 67.2 84.5 73.3M81.3 61.1Q79.0 67.0 79.3 73.2M18.2 60.4Q19.7 70.0 21.1 79.7M77.1 43.9Q77.5 39.4 76.1 34.8M131.6 66.5Q129.0 72.4 127.5 78.5M137.3 67.1Q135.8 72.4 132.2 77.5M189.8 47.9Q188.4 42.1 187.6 36.2M22.0 44.2Q25.8 35.9 28.1 27.7" stroke="#103c16" stroke-opacity="0.36" stroke-width="1.0" fill="none" filter="url(#bl0)"/>
<path d="M-5.2 67.1L-2.5 67.0L1.0 66.8L5.3 66.6L9.9 66.3L14.8 66.1L19.7 65.9L24.4 65.7L28.7 65.5L32.6 65.3L36.3 65.1L39.8 65.0L43.2 64.8L46.5 64.7L49.9 64.7L53.6 64.7L57.6 64.8L61.9 65.1L66.7 65.5L71.7 65.9L77.0 66.4L82.4 67.0L87.8 67.6L93.3 68.2L98.7 68.8L104.0 69.3L109.4 69.9L115.0 70.6L120.5 71.2L126.1 71.9L131.6 72.5L136.9 73.1L141.9 73.7L146.8 74.3L151.4 74.9L155.8 75.4L160.0 75.9L164.0 76.4L167.8 76.9L171.3 77.4L174.6 77.8L177.7 78.3L180.6 78.7L183.2 79.1L185.6 79.5L187.9 79.9L190.3 80.2L192.7 80.6L195.4 80.9L198.5 81.3L202.0 81.6L205.7 81.9L209.4 82.3L213.0 82.6L216.3 82.9L219.1 83.1L221.1 83.3L222.9 38.7L220.9 38.8L218.1 38.8L214.8 38.8L211.2 38.8L207.4 38.8L203.5 38.9L199.9 38.9L196.6 39.1L193.7 39.3L191.0 39.5L188.5 39.8L186.1 40.1L183.7 40.4L181.2 40.8L178.5 41.1L175.4 41.4L171.9 41.7L168.3 42.0L164.6 42.4L160.7 42.8L156.8 43.1L152.7 43.3L148.4 43.5L144.1 43.5L139.4 43.3L134.4 43.0L129.2 42.5L123.7 42.0L118.1 41.4L112.5 40.8L106.8 40.3L101.3 39.8L95.9 39.4L90.5 39.0L84.9 38.6L79.4 38.2L73.9 37.9L68.6 37.5L63.4 37.3L58.4 37.2L53.8 37.1L49.6 37.2L45.6 37.3L41.8 37.5L38.2 37.8L34.7 38.0L31.1 38.3L27.3 38.5L23.0 38.8L18.2 39.1L13.3 39.4L8.3 39.8L3.6 40.1L-0.6 40.4L-4.2 40.7L-6.8 40.9Z" fill="#082a0a" fill-opacity="0.22" filter="url(#bl3)"/>
<path d="M-5.4 63.7L-2.7 63.6L0.8 63.4L5.0 63.2L9.7 62.9L14.6 62.6L19.5 62.4L24.2 62.2L28.5 62.0L32.4 61.8L36.1 61.6L39.6 61.4L43.0 61.3L46.4 61.1L49.9 61.1L53.6 61.1L57.7 61.2L62.1 61.5L66.9 61.8L72.0 62.3L77.3 62.8L82.7 63.3L88.2 63.9L93.6 64.5L99.0 65.0L104.3 65.6L109.8 66.2L115.4 66.8L121.0 67.4L126.5 68.1L131.9 68.7L137.2 69.3L142.2 69.8L147.0 70.3L151.6 70.8L155.9 71.2L160.1 71.6L164.1 72.0L167.8 72.4L171.4 72.7L174.7 73.1L177.8 73.4L180.7 73.8L183.3 74.1L185.7 74.4L188.0 74.7L190.4 74.9L192.8 75.2L195.5 75.5L198.7 75.8L202.2 76.1L205.9 76.4L209.7 76.6L213.3 76.9L216.5 77.1L219.3 77.3L221.3 77.5L222.7 44.5L220.6 44.5L217.9 44.5L214.6 44.4L211.0 44.4L207.1 44.4L203.3 44.4L199.7 44.4L196.5 44.5L193.6 44.6L190.9 44.8L188.5 45.0L186.1 45.2L183.7 45.5L181.2 45.7L178.4 45.9L175.3 46.1L171.8 46.3L168.2 46.6L164.5 46.8L160.6 47.1L156.6 47.3L152.5 47.4L148.2 47.5L143.8 47.4L139.1 47.2L134.1 46.8L128.8 46.3L123.3 45.8L117.7 45.2L112.1 44.6L106.5 44.1L101.0 43.6L95.6 43.2L90.1 42.7L84.6 42.3L79.1 41.9L73.6 41.5L68.3 41.2L63.2 40.9L58.3 40.8L53.8 40.7L49.6 40.8L45.7 40.9L42.0 41.1L38.4 41.3L34.9 41.5L31.3 41.8L27.5 42.0L23.2 42.3L18.4 42.6L13.5 42.9L8.5 43.2L3.8 43.5L-0.4 43.8L-4.0 44.1L-6.6 44.3Z" fill="url(#fb3)" filter="url(#bl1)"/>
<ellipse cx="184" cy="59" rx="30" ry="32" fill="url(#fan)" opacity="0.5"/>
</g></g>
<text x="540.50" y="508.50" font-size="15.0" text-anchor="start" font-weight="normal" font-style="normal" fill="#111" >WT</text>
<text x="760.50" y="508.50" font-size="15.0" text-anchor="start" font-weight="normal" font-style="normal" fill="#f4f4f4" >WT</text>
<text x="536.00" y="552.50" font-size="15.0" text-anchor="start" font-weight="normal" font-style="italic" fill="#111" >eif4e1-4</text>
<text x="756.50" y="552.50" font-size="15.0" text-anchor="start" font-weight="normal" font-style="italic" fill="#f4f4f4" >eif4e1-4</text>
<text x="543.50" y="746.00" font-size="15.0" text-anchor="start" font-weight="normal" font-style="italic" fill="#111" >chl1-13</text>
<text x="760.50" y="746.00" font-size="15.0" text-anchor="start" font-weight="normal" font-style="italic" fill="#f4f4f4" >chl1-13</text>
<text x="541.50" y="863.50" font-size="15.0" text-anchor="start" font-weight="normal" font-style="italic" fill="#111" >eif4e1-4 chl1-13</text>
<text x="761.00" y="865.50" font-size="15.0" text-anchor="start" font-weight="normal" font-style="italic" fill="#f4f4f4" >eif4e1-4 chl1-13</text>
<rect x="212.75" y="965.78" width="30.80" height="83.52" fill="#D9D9D9" stroke="#000" stroke-width="1.6" />
<rect x="271.35" y="1009.25" width="30.80" height="40.05" fill="#FF9A9E" stroke="#000" stroke-width="1.6" />
<rect x="330.15" y="1021.15" width="30.80" height="28.15" fill="#5DBE8A" stroke="#000" stroke-width="1.6" />
<rect x="388.55" y="1022.98" width="30.80" height="26.32" fill="#FBC5A8" stroke="#000" stroke-width="1.6" />
<circle cx="225.3" cy="923.9" r="1.25" fill="none" stroke="#111" stroke-width="0.8"/>
<circle cx="229.9" cy="925.2" r="1.25" fill="none" stroke="#111" stroke-width="0.8"/>
<circle cx="228.1" cy="936.2" r="1.25" fill="none" stroke="#111" stroke-width="0.8"/>
<circle cx="225.3" cy="944.7" r="1.25" fill="none" stroke="#111" stroke-width="0.8"/>
<circle cx="229.9" cy="948.7" r="1.25" fill="none" stroke="#111" stroke-width="0.8"/>
<circle cx="226.2" cy="954.6" r="1.25" fill="none" stroke="#111" stroke-width="0.8"/>
<circle cx="229.9" cy="957.2" r="1.25" fill="none" stroke="#111" stroke-width="0.8"/>
<circle cx="223.5" cy="960.1" r="1.25" fill="none" stroke="#111" stroke-width="0.8"/>
<circle cx="232.7" cy="960.5" r="1.25" fill="none" stroke="#111" stroke-width="0.8"/>
<circle cx="221.7" cy="962.7" r="1.25" fill="none" stroke="#111" stroke-width="0.8"/>
<circle cx="227.2" cy="962.3" r="1.25" fill="none" stroke="#111" stroke-width="0.8"/>
<circle cx="231.7" cy="963.4" r="1.25" fill="none" stroke="#111" stroke-width="0.8"/>
<circle cx="220.7" cy="965.6" r="1.25" fill="none" stroke="#111" stroke-width="0.8"/>
<circle cx="226.2" cy="965.2" r="1.25" fill="none" stroke="#111" stroke-width="0.8"/>
<circle cx="233.6" cy="965.6" r="1.25" fill="none" stroke="#111" stroke-width="0.8"/>
<circle cx="221.7" cy="968.9" r="1.25" fill="none" stroke="#111" stroke-width="0.8"/>
<circle cx="226.2" cy="969.3" r="1.25" fill="none" stroke="#111" stroke-width="0.8"/>
<circle cx="234.5" cy="969.3" r="1.25" fill="none" stroke="#111" stroke-width="0.8"/>
<circle cx="229.9" cy="972.0" r="1.25" fill="none" stroke="#111" stroke-width="0.8"/>
<circle cx="218.9" cy="975.5" r="1.25" fill="none" stroke="#111" stroke-width="0.8"/>
<circle cx="223.5" cy="974.8" r="1.25" fill="none" stroke="#111" stroke-width="0.8"/>
<circle cx="228.1" cy="975.5" r="1.25" fill="none" stroke="#111" stroke-width="0.8"/>
<circle cx="232.7" cy="975.1" r="1.25" fill="none" stroke="#111" stroke-width="0.8"/>
<circle cx="237.2" cy="975.9" r="1.25" fill="none" stroke="#111" stroke-width="0.8"/>
<circle cx="240.9" cy="976.6" r="1.25" fill="none" stroke="#111" stroke-width="0.8"/>
<circle cx="216.1" cy="978.1" r="1.25" fill="none" stroke="#111" stroke-width="0.8"/>
<circle cx="239.1" cy="977.7" r="1.25" fill="none" stroke="#111" stroke-width="0.8"/>
<circle cx="213.4" cy="980.3" r="1.25" fill="none" stroke="#111" stroke-width="0.8"/>
<circle cx="220.7" cy="982.8" r="1.25" fill="none" stroke="#111" stroke-width="0.8"/>
<circle cx="225.3" cy="983.2" r="1.25" fill="none" stroke="#111" stroke-width="0.8"/>
<circle cx="229.9" cy="983.6" r="1.25" fill="none" stroke="#111" stroke-width="0.8"/>
<circle cx="234.5" cy="985.8" r="1.25" fill="none" stroke="#111" stroke-width="0.8"/>
<circle cx="290.8" cy="1010.3" r="1.25" fill="none" stroke="#111" stroke-width="0.8"/>
<circle cx="276.4" cy="1007.0" r="1.25" fill="none" stroke="#111" stroke-width="0.8"/>
<circle cx="277.8" cy="1013.1" r="1.25" fill="none" stroke="#111" stroke-width="0.8"/>
<circle cx="287.0" cy="1010.1" r="1.25" fill="none" stroke="#111" stroke-width="0.8"/>
<circle cx="278.7" cy="1004.8" r="1.25" fill="none" stroke="#111" stroke-width="0.8"/>
<circle cx="275.8" cy="1008.2" r="1.25" fill="none" stroke="#111" stroke-width="0.8"/>
<circle cx="281.8" cy="1016.1" r="1.25" fill="none" stroke="#111" stroke-width="0.8"/>
<circle cx="281.0" cy="1005.6" r="1.25" fill="none" stroke="#111" stroke-width="0.8"/>
<circle cx="287.7" cy="1016.2" r="1.25" fill="none" stroke="#111" stroke-width="0.8"/>
<circle cx="285.5" cy="1016.4" r="1.25" fill="none" stroke="#111" stroke-width="0.8"/>
<circle cx="296.1" cy="1007.9" r="1.25" fill="none" stroke="#111" stroke-width="0.8"/>
<circle cx="280.7" cy="1009.4" r="1.25" fill="none" stroke="#111" stroke-width="0.8"/>
<circle cx="281.7" cy="1007.9" r="1.25" fill="none" stroke="#111" stroke-width="0.8"/>
<circle cx="294.7" cy="1007.5" r="1.25" fill="none" stroke="#111" stroke-width="0.8"/>
<circle cx="290.0" cy="1006.8" r="1.25" fill="none" stroke="#111" stroke-width="0.8"/>
<circle cx="284.6" cy="1004.1" r="1.25" fill="none" stroke="#111" stroke-width="0.8"/>
<circle cx="275.3" cy="1010.7" r="1.25" fill="none" stroke="#111" stroke-width="0.8"/>
<circle cx="278.4" cy="1009.7" r="1.25" fill="none" stroke="#111" stroke-width="0.8"/>
<circle cx="282.1" cy="1011.1" r="1.25" fill="none" stroke="#111" stroke-width="0.8"/>
<circle cx="288.5" cy="1013.2" r="1.25" fill="none" stroke="#111" stroke-width="0.8"/>
<circle cx="293.1" cy="1012.6" r="1.25" fill="none" stroke="#111" stroke-width="0.8"/>
<circle cx="292.1" cy="1008.2" r="1.25" fill="none" stroke="#111" stroke-width="0.8"/>
<circle cx="287.5" cy="1009.0" r="1.25" fill="none" stroke="#111" stroke-width="0.8"/>
<circle cx="292.8" cy="1003.6" r="1.25" fill="none" stroke="#111" stroke-width="0.8"/>
<circle cx="300.3" cy="1009.7" r="1.25" fill="none" stroke="#111" stroke-width="0.8"/>
<circle cx="278.6" cy="1012.6" r="1.25" fill="none" stroke="#111" stroke-width="0.8"/>
<circle cx="281.5" cy="1015.3" r="1.25" fill="none" stroke="#111" stroke-width="0.8"/>
<circle cx="286.5" cy="1005.7" r="1.25" fill="none" stroke="#111" stroke-width="0.8"/>
<circle cx="290.6" cy="1003.0" r="1.25" fill="none" stroke="#111" stroke-width="0.8"/>
<circle cx="288.6" cy="1007.7" r="1.25" fill="none" stroke="#111" stroke-width="0.8"/>
<circle cx="291.3" cy="1006.6" r="1.25" fill="none" stroke="#111" stroke-width="0.8"/>
<circle cx="289.0" cy="1011.8" r="1.25" fill="none" stroke="#111" stroke-width="0.8"/>
<circle cx="293.5" cy="1013.2" r="1.25" fill="none" stroke="#111" stroke-width="0.8"/>
<circle cx="297.5" cy="1011.4" r="1.25" fill="none" stroke="#111" stroke-width="0.8"/>
<circle cx="280.1" cy="1015.3" r="1.25" fill="none" stroke="#111" stroke-width="0.8"/>
<circle cx="292.2" cy="1008.2" r="1.25" fill="none" stroke="#111" stroke-width="0.8"/>
<circle cx="290.3" cy="1017.1" r="1.25" fill="none" stroke="#111" stroke-width="0.8"/>
<circle cx="284.9" cy="1019.6" r="1.25" fill="none" stroke="#111" stroke-width="0.8"/>
<circle cx="277.9" cy="1013.9" r="1.25" fill="none" stroke="#111" stroke-width="0.8"/>
<circle cx="286.0" cy="1005.0" r="1.25" fill="none" stroke="#111" stroke-width="0.8"/>
<circle cx="333.7" cy="1020.2" r="1.25" fill="none" stroke="#111" stroke-width="0.8"/>
<circle cx="352.2" cy="1019.5" r="1.25" fill="none" stroke="#111" stroke-width="0.8"/>
<circle cx="342.9" cy="1019.2" r="1.25" fill="none" stroke="#111" stroke-width="0.8"/>
<circle cx="354.4" cy="1019.1" r="1.25" fill="none" stroke="#111" stroke-width="0.8"/>
<circle cx="346.5" cy="1017.6" r="1.25" fill="none" stroke="#111" stroke-width="0.8"/>
<circle cx="354.7" cy="1019.2" r="1.25" fill="none" stroke="#111" stroke-width="0.8"/>
<circle cx="341.0" cy="1018.0" r="1.25" fill="none" stroke="#111" stroke-width="0.8"/>
<circle cx="344.5" cy="1027.1" r="1.25" fill="none" stroke="#111" stroke-width="0.8"/>
<circle cx="353.6" cy="1025.5" r="1.25" fill="none" stroke="#111" stroke-width="0.8"/>
<circle cx="341.0" cy="1015.2" r="1.25" fill="none" stroke="#111" stroke-width="0.8"/>
<circle cx="338.6" cy="1019.9" r="1.25" fill="none" stroke="#111" stroke-width="0.8"/>
<circle cx="345.2" cy="1018.7" r="1.25" fill="none" stroke="#111" stroke-width="0.8"/>
<circle cx="334.0" cy="1023.3" r="1.25" fill="none" stroke="#111" stroke-width="0.8"/>
<circle cx="343.5" cy="1022.5" r="1.25" fill="none" stroke="#111" stroke-width="0.8"/>
<circle cx="355.2" cy="1024.1" r="1.25" fill="none" stroke="#111" stroke-width="0.8"/>
<circle cx="349.3" cy="1017.6" r="1.25" fill="none" stroke="#111" stroke-width="0.8"/>
<circle cx="348.5" cy="1025.7" r="1.25" fill="none" stroke="#111" stroke-width="0.8"/>
<circle cx="333.0" cy="1021.6" r="1.25" fill="none" stroke="#111" stroke-width="0.8"/>
<circle cx="351.2" cy="1015.9" r="1.25" fill="none" stroke="#111" stroke-width="0.8"/>
<circle cx="351.5" cy="1024.5" r="1.25" fill="none" stroke="#111" stroke-width="0.8"/>
<circle cx="336.7" cy="1023.7" r="1.25" fill="none" stroke="#111" stroke-width="0.8"/>
<circle cx="348.6" cy="1018.8" r="1.25" fill="none" stroke="#111" stroke-width="0.8"/>
<circle cx="338.0" cy="1019.9" r="1.25" fill="none" stroke="#111" stroke-width="0.8"/>
<circle cx="336.1" cy="1020.6" r="1.25" fill="none" stroke="#111" stroke-width="0.8"/>
<circle cx="331.7" cy="1021.7" r="1.25" fill="none" stroke="#111" stroke-width="0.8"/>
<circle cx="336.3" cy="1020.1" r="1.25" fill="none" stroke="#111" stroke-width="0.8"/>
<circle cx="335.3" cy="1018.3" r="1.25" fill="none" stroke="#111" stroke-width="0.8"/>
<circle cx="354.4" cy="1019.1" r="1.25" fill="none" stroke="#111" stroke-width="0.8"/>
<circle cx="339.2" cy="1022.6" r="1.25" fill="none" stroke="#111" stroke-width="0.8"/>
<circle cx="341.6" cy="1022.4" r="1.25" fill="none" stroke="#111" stroke-width="0.8"/>
<circle cx="354.7" cy="1022.3" r="1.25" fill="none" stroke="#111" stroke-width="0.8"/>
<circle cx="358.1" cy="1019.7" r="1.25" fill="none" stroke="#111" stroke-width="0.8"/>
<circle cx="337.6" cy="1024.9" r="1.25" fill="none" stroke="#111" stroke-width="0.8"/>
<circle cx="334.9" cy="1020.2" r="1.25" fill="none" stroke="#111" stroke-width="0.8"/>
<circle cx="353.9" cy="1022.6" r="1.25" fill="none" stroke="#111" stroke-width="0.8"/>
<circle cx="337.9" cy="1018.7" r="1.25" fill="none" stroke="#111" stroke-width="0.8"/>
<circle cx="345.8" cy="1012.1" r="1.25" fill="none" stroke="#111" stroke-width="0.8"/>
<circle cx="336.5" cy="1019.8" r="1.25" fill="none" stroke="#111" stroke-width="0.8"/>
<circle cx="345.9" cy="1024.6" r="1.25" fill="none" stroke="#111" stroke-width="0.8"/>
<circle cx="341.8" cy="1026.6" r="1.25" fill="none" stroke="#111" stroke-width="0.8"/>
<circle cx="345.8" cy="1028.7" r="1.25" fill="none" stroke="#111" stroke-width="0.8"/>
<circle cx="349.4" cy="1030.8" r="1.25" fill="none" stroke="#111" stroke-width="0.8"/>
<circle cx="348.5" cy="1032.8" r="1.25" fill="none" stroke="#111" stroke-width="0.8"/>
<circle cx="347.1" cy="1034.9" r="1.25" fill="none" stroke="#111" stroke-width="0.8"/>
<circle cx="394.4" cy="1023.1" r="1.25" fill="none" stroke="#111" stroke-width="0.8"/>
<circle cx="409.3" cy="1020.4" r="1.25" fill="none" stroke="#111" stroke-width="0.8"/>
<circle cx="401.2" cy="1026.5" r="1.25" fill="none" stroke="#111" stroke-width="0.8"/>
<circle cx="396.6" cy="1023.7" r="1.25" fill="none" stroke="#111" stroke-width="0.8"/>
<circle cx="410.4" cy="1020.1" r="1.25" fill="none" stroke="#111" stroke-width="0.8"/>
<circle cx="406.6" cy="1028.5" r="1.25" fill="none" stroke="#111" stroke-width="0.8"/>
<circle cx="397.8" cy="1021.2" r="1.25" fill="none" stroke="#111" stroke-width="0.8"/>
<circle cx="404.3" cy="1026.1" r="1.25" fill="none" stroke="#111" stroke-width="0.8"/>
<circle cx="390.7" cy="1023.3" r="1.25" fill="none" stroke="#111" stroke-width="0.8"/>
<circle cx="397.9" cy="1022.5" r="1.25" fill="none" stroke="#111" stroke-width="0.8"/>
<circle cx="417.0" cy="1023.2" r="1.25" fill="none" stroke="#111" stroke-width="0.8"/>
<circle cx="403.2" cy="1018.9" r="1.25" fill="none" stroke="#111" stroke-width="0.8"/>
<circle cx="407.9" cy="1015.6" r="1.25" fill="none" stroke="#111" stroke-width="0.8"/>
<circle cx="401.2" cy="1025.3" r="1.25" fill="none" stroke="#111" stroke-width="0.8"/>
<circle cx="395.5" cy="1022.6" r="1.25" fill="none" stroke="#111" stroke-width="0.8"/>
<circle cx="397.4" cy="1021.1" r="1.25" fill="none" stroke="#111" stroke-width="0.8"/>
<circle cx="409.9" cy="1026.1" r="1.25" fill="none" stroke="#111" stroke-width="0.8"/>
<circle cx="403.6" cy="1026.1" r="1.25" fill="none" stroke="#111" stroke-width="0.8"/>
<circle cx="395.1" cy="1025.1" r="1.25" fill="none" stroke="#111" stroke-width="0.8"/>
<circle cx="406.8" cy="1026.0" r="1.25" fill="none" stroke="#111" stroke-width="0.8"/>
<circle cx="407.5" cy="1019.0" r="1.25" fill="none" stroke="#111" stroke-width="0.8"/>
<circle cx="403.5" cy="1024.9" r="1.25" fill="none" stroke="#111" stroke-width="0.8"/>
<circle cx="400.3" cy="1020.9" r="1.25" fill="none" stroke="#111" stroke-width="0.8"/>
<circle cx="407.9" cy="1018.7" r="1.25" fill="none" stroke="#111" stroke-width="0.8"/>
<circle cx="402.0" cy="1020.3" r="1.25" fill="none" stroke="#111" stroke-width="0.8"/>
<circle cx="416.4" cy="1023.4" r="1.25" fill="none" stroke="#111" stroke-width="0.8"/>
<circle cx="393.3" cy="1023.2" r="1.25" fill="none" stroke="#111" stroke-width="0.8"/>
<circle cx="395.4" cy="1024.2" r="1.25" fill="none" stroke="#111" stroke-width="0.8"/>
<circle cx="399.0" cy="1019.0" r="1.25" fill="none" stroke="#111" stroke-width="0.8"/>
<circle cx="410.9" cy="1025.1" r="1.25" fill="none" stroke="#111" stroke-width="0.8"/>
<circle cx="401.8" cy="1019.1" r="1.25" fill="none" stroke="#111" stroke-width="0.8"/>
<circle cx="405.3" cy="1023.4" r="1.25" fill="none" stroke="#111" stroke-width="0.8"/>
<circle cx="417.2" cy="1022.7" r="1.25" fill="none" stroke="#111" stroke-width="0.8"/>
<circle cx="408.1" cy="1022.7" r="1.25" fill="none" stroke="#111" stroke-width="0.8"/>
<circle cx="403.2" cy="1027.7" r="1.25" fill="none" stroke="#111" stroke-width="0.8"/>
<circle cx="413.7" cy="1023.8" r="1.25" fill="none" stroke="#111" stroke-width="0.8"/>
<circle cx="406.6" cy="1026.4" r="1.25" fill="none" stroke="#111" stroke-width="0.8"/>
<circle cx="401.6" cy="1028.5" r="1.25" fill="none" stroke="#111" stroke-width="0.8"/>
<circle cx="402.0" cy="1030.5" r="1.25" fill="none" stroke="#111" stroke-width="0.8"/>
<line x1="228.15" y1="963.03" x2="228.15" y2="968.52" stroke="#000" stroke-width="1.4" />
<line x1="220.15" y1="963.03" x2="236.15" y2="963.03" stroke="#000" stroke-width="1.4" />
<line x1="220.15" y1="968.52" x2="236.15" y2="968.52" stroke="#000" stroke-width="1.4" />
<line x1="212.00" y1="965.78" x2="244.30" y2="965.78" stroke="#000" stroke-width="1.6" />
<line x1="286.75" y1="1008.11" x2="286.75" y2="1010.40" stroke="#000" stroke-width="1.4" />
<line x1="278.75" y1="1008.11" x2="294.75" y2="1008.11" stroke="#000" stroke-width="1.4" />
<line x1="278.75" y1="1010.40" x2="294.75" y2="1010.40" stroke="#000" stroke-width="1.4" />
<line x1="270.60" y1="1009.25" x2="302.90" y2="1009.25" stroke="#000" stroke-width="1.6" />
<line x1="345.55" y1="1020.24" x2="345.55" y2="1022.07" stroke="#000" stroke-width="1.4" />
<line x1="337.55" y1="1020.24" x2="353.55" y2="1020.24" stroke="#000" stroke-width="1.4" />
<line x1="337.55" y1="1022.07" x2="353.55" y2="1022.07" stroke="#000" stroke-width="1.4" />
<line x1="329.40" y1="1021.15" x2="361.70" y2="1021.15" stroke="#000" stroke-width="1.6" />
<line x1="403.95" y1="1022.18" x2="403.95" y2="1023.79" stroke="#000" stroke-width="1.4" />
<line x1="395.95" y1="1022.18" x2="411.95" y2="1022.18" stroke="#000" stroke-width="1.4" />
<line x1="395.95" y1="1023.79" x2="411.95" y2="1023.79" stroke="#000" stroke-width="1.4" />
<line x1="387.80" y1="1022.98" x2="420.10" y2="1022.98" stroke="#000" stroke-width="1.6" />
<text x="228.00" y="916.70" font-size="16.5" text-anchor="middle" font-weight="normal" font-style="normal" fill="#000" >a</text>
<text x="286.50" y="990.20" font-size="16.5" text-anchor="middle" font-weight="normal" font-style="normal" fill="#000" >b</text>
<text x="344.40" y="1007.80" font-size="16.5" text-anchor="middle" font-weight="normal" font-style="normal" fill="#000" >c</text>
<text x="403.60" y="1008.80" font-size="16.5" text-anchor="middle" font-weight="normal" font-style="normal" fill="#000" >c</text>
<line x1="194.80" y1="911.20" x2="194.80" y2="1050.10" stroke="#000" stroke-width="1.6" />
<line x1="194.00" y1="1049.30" x2="430.00" y2="1049.30" stroke="#000" stroke-width="1.6" />
<line x1="189.30" y1="1049.30" x2="194.80" y2="1049.30" stroke="#000" stroke-width="1.6" />
<text x="187.80" y="1054.30" font-size="14.4" text-anchor="end" font-weight="normal" font-style="normal" fill="#111" >0</text>
<line x1="189.30" y1="1003.53" x2="194.80" y2="1003.53" stroke="#000" stroke-width="1.6" />
<text x="187.80" y="1008.53" font-size="14.4" text-anchor="end" font-weight="normal" font-style="normal" fill="#111" >20</text>
<line x1="189.30" y1="957.77" x2="194.80" y2="957.77" stroke="#000" stroke-width="1.6" />
<text x="187.80" y="962.77" font-size="14.4" text-anchor="end" font-weight="normal" font-style="normal" fill="#111" >40</text>
<line x1="189.30" y1="912.00" x2="194.80" y2="912.00" stroke="#000" stroke-width="1.6" />
<text x="187.80" y="917.00" font-size="14.4" text-anchor="end" font-weight="normal" font-style="normal" fill="#111" >60</text>
<line x1="228.15" y1="1049.30" x2="228.15" y2="1054.30" stroke="#000" stroke-width="1.6" />
<line x1="286.75" y1="1049.30" x2="286.75" y2="1054.30" stroke="#000" stroke-width="1.6" />
<line x1="345.55" y1="1049.30" x2="345.55" y2="1054.30" stroke="#000" stroke-width="1.6" />
<line x1="403.95" y1="1049.30" x2="403.95" y2="1054.30" stroke="#000" stroke-width="1.6" />
<text x="228.30" y="1068.20" font-size="15.4" text-anchor="middle" font-weight="normal" font-style="normal" fill="#111" >WT</text>
<text x="286.70" y="1068.20" font-size="15.0" text-anchor="middle" font-weight="normal" font-style="italic" fill="#111" >eif4e1-4</text>
<text x="345.60" y="1068.20" font-size="15.0" text-anchor="middle" font-weight="normal" font-style="italic" fill="#111" >chl1-13</text>
<text x="404.30" y="1068.20" font-size="15.0" text-anchor="middle" font-weight="normal" font-style="italic" fill="#111" >eif4e1-4</text>
<text x="404.30" y="1085.00" font-size="15.0" text-anchor="middle" font-weight="normal" font-style="italic" fill="#111" >chl1-13</text>
<text transform="translate(165.5,978.5) rotate(-90)" text-anchor="middle" font-size="15.6" fill="#111">Fluorescence intensity</text>
<rect x="504.90" y="1062.56" width="12.60" height="5.84" fill="#D9D9D9" stroke="#000" stroke-width="1.6" />
<line x1="511.20" y1="1061.64" x2="511.20" y2="1062.56" stroke="#000" stroke-width="1.3" />
<line x1="508.00" y1="1061.64" x2="514.40" y2="1061.64" stroke="#000" stroke-width="1.3" />
<circle cx="507.0" cy="1060.5" r="1.45" fill="none" stroke="#111" stroke-width="0.85"/>
<circle cx="511.7" cy="1062.3" r="1.45" fill="none" stroke="#111" stroke-width="0.85"/>
<circle cx="515.2" cy="1064.2" r="1.45" fill="none" stroke="#111" stroke-width="0.85"/>
<rect x="521.10" y="1063.18" width="12.60" height="5.22" fill="#FF9A9E" stroke="#000" stroke-width="1.6" />
<line x1="527.40" y1="1062.56" x2="527.40" y2="1063.18" stroke="#000" stroke-width="1.3" />
<line x1="524.20" y1="1062.56" x2="530.60" y2="1062.56" stroke="#000" stroke-width="1.3" />
<circle cx="523.2" cy="1061.5" r="1.45" fill="none" stroke="#111" stroke-width="0.85"/>
<circle cx="527.9" cy="1062.9" r="1.45" fill="none" stroke="#111" stroke-width="0.85"/>
<circle cx="531.4" cy="1064.5" r="1.45" fill="none" stroke="#111" stroke-width="0.85"/>
<rect x="537.30" y="1063.18" width="12.60" height="5.22" fill="#5DBE8A" stroke="#000" stroke-width="1.6" />
<line x1="543.60" y1="1062.56" x2="543.60" y2="1063.18" stroke="#000" stroke-width="1.3" />
<line x1="540.40" y1="1062.56" x2="546.80" y2="1062.56" stroke="#000" stroke-width="1.3" />
<circle cx="539.4" cy="1061.5" r="1.45" fill="none" stroke="#111" stroke-width="0.85"/>
<circle cx="544.1" cy="1062.9" r="1.45" fill="none" stroke="#111" stroke-width="0.85"/>
<circle cx="547.6" cy="1064.5" r="1.45" fill="none" stroke="#111" stroke-width="0.85"/>
<rect x="553.50" y="1062.87" width="12.60" height="5.53" fill="#FBC5A8" stroke="#000" stroke-width="1.6" />
<line x1="559.80" y1="1062.26" x2="559.80" y2="1062.87" stroke="#000" stroke-width="1.3" />
<line x1="556.60" y1="1062.26" x2="563.00" y2="1062.26" stroke="#000" stroke-width="1.3" />
<circle cx="555.6" cy="1061.2" r="1.45" fill="none" stroke="#111" stroke-width="0.85"/>
<circle cx="560.3" cy="1062.6" r="1.45" fill="none" stroke="#111" stroke-width="0.85"/>
<circle cx="563.8" cy="1064.2" r="1.45" fill="none" stroke="#111" stroke-width="0.85"/>
<rect x="584.20" y="936.92" width="12.60" height="131.48" fill="#D9D9D9" stroke="#000" stroke-width="1.6" />
<line x1="590.50" y1="932.00" x2="590.50" y2="936.92" stroke="#000" stroke-width="1.3" />
<line x1="587.30" y1="932.00" x2="593.70" y2="932.00" stroke="#000" stroke-width="1.3" />
<circle cx="586.3" cy="930.1" r="1.45" fill="none" stroke="#111" stroke-width="0.85"/>
<circle cx="591.0" cy="936.6" r="1.45" fill="none" stroke="#111" stroke-width="0.85"/>
<circle cx="594.5" cy="942.9" r="1.45" fill="none" stroke="#111" stroke-width="0.85"/>
<rect x="600.70" y="1007.57" width="12.60" height="60.83" fill="#FF9A9E" stroke="#000" stroke-width="1.6" />
<line x1="607.00" y1="1006.65" x2="607.00" y2="1007.57" stroke="#000" stroke-width="1.3" />
<line x1="603.80" y1="1006.65" x2="610.20" y2="1006.65" stroke="#000" stroke-width="1.3" />
<circle cx="602.8" cy="1005.5" r="1.45" fill="none" stroke="#111" stroke-width="0.85"/>
<circle cx="607.5" cy="1007.3" r="1.45" fill="none" stroke="#111" stroke-width="0.85"/>
<circle cx="611.0" cy="1009.2" r="1.45" fill="none" stroke="#111" stroke-width="0.85"/>
<rect x="616.90" y="1050.28" width="12.60" height="18.12" fill="#5DBE8A" stroke="#000" stroke-width="1.6" />
<line x1="623.20" y1="1046.90" x2="623.20" y2="1050.28" stroke="#000" stroke-width="1.3" />
<line x1="620.00" y1="1046.90" x2="626.40" y2="1046.90" stroke="#000" stroke-width="1.3" />
<circle cx="619.0" cy="1045.3" r="1.45" fill="none" stroke="#111" stroke-width="0.85"/>
<circle cx="623.7" cy="1050.0" r="1.45" fill="none" stroke="#111" stroke-width="0.85"/>
<circle cx="627.2" cy="1054.6" r="1.45" fill="none" stroke="#111" stroke-width="0.85"/>
<rect x="633.10" y="1053.35" width="12.60" height="15.05" fill="#FBC5A8" stroke="#000" stroke-width="1.6" />
<line x1="639.40" y1="1052.12" x2="639.40" y2="1053.35" stroke="#000" stroke-width="1.3" />
<line x1="636.20" y1="1052.12" x2="642.60" y2="1052.12" stroke="#000" stroke-width="1.3" />
<circle cx="635.2" cy="1051.0" r="1.45" fill="none" stroke="#111" stroke-width="0.85"/>
<circle cx="639.9" cy="1053.0" r="1.45" fill="none" stroke="#111" stroke-width="0.85"/>
<circle cx="643.4" cy="1055.3" r="1.45" fill="none" stroke="#111" stroke-width="0.85"/>
<rect x="663.70" y="1062.56" width="12.60" height="5.84" fill="#D9D9D9" stroke="#000" stroke-width="1.6" />
<line x1="670.00" y1="1061.83" x2="670.00" y2="1062.56" stroke="#000" stroke-width="1.3" />
<line x1="666.80" y1="1061.83" x2="673.20" y2="1061.83" stroke="#000" stroke-width="1.3" />
<circle cx="665.8" cy="1060.8" r="1.45" fill="none" stroke="#111" stroke-width="0.85"/>
<circle cx="670.5" cy="1062.3" r="1.45" fill="none" stroke="#111" stroke-width="0.85"/>
<circle cx="674.0" cy="1064.0" r="1.45" fill="none" stroke="#111" stroke-width="0.85"/>
<rect x="679.90" y="1061.03" width="12.60" height="7.37" fill="#FF9A9E" stroke="#000" stroke-width="1.6" />
<line x1="686.20" y1="1060.54" x2="686.20" y2="1061.03" stroke="#000" stroke-width="1.3" />
<line x1="683.00" y1="1060.54" x2="689.40" y2="1060.54" stroke="#000" stroke-width="1.3" />
<circle cx="682.0" cy="1059.5" r="1.45" fill="none" stroke="#111" stroke-width="0.85"/>
<circle cx="686.7" cy="1060.7" r="1.45" fill="none" stroke="#111" stroke-width="0.85"/>
<circle cx="690.2" cy="1062.2" r="1.45" fill="none" stroke="#111" stroke-width="0.85"/>
<rect x="696.10" y="1061.33" width="12.60" height="7.07" fill="#5DBE8A" stroke="#000" stroke-width="1.6" />
<line x1="702.40" y1="1060.97" x2="702.40" y2="1061.33" stroke="#000" stroke-width="1.3" />
<line x1="699.20" y1="1060.97" x2="705.60" y2="1060.97" stroke="#000" stroke-width="1.3" />
<circle cx="698.2" cy="1060.0" r="1.45" fill="none" stroke="#111" stroke-width="0.85"/>
<circle cx="702.9" cy="1061.0" r="1.45" fill="none" stroke="#111" stroke-width="0.85"/>
<circle cx="706.4" cy="1062.4" r="1.45" fill="none" stroke="#111" stroke-width="0.85"/>
<rect x="712.30" y="1063.48" width="12.60" height="4.92" fill="#FBC5A8" stroke="#000" stroke-width="1.6" />
<line x1="718.60" y1="1062.87" x2="718.60" y2="1063.48" stroke="#000" stroke-width="1.3" />
<line x1="715.40" y1="1062.87" x2="721.80" y2="1062.87" stroke="#000" stroke-width="1.3" />
<circle cx="714.4" cy="1061.8" r="1.45" fill="none" stroke="#111" stroke-width="0.85"/>
<circle cx="719.1" cy="1063.2" r="1.45" fill="none" stroke="#111" stroke-width="0.85"/>
<circle cx="722.6" cy="1064.8" r="1.45" fill="none" stroke="#111" stroke-width="0.85"/>
<rect x="744.00" y="1029.69" width="12.60" height="38.71" fill="#D9D9D9" stroke="#000" stroke-width="1.6" />
<line x1="750.30" y1="1027.24" x2="750.30" y2="1029.69" stroke="#000" stroke-width="1.3" />
<line x1="747.10" y1="1027.24" x2="753.50" y2="1027.24" stroke="#000" stroke-width="1.3" />
<circle cx="746.1" cy="1025.8" r="1.45" fill="none" stroke="#111" stroke-width="0.85"/>
<circle cx="750.8" cy="1029.4" r="1.45" fill="none" stroke="#111" stroke-width="0.85"/>
<circle cx="754.3" cy="1033.0" r="1.45" fill="none" stroke="#111" stroke-width="0.85"/>
<rect x="760.40" y="1047.20" width="12.60" height="21.20" fill="#FF9A9E" stroke="#000" stroke-width="1.6" />
<line x1="766.70" y1="1044.44" x2="766.70" y2="1047.20" stroke="#000" stroke-width="1.3" />
<line x1="763.50" y1="1044.44" x2="769.90" y2="1044.44" stroke="#000" stroke-width="1.3" />
<circle cx="762.5" cy="1043.0" r="1.45" fill="none" stroke="#111" stroke-width="0.85"/>
<circle cx="767.2" cy="1046.9" r="1.45" fill="none" stroke="#111" stroke-width="0.85"/>
<circle cx="770.7" cy="1050.9" r="1.45" fill="none" stroke="#111" stroke-width="0.85"/>
<rect x="776.40" y="1054.27" width="12.60" height="14.13" fill="#5DBE8A" stroke="#000" stroke-width="1.6" />
<line x1="782.70" y1="1053.35" x2="782.70" y2="1054.27" stroke="#000" stroke-width="1.3" />
<line x1="779.50" y1="1053.35" x2="785.90" y2="1053.35" stroke="#000" stroke-width="1.3" />
<circle cx="778.5" cy="1052.2" r="1.45" fill="none" stroke="#111" stroke-width="0.85"/>
<circle cx="783.2" cy="1054.0" r="1.45" fill="none" stroke="#111" stroke-width="0.85"/>
<circle cx="786.7" cy="1055.9" r="1.45" fill="none" stroke="#111" stroke-width="0.85"/>
<rect x="792.60" y="1056.42" width="12.60" height="11.98" fill="#FBC5A8" stroke="#000" stroke-width="1.6" />
<line x1="798.90" y1="1055.68" x2="798.90" y2="1056.42" stroke="#000" stroke-width="1.3" />
<line x1="795.70" y1="1055.68" x2="802.10" y2="1055.68" stroke="#000" stroke-width="1.3" />
<circle cx="794.7" cy="1054.6" r="1.45" fill="none" stroke="#111" stroke-width="0.85"/>
<circle cx="799.4" cy="1056.1" r="1.45" fill="none" stroke="#111" stroke-width="0.85"/>
<circle cx="802.9" cy="1057.8" r="1.45" fill="none" stroke="#111" stroke-width="0.85"/>
<rect x="823.20" y="1063.18" width="12.60" height="5.22" fill="#D9D9D9" stroke="#000" stroke-width="1.6" />
<line x1="829.50" y1="1062.69" x2="829.50" y2="1063.18" stroke="#000" stroke-width="1.3" />
<line x1="826.30" y1="1062.69" x2="832.70" y2="1062.69" stroke="#000" stroke-width="1.3" />
<circle cx="825.3" cy="1061.7" r="1.45" fill="none" stroke="#111" stroke-width="0.85"/>
<circle cx="830.0" cy="1062.9" r="1.45" fill="none" stroke="#111" stroke-width="0.85"/>
<circle cx="833.5" cy="1064.3" r="1.45" fill="none" stroke="#111" stroke-width="0.85"/>
<rect x="839.70" y="1062.26" width="12.60" height="6.14" fill="#FF9A9E" stroke="#000" stroke-width="1.6" />
<line x1="846.00" y1="1061.33" x2="846.00" y2="1062.26" stroke="#000" stroke-width="1.3" />
<line x1="842.80" y1="1061.33" x2="849.20" y2="1061.33" stroke="#000" stroke-width="1.3" />
<circle cx="841.8" cy="1060.2" r="1.45" fill="none" stroke="#111" stroke-width="0.85"/>
<circle cx="846.5" cy="1061.9" r="1.45" fill="none" stroke="#111" stroke-width="0.85"/>
<circle cx="850.0" cy="1063.9" r="1.45" fill="none" stroke="#111" stroke-width="0.85"/>
<rect x="856.00" y="1062.26" width="12.60" height="6.14" fill="#5DBE8A" stroke="#000" stroke-width="1.6" />
<line x1="862.30" y1="1061.64" x2="862.30" y2="1062.26" stroke="#000" stroke-width="1.3" />
<line x1="859.10" y1="1061.64" x2="865.50" y2="1061.64" stroke="#000" stroke-width="1.3" />
<circle cx="858.1" cy="1060.6" r="1.45" fill="none" stroke="#111" stroke-width="0.85"/>
<circle cx="862.8" cy="1061.9" r="1.45" fill="none" stroke="#111" stroke-width="0.85"/>
<circle cx="866.3" cy="1063.5" r="1.45" fill="none" stroke="#111" stroke-width="0.85"/>
<rect x="872.40" y="1063.18" width="12.60" height="5.22" fill="#FBC5A8" stroke="#000" stroke-width="1.6" />
<line x1="878.70" y1="1062.69" x2="878.70" y2="1063.18" stroke="#000" stroke-width="1.3" />
<line x1="875.50" y1="1062.69" x2="881.90" y2="1062.69" stroke="#000" stroke-width="1.3" />
<circle cx="874.5" cy="1061.7" r="1.45" fill="none" stroke="#111" stroke-width="0.85"/>
<circle cx="879.2" cy="1062.9" r="1.45" fill="none" stroke="#111" stroke-width="0.85"/>
<circle cx="882.7" cy="1064.3" r="1.45" fill="none" stroke="#111" stroke-width="0.85"/>
<rect x="903.10" y="1039.52" width="12.60" height="28.88" fill="#D9D9D9" stroke="#000" stroke-width="1.6" />
<line x1="909.40" y1="1037.37" x2="909.40" y2="1039.52" stroke="#000" stroke-width="1.3" />
<line x1="906.20" y1="1037.37" x2="912.60" y2="1037.37" stroke="#000" stroke-width="1.3" />
<circle cx="905.2" cy="1036.0" r="1.45" fill="none" stroke="#111" stroke-width="0.85"/>
<circle cx="909.9" cy="1039.2" r="1.45" fill="none" stroke="#111" stroke-width="0.85"/>
<circle cx="913.4" cy="1042.5" r="1.45" fill="none" stroke="#111" stroke-width="0.85"/>
<rect x="919.60" y="1046.90" width="12.60" height="21.50" fill="#FF9A9E" stroke="#000" stroke-width="1.6" />
<line x1="925.90" y1="1046.16" x2="925.90" y2="1046.90" stroke="#000" stroke-width="1.3" />
<line x1="922.70" y1="1046.16" x2="929.10" y2="1046.16" stroke="#000" stroke-width="1.3" />
<circle cx="921.7" cy="1045.1" r="1.45" fill="none" stroke="#111" stroke-width="0.85"/>
<circle cx="926.4" cy="1046.6" r="1.45" fill="none" stroke="#111" stroke-width="0.85"/>
<circle cx="929.9" cy="1048.3" r="1.45" fill="none" stroke="#111" stroke-width="0.85"/>
<rect x="935.80" y="1054.27" width="12.60" height="14.13" fill="#5DBE8A" stroke="#000" stroke-width="1.6" />
<line x1="942.10" y1="1053.65" x2="942.10" y2="1054.27" stroke="#000" stroke-width="1.3" />
<line x1="938.90" y1="1053.65" x2="945.30" y2="1053.65" stroke="#000" stroke-width="1.3" />
<circle cx="937.9" cy="1052.6" r="1.45" fill="none" stroke="#111" stroke-width="0.85"/>
<circle cx="942.6" cy="1054.0" r="1.45" fill="none" stroke="#111" stroke-width="0.85"/>
<circle cx="946.1" cy="1055.6" r="1.45" fill="none" stroke="#111" stroke-width="0.85"/>
<rect x="952.10" y="1057.34" width="12.60" height="11.06" fill="#FBC5A8" stroke="#000" stroke-width="1.6" />
<line x1="958.40" y1="1054.58" x2="958.40" y2="1057.34" stroke="#000" stroke-width="1.3" />
<line x1="955.20" y1="1054.58" x2="961.60" y2="1054.58" stroke="#000" stroke-width="1.3" />
<circle cx="954.2" cy="1053.1" r="1.45" fill="none" stroke="#111" stroke-width="0.85"/>
<circle cx="958.9" cy="1057.0" r="1.45" fill="none" stroke="#111" stroke-width="0.85"/>
<circle cx="962.4" cy="1061.0" r="1.45" fill="none" stroke="#111" stroke-width="0.85"/>
<text x="591.10" y="923.30" font-size="15.8" text-anchor="middle" font-weight="normal" font-style="normal" fill="#000" >a</text>
<text x="607.00" y="1003.80" font-size="15.8" text-anchor="middle" font-weight="normal" font-style="normal" fill="#000" >b</text>
<text x="623.90" y="1040.60" font-size="15.8" text-anchor="middle" font-weight="normal" font-style="normal" fill="#000" >c</text>
<text x="640.00" y="1050.00" font-size="15.8" text-anchor="middle" font-weight="normal" font-style="normal" fill="#000" >c</text>
<text x="750.40" y="1022.70" font-size="15.8" text-anchor="middle" font-weight="normal" font-style="normal" fill="#000" >a</text>
<text x="766.60" y="1040.30" font-size="15.8" text-anchor="middle" font-weight="normal" font-style="normal" fill="#000" >b</text>
<text x="783.20" y="1050.50" font-size="15.8" text-anchor="middle" font-weight="normal" font-style="normal" fill="#000" >c</text>
<text x="799.40" y="1052.30" font-size="15.8" text-anchor="middle" font-weight="normal" font-style="normal" fill="#000" >c</text>
<text x="909.90" y="1031.40" font-size="15.8" text-anchor="middle" font-weight="normal" font-style="normal" fill="#000" >a</text>
<text x="925.60" y="1044.00" font-size="15.8" text-anchor="middle" font-weight="normal" font-style="normal" fill="#000" >b</text>
<text x="942.00" y="1050.00" font-size="15.8" text-anchor="middle" font-weight="normal" font-style="normal" fill="#000" >c</text>
<text x="958.40" y="1048.50" font-size="15.8" text-anchor="middle" font-weight="normal" font-style="normal" fill="#000" >c</text>
<line x1="654.20" y1="915.00" x2="654.20" y2="1061.50" stroke="#9a9a9a" stroke-width="1.0" stroke-dasharray="5.2,3.6"/>
<line x1="814.00" y1="915.00" x2="814.00" y2="1061.50" stroke="#9a9a9a" stroke-width="1.0" stroke-dasharray="5.2,3.6"/>
<line x1="496.60" y1="914.10" x2="496.60" y2="1069.10" stroke="#000" stroke-width="1.5" />
<line x1="495.90" y1="1068.40" x2="974.00" y2="1068.40" stroke="#000" stroke-width="1.5" />
<line x1="491.60" y1="1068.40" x2="496.60" y2="1068.40" stroke="#000" stroke-width="1.5" />
<text x="490.10" y="1073.70" font-size="14.8" text-anchor="end" font-weight="normal" font-style="normal" fill="#111" >0</text>
<line x1="491.60" y1="1037.68" x2="496.60" y2="1037.68" stroke="#000" stroke-width="1.5" />
<text x="490.10" y="1042.98" font-size="14.8" text-anchor="end" font-weight="normal" font-style="normal" fill="#111" >5</text>
<line x1="491.60" y1="1006.96" x2="496.60" y2="1006.96" stroke="#000" stroke-width="1.5" />
<text x="490.10" y="1012.26" font-size="14.8" text-anchor="end" font-weight="normal" font-style="normal" fill="#111" >10</text>
<line x1="491.60" y1="976.24" x2="496.60" y2="976.24" stroke="#000" stroke-width="1.5" />
<text x="490.10" y="981.54" font-size="14.8" text-anchor="end" font-weight="normal" font-style="normal" fill="#111" >15</text>
<line x1="491.60" y1="945.52" x2="496.60" y2="945.52" stroke="#000" stroke-width="1.5" />
<text x="490.10" y="950.82" font-size="14.8" text-anchor="end" font-weight="normal" font-style="normal" fill="#111" >20</text>
<line x1="491.60" y1="914.80" x2="496.60" y2="914.80" stroke="#000" stroke-width="1.5" />
<text x="490.10" y="920.10" font-size="14.8" text-anchor="end" font-weight="normal" font-style="normal" fill="#111" >25</text>
<line x1="535.20" y1="1068.40" x2="535.20" y2="1073.40" stroke="#000" stroke-width="1.5" />
<text x="535.20" y="1087.80" font-size="15.0" text-anchor="middle" font-weight="normal" font-style="normal" fill="#111" >–N</text>
<line x1="614.40" y1="1068.40" x2="614.40" y2="1073.40" stroke="#000" stroke-width="1.5" />
<text x="614.40" y="1087.80" font-size="15.0" text-anchor="middle" font-weight="normal" font-style="normal" fill="#111" >+N</text>
<line x1="694.30" y1="1068.40" x2="694.30" y2="1073.40" stroke="#000" stroke-width="1.5" />
<text x="694.30" y="1087.80" font-size="15.0" text-anchor="middle" font-weight="normal" font-style="normal" fill="#111" >–N</text>
<line x1="773.60" y1="1068.40" x2="773.60" y2="1073.40" stroke="#000" stroke-width="1.5" />
<text x="773.60" y="1087.80" font-size="15.0" text-anchor="middle" font-weight="normal" font-style="normal" fill="#111" >+N</text>
<line x1="853.80" y1="1068.40" x2="853.80" y2="1073.40" stroke="#000" stroke-width="1.5" />
<text x="853.80" y="1087.80" font-size="15.0" text-anchor="middle" font-weight="normal" font-style="normal" fill="#111" stroke="#111" stroke-width="0.55">–N</text>
<line x1="933.00" y1="1068.40" x2="933.00" y2="1073.40" stroke="#000" stroke-width="1.5" />
<text x="933.00" y="1087.80" font-size="15.0" text-anchor="middle" font-weight="normal" font-style="normal" fill="#111" stroke="#111" stroke-width="0.55">+N</text>
<line x1="521.20" y1="1092.00" x2="624.00" y2="1092.00" stroke="#000" stroke-width="2.0" />
<text x="573.40" y="1111.80" font-size="14.8" text-anchor="middle" font-weight="normal" font-style="italic" fill="#111" >NIA1</text>
<line x1="682.80" y1="1093.50" x2="785.80" y2="1093.50" stroke="#000" stroke-width="2.0" />
<text x="734.00" y="1114.80" font-size="14.8" text-anchor="middle" font-weight="normal" font-style="italic" fill="#111" >NiR</text>
<line x1="841.60" y1="1091.50" x2="944.40" y2="1091.50" stroke="#000" stroke-width="2.0" />
<text x="891.50" y="1112.00" font-size="14.8" text-anchor="middle" font-weight="normal" font-style="italic" fill="#111" >NRT2.1</text>
<rect x="843.30" y="911.30" width="14.40" height="8.60" fill="#D9D9D9" stroke="#000" stroke-width="1.4" />
<text x="867.70" y="920.80" font-size="14.8" text-anchor="start" font-weight="normal" font-style="normal" fill="#111" >WT</text>
<rect x="843.30" y="930.10" width="14.40" height="8.60" fill="#FF9A9E" stroke="#000" stroke-width="1.4" />
<text x="867.70" y="939.60" font-size="14.8" text-anchor="start" font-weight="normal" font-style="italic" fill="#111" >eif4e1-4</text>
<rect x="843.30" y="947.70" width="14.40" height="8.60" fill="#5DBE8A" stroke="#000" stroke-width="1.4" />
<text x="867.70" y="957.20" font-size="14.8" text-anchor="start" font-weight="normal" font-style="italic" fill="#111" >chl1-13</text>
<rect x="843.30" y="965.70" width="14.40" height="8.60" fill="#FBC5A8" stroke="#000" stroke-width="1.4" />
<text x="867.70" y="975.20" font-size="14.8" text-anchor="start" font-weight="normal" font-style="italic" fill="#111" >eif4e1-4 chl1-13</text>
<text transform="translate(465,991) rotate(-90)" text-anchor="middle" font-size="15.3" fill="#111">Relative expression</text>
<text x="120.00" y="40.00" font-size="13.5" text-anchor="start" font-weight="bold" font-style="normal" fill="#000" >a</text>
<text x="424.00" y="39.50" font-size="13.5" text-anchor="start" font-weight="bold" font-style="normal" fill="#000" >b</text>
<text x="116.00" y="245.50" font-size="13.5" text-anchor="start" font-weight="bold" font-style="normal" fill="#000" >c</text>
<text x="121.00" y="614.60" font-size="13.5" text-anchor="start" font-weight="bold" font-style="normal" fill="#000" >d</text>
<text x="506.00" y="422.00" font-size="13.5" text-anchor="start" font-weight="bold" font-style="normal" fill="#000" >e</text>
<text x="121.00" y="894.30" font-size="13.5" text-anchor="start" font-weight="bold" font-style="normal" fill="#000" >f</text>
<text x="465.20" y="894.40" font-size="13.5" text-anchor="start" font-weight="bold" font-style="normal" fill="#000" >g</text>
</svg>
</body></html>
